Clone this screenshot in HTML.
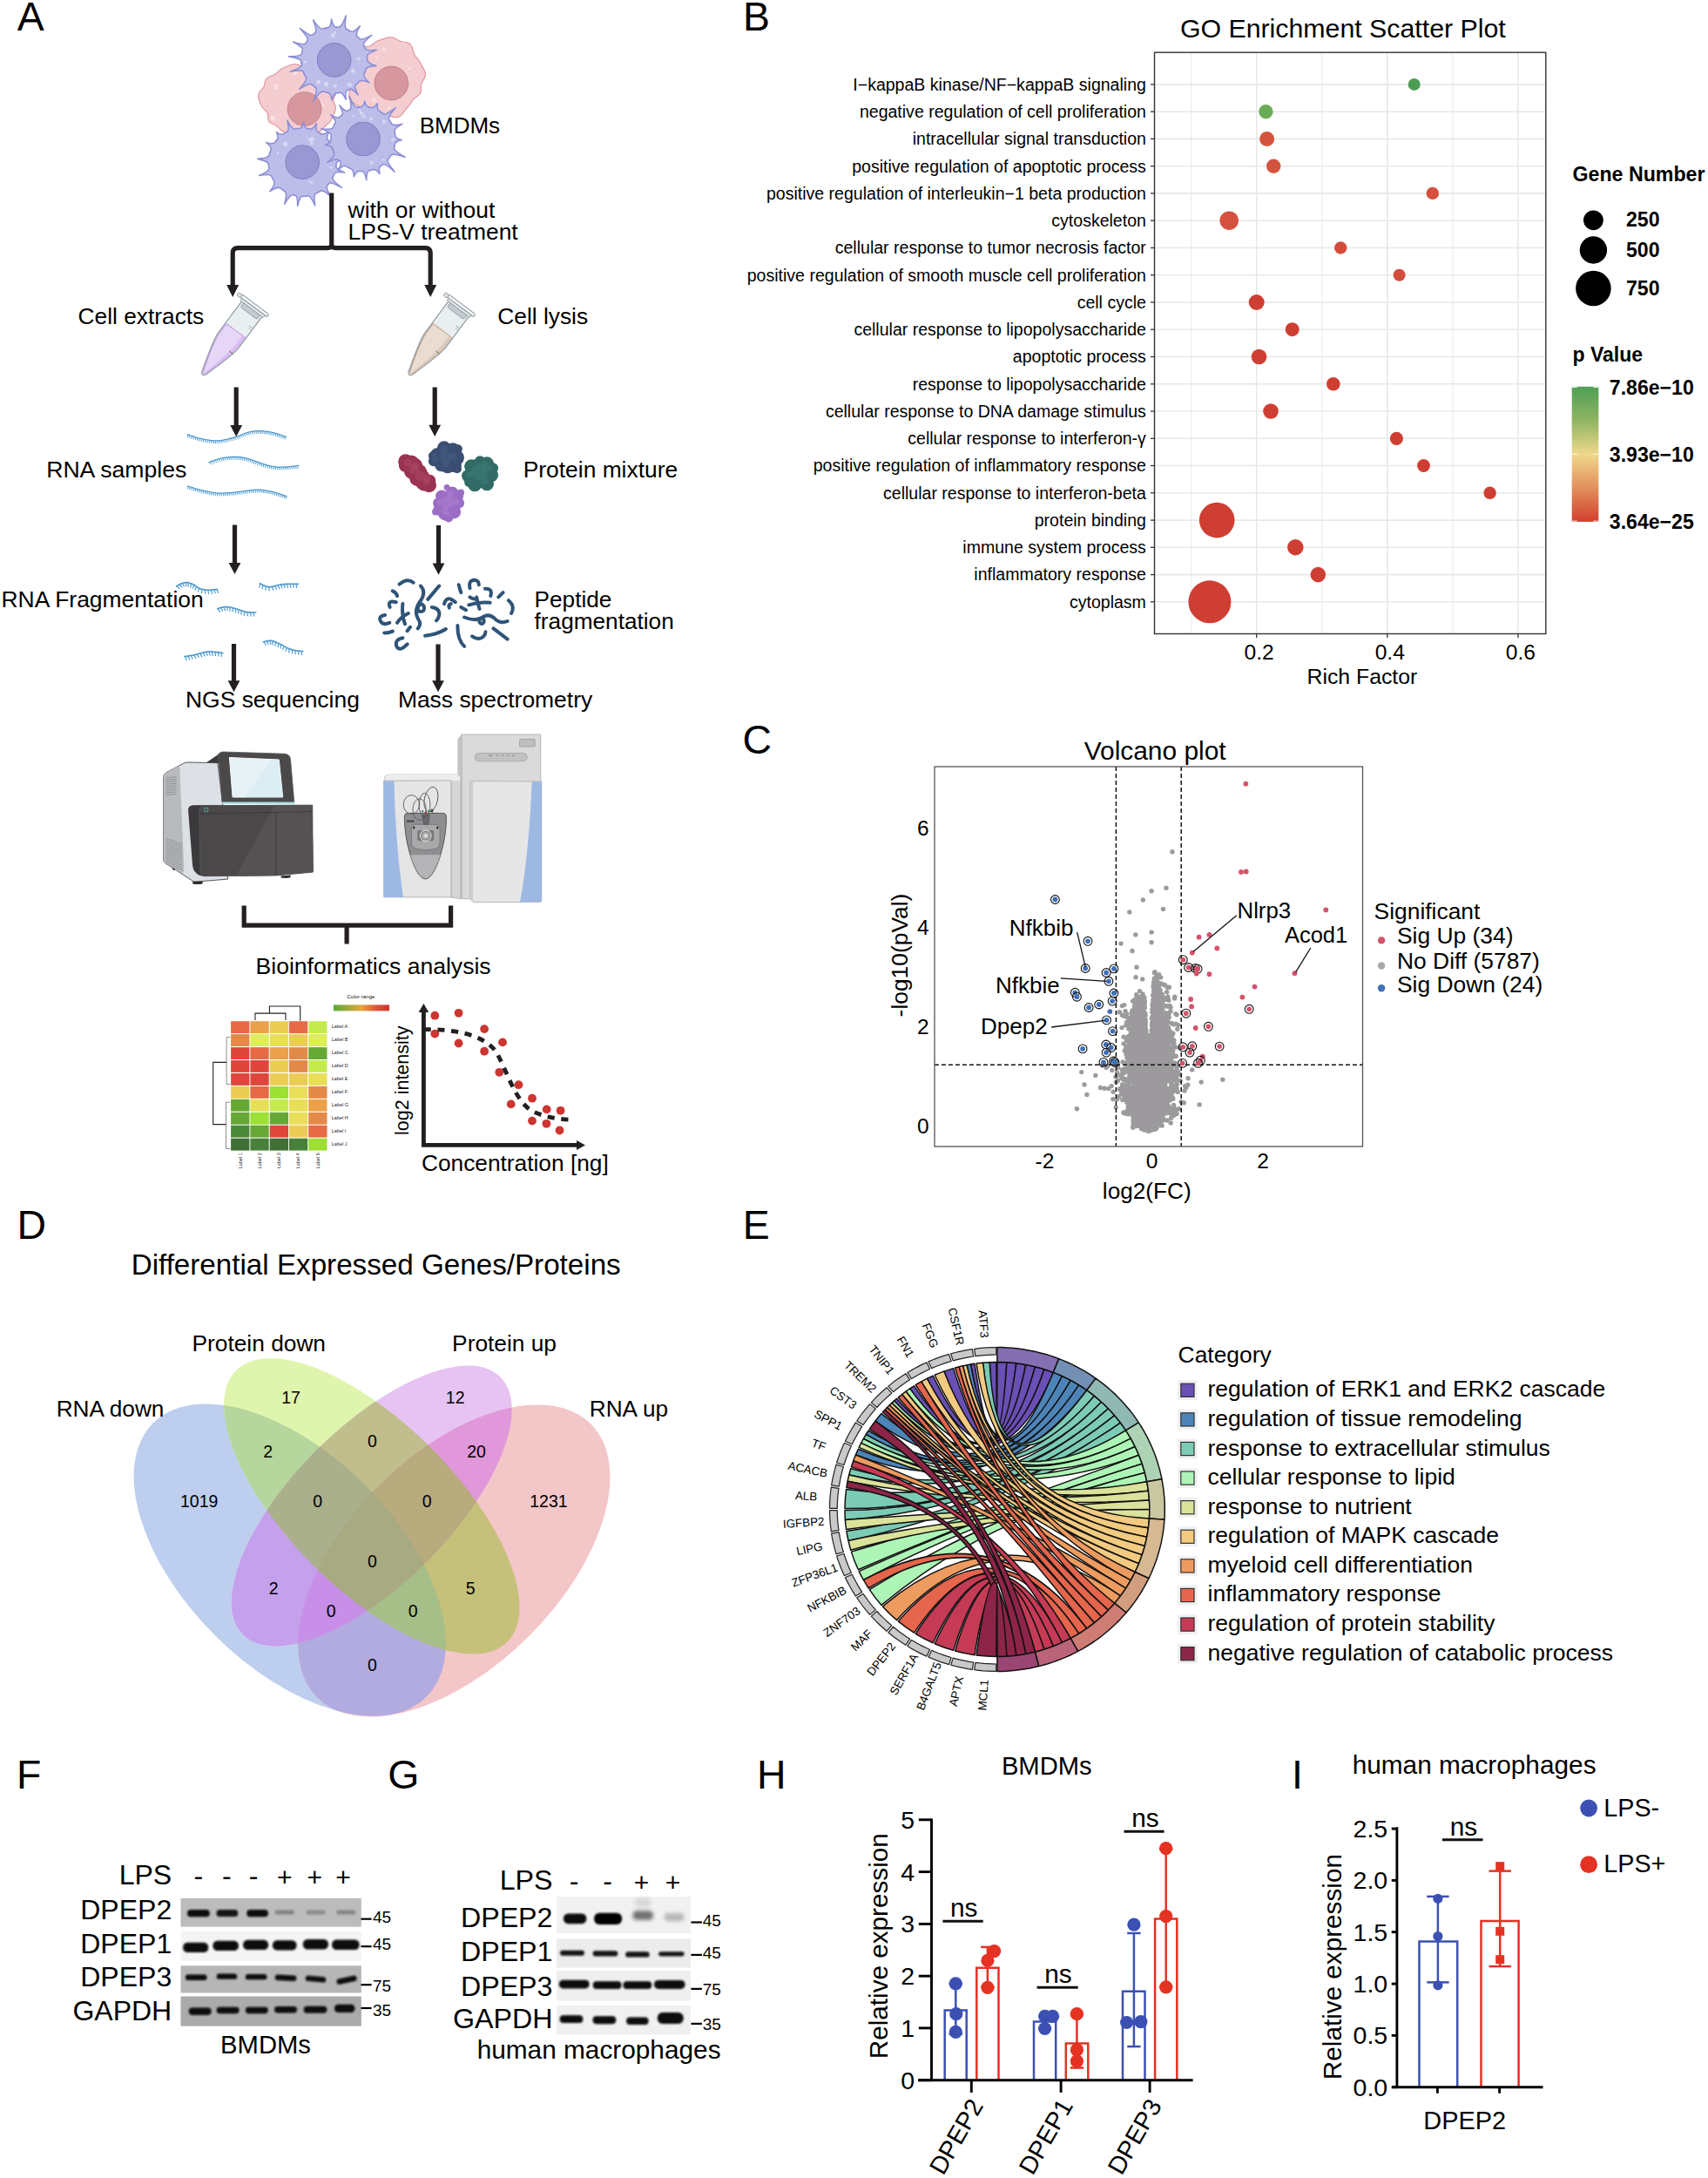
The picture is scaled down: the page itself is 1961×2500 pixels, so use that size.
<!DOCTYPE html>
<html><head><meta charset="utf-8"><title>Figure</title>
<style>html,body{margin:0;padding:0;background:#fff}svg{display:block}text{font-family:'Liberation Sans', Arial, sans-serif;}</style>
</head><body>
<svg width="1961" height="2500" viewBox="0 0 1961 2500" font-family="Liberation Sans, Arial, sans-serif">
<rect width="1961" height="2500" fill="#fff"/>
<g id="letters"><text x="19.8" y="34.9" font-size="46.4">A</text>
<text x="852.9" y="34.9" font-size="46.4">B</text>
<text x="852.5" y="865.4" font-size="46.4">C</text>
<text x="19.5" y="1421.9" font-size="46.4">D</text>
<text x="852.8" y="1421.9" font-size="46.4">E</text>
<text x="19.0" y="2052.8" font-size="46.4">F</text>
<text x="445.3" y="2052.8" font-size="46.4">G</text>
<text x="869.1" y="2052.8" font-size="46.4">H</text>
<text x="1482.9" y="2052.8" font-size="46.4">I</text></g>
<g id="panelB">
<text x="1541.8" y="43.4" font-size="30.3" text-anchor="middle">GO Enrichment Scatter Plot</text>
<rect x="1325.5" y="60.2" width="449.3" height="667.3" fill="#fff"/>
<line x1="1442.7" y1="60.2" x2="1442.7" y2="727.5" stroke="#e8e8e8" stroke-width="1.6"/>
<line x1="1592.8" y1="60.2" x2="1592.8" y2="727.5" stroke="#e8e8e8" stroke-width="1.6"/>
<line x1="1742.9" y1="60.2" x2="1742.9" y2="727.5" stroke="#e8e8e8" stroke-width="1.6"/>
<line x1="1367.7" y1="60.2" x2="1367.7" y2="727.5" stroke="#eeeeee" stroke-width="1.2"/>
<line x1="1517.8" y1="60.2" x2="1517.8" y2="727.5" stroke="#eeeeee" stroke-width="1.2"/>
<line x1="1667.9" y1="60.2" x2="1667.9" y2="727.5" stroke="#eeeeee" stroke-width="1.2"/>
<line x1="1325.5" y1="96.9" x2="1774.8" y2="96.9" stroke="#e8e8e8" stroke-width="1.6"/>
<line x1="1325.5" y1="128.2" x2="1774.8" y2="128.2" stroke="#e8e8e8" stroke-width="1.6"/>
<line x1="1325.5" y1="159.4" x2="1774.8" y2="159.4" stroke="#e8e8e8" stroke-width="1.6"/>
<line x1="1325.5" y1="190.7" x2="1774.8" y2="190.7" stroke="#e8e8e8" stroke-width="1.6"/>
<line x1="1325.5" y1="221.9" x2="1774.8" y2="221.9" stroke="#e8e8e8" stroke-width="1.6"/>
<line x1="1325.5" y1="253.2" x2="1774.8" y2="253.2" stroke="#e8e8e8" stroke-width="1.6"/>
<line x1="1325.5" y1="284.5" x2="1774.8" y2="284.5" stroke="#e8e8e8" stroke-width="1.6"/>
<line x1="1325.5" y1="315.7" x2="1774.8" y2="315.7" stroke="#e8e8e8" stroke-width="1.6"/>
<line x1="1325.5" y1="347.0" x2="1774.8" y2="347.0" stroke="#e8e8e8" stroke-width="1.6"/>
<line x1="1325.5" y1="378.2" x2="1774.8" y2="378.2" stroke="#e8e8e8" stroke-width="1.6"/>
<line x1="1325.5" y1="409.5" x2="1774.8" y2="409.5" stroke="#e8e8e8" stroke-width="1.6"/>
<line x1="1325.5" y1="440.8" x2="1774.8" y2="440.8" stroke="#e8e8e8" stroke-width="1.6"/>
<line x1="1325.5" y1="472.0" x2="1774.8" y2="472.0" stroke="#e8e8e8" stroke-width="1.6"/>
<line x1="1325.5" y1="503.3" x2="1774.8" y2="503.3" stroke="#e8e8e8" stroke-width="1.6"/>
<line x1="1325.5" y1="534.5" x2="1774.8" y2="534.5" stroke="#e8e8e8" stroke-width="1.6"/>
<line x1="1325.5" y1="565.8" x2="1774.8" y2="565.8" stroke="#e8e8e8" stroke-width="1.6"/>
<line x1="1325.5" y1="597.1" x2="1774.8" y2="597.1" stroke="#e8e8e8" stroke-width="1.6"/>
<line x1="1325.5" y1="628.3" x2="1774.8" y2="628.3" stroke="#e8e8e8" stroke-width="1.6"/>
<line x1="1325.5" y1="659.6" x2="1774.8" y2="659.6" stroke="#e8e8e8" stroke-width="1.6"/>
<line x1="1325.5" y1="690.8" x2="1774.8" y2="690.8" stroke="#e8e8e8" stroke-width="1.6"/>
<rect x="1325.5" y="60.2" width="449.3" height="667.3" fill="none" stroke="#333" stroke-width="1.4"/>
<line x1="1321.0" y1="96.9" x2="1325.5" y2="96.9" stroke="#333" stroke-width="1.3"/>
<text x="1315.9" y="103.7" font-size="19.55" text-anchor="end">I−kappaB kinase/NF−kappaB signaling</text>
<circle cx="1623.7" cy="96.9" r="7.0" fill="#4a9d52"/>
<line x1="1321.0" y1="128.2" x2="1325.5" y2="128.2" stroke="#333" stroke-width="1.3"/>
<text x="1315.9" y="135.0" font-size="19.55" text-anchor="end">negative regulation of cell proliferation</text>
<circle cx="1453.4" cy="128.2" r="8.2" fill="#6aab58"/>
<line x1="1321.0" y1="159.4" x2="1325.5" y2="159.4" stroke="#333" stroke-width="1.3"/>
<text x="1315.9" y="166.2" font-size="19.55" text-anchor="end">intracellular signal transduction</text>
<circle cx="1454.6" cy="159.4" r="8.5" fill="#d4533f"/>
<line x1="1321.0" y1="190.7" x2="1325.5" y2="190.7" stroke="#333" stroke-width="1.3"/>
<text x="1315.9" y="197.5" font-size="19.55" text-anchor="end">positive regulation of apoptotic process</text>
<circle cx="1462.2" cy="190.7" r="8.2" fill="#d4533f"/>
<line x1="1321.0" y1="221.9" x2="1325.5" y2="221.9" stroke="#333" stroke-width="1.3"/>
<text x="1315.9" y="228.7" font-size="19.55" text-anchor="end">positive regulation of interleukin−1 beta production</text>
<circle cx="1644.8" cy="221.9" r="7.2" fill="#d4503d"/>
<line x1="1321.0" y1="253.2" x2="1325.5" y2="253.2" stroke="#333" stroke-width="1.3"/>
<text x="1315.9" y="260.0" font-size="19.55" text-anchor="end">cytoskeleton</text>
<circle cx="1411.2" cy="253.2" r="10.8" fill="#d5513f"/>
<line x1="1321.0" y1="284.5" x2="1325.5" y2="284.5" stroke="#333" stroke-width="1.3"/>
<text x="1315.9" y="291.3" font-size="19.55" text-anchor="end">cellular response to tumor necrosis factor</text>
<circle cx="1539.2" cy="284.5" r="7.2" fill="#d34c3c"/>
<line x1="1321.0" y1="315.7" x2="1325.5" y2="315.7" stroke="#333" stroke-width="1.3"/>
<text x="1315.9" y="322.5" font-size="19.55" text-anchor="end">positive regulation of smooth muscle cell proliferation</text>
<circle cx="1606.6" cy="315.7" r="7.0" fill="#d34c3c"/>
<line x1="1321.0" y1="347.0" x2="1325.5" y2="347.0" stroke="#333" stroke-width="1.3"/>
<text x="1315.9" y="353.8" font-size="19.55" text-anchor="end">cell cycle</text>
<circle cx="1442.7" cy="347.0" r="9.0" fill="#cf3e33"/>
<line x1="1321.0" y1="378.2" x2="1325.5" y2="378.2" stroke="#333" stroke-width="1.3"/>
<text x="1315.9" y="385.0" font-size="19.55" text-anchor="end">cellular response to lipopolysaccharide</text>
<circle cx="1483.7" cy="378.2" r="8.0" fill="#cf3e33"/>
<line x1="1321.0" y1="409.5" x2="1325.5" y2="409.5" stroke="#333" stroke-width="1.3"/>
<text x="1315.9" y="416.3" font-size="19.55" text-anchor="end">apoptotic process</text>
<circle cx="1445.5" cy="409.5" r="8.8" fill="#cf3e33"/>
<line x1="1321.0" y1="440.8" x2="1325.5" y2="440.8" stroke="#333" stroke-width="1.3"/>
<text x="1315.9" y="447.6" font-size="19.55" text-anchor="end">response to lipopolysaccharide</text>
<circle cx="1530.8" cy="440.8" r="7.8" fill="#cf3e33"/>
<line x1="1321.0" y1="472.0" x2="1325.5" y2="472.0" stroke="#333" stroke-width="1.3"/>
<text x="1315.9" y="478.8" font-size="19.55" text-anchor="end">cellular response to DNA damage stimulus</text>
<circle cx="1459.0" cy="472.0" r="8.8" fill="#cf3e33"/>
<line x1="1321.0" y1="503.3" x2="1325.5" y2="503.3" stroke="#333" stroke-width="1.3"/>
<text x="1315.9" y="510.1" font-size="19.55" text-anchor="end">cellular response to interferon-γ</text>
<circle cx="1603.4" cy="503.3" r="7.6" fill="#cf3e33"/>
<line x1="1321.0" y1="534.5" x2="1325.5" y2="534.5" stroke="#333" stroke-width="1.3"/>
<text x="1315.9" y="541.3" font-size="19.55" text-anchor="end">positive regulation of inflammatory response</text>
<circle cx="1634.5" cy="534.5" r="7.4" fill="#cf3e33"/>
<line x1="1321.0" y1="565.8" x2="1325.5" y2="565.8" stroke="#333" stroke-width="1.3"/>
<text x="1315.9" y="572.6" font-size="19.55" text-anchor="end">cellular response to interferon-beta</text>
<circle cx="1710.6" cy="565.8" r="7.2" fill="#cf3e33"/>
<line x1="1321.0" y1="597.1" x2="1325.5" y2="597.1" stroke="#333" stroke-width="1.3"/>
<text x="1315.9" y="603.9" font-size="19.55" text-anchor="end">protein binding</text>
<circle cx="1397.2" cy="597.1" r="20.3" fill="#cf3e33"/>
<line x1="1321.0" y1="628.3" x2="1325.5" y2="628.3" stroke="#333" stroke-width="1.3"/>
<text x="1315.9" y="635.1" font-size="19.55" text-anchor="end">immune system process</text>
<circle cx="1487.3" cy="628.3" r="9.2" fill="#cf3e33"/>
<line x1="1321.0" y1="659.6" x2="1325.5" y2="659.6" stroke="#333" stroke-width="1.3"/>
<text x="1315.9" y="666.4" font-size="19.55" text-anchor="end">inflammatory response</text>
<circle cx="1513.3" cy="659.6" r="8.8" fill="#cf3e33"/>
<line x1="1321.0" y1="690.8" x2="1325.5" y2="690.8" stroke="#333" stroke-width="1.3"/>
<text x="1315.9" y="697.6" font-size="19.55" text-anchor="end">cytoplasm</text>
<circle cx="1388.9" cy="690.8" r="24.5" fill="#cf3e33"/>
<line x1="1442.7" y1="727.5" x2="1442.7" y2="732.0" stroke="#333" stroke-width="1.3"/>
<text x="1445.7" y="757.0" font-size="24.6" text-anchor="middle">0.2</text>
<line x1="1592.8" y1="727.5" x2="1592.8" y2="732.0" stroke="#333" stroke-width="1.3"/>
<text x="1595.8" y="757.0" font-size="24.6" text-anchor="middle">0.4</text>
<line x1="1742.9" y1="727.5" x2="1742.9" y2="732.0" stroke="#333" stroke-width="1.3"/>
<text x="1745.9" y="757.0" font-size="24.6" text-anchor="middle">0.6</text>
<text x="1563.9" y="785.0" font-size="24.8" text-anchor="middle">Rich Factor</text>
<text x="1805.5" y="208.0" font-size="23.2" font-weight="bold">Gene Number</text>
<circle cx="1829.4" cy="252.8" r="11.4" fill="#000"/>
<text x="1867.0" y="260.0" font-size="23.1" font-weight="bold">250</text>
<circle cx="1829.4" cy="287.0" r="15.7" fill="#000"/>
<text x="1867.0" y="294.7" font-size="23.1" font-weight="bold">500</text>
<circle cx="1829.4" cy="331.0" r="20.3" fill="#000"/>
<text x="1867.0" y="338.5" font-size="23.1" font-weight="bold">750</text>
<text x="1805.5" y="415.0" font-size="23" font-weight="bold">p Value</text>
<defs><linearGradient id="pv" x1="0" y1="0" x2="0" y2="1"><stop offset="0" stop-color="#4f9e55"/><stop offset="0.25" stop-color="#8fb564"/><stop offset="0.5" stop-color="#efd88c"/><stop offset="0.75" stop-color="#e28f5c"/><stop offset="1" stop-color="#d1402f"/></linearGradient></defs>
<rect x="1804.7" y="443.8" width="30.7" height="155.1" fill="url(#pv)"/>
<line x1="1804.7" y1="444.6" x2="1810.8" y2="444.6" stroke="#fff" stroke-width="0.9"/>
<line x1="1829.3" y1="444.6" x2="1835.4" y2="444.6" stroke="#fff" stroke-width="0.9"/>
<line x1="1804.7" y1="521.3" x2="1810.8" y2="521.3" stroke="#fff" stroke-width="0.9"/>
<line x1="1829.3" y1="521.3" x2="1835.4" y2="521.3" stroke="#fff" stroke-width="0.9"/>
<line x1="1804.7" y1="598.1" x2="1810.8" y2="598.1" stroke="#fff" stroke-width="0.9"/>
<line x1="1829.3" y1="598.1" x2="1835.4" y2="598.1" stroke="#fff" stroke-width="0.9"/>
<text x="1847.8" y="452.6" font-size="23.1" font-weight="bold">7.86e−10</text>
<text x="1847.8" y="530.0" font-size="23.1" font-weight="bold">3.93e−10</text>
<text x="1847.8" y="607.3" font-size="23.1" font-weight="bold">3.64e−25</text>
</g>
<g id="panelC">
<text x="1326.2" y="872.3" font-size="29.9" text-anchor="middle">Volcano plot</text>
<path d="M1330.3 1281.1h0M1325.9 1291.7h0M1316.7 1288.0h0M1333.0 1226.6h0M1324.2 1153.2h0M1326.9 1263.1h0M1323.6 1255.8h0M1311.1 1220.5h0M1322.3 1264.1h0M1320.9 1238.3h0M1309.6 1149.5h0M1347.0 1221.9h0M1333.6 1218.8h0M1304.8 1147.0h0M1324.1 1184.8h0M1317.6 1295.8h0M1318.2 1210.5h0M1297.0 1191.2h0M1304.8 1151.1h0M1319.0 1242.9h0M1340.2 1256.1h0M1351.2 1227.7h0M1329.7 1150.6h0M1309.5 1225.8h0M1310.5 1259.5h0M1304.3 1256.8h0M1314.4 1269.5h0M1316.6 1286.7h0M1321.1 1295.7h0M1327.7 1295.3h0M1307.3 1268.5h0M1314.2 1209.3h0M1323.1 1183.8h0M1306.2 1266.4h0M1332.6 1191.2h0M1313.5 1272.4h0M1339.9 1191.0h0M1313.0 1170.9h0M1336.1 1194.9h0M1321.2 1296.7h0M1325.2 1133.3h0M1320.0 1270.8h0M1303.9 1194.3h0M1330.6 1134.0h0M1290.1 1248.0h0M1332.5 1244.2h0M1335.7 1234.8h0M1335.8 1266.7h0M1306.4 1148.6h0M1360.6 1246.6h0M1308.7 1290.1h0M1312.4 1149.4h0M1308.2 1145.8h0M1308.6 1259.6h0M1304.4 1235.0h0M1290.5 1239.8h0M1297.1 1181.5h0M1305.0 1182.1h0M1312.4 1190.8h0M1322.8 1191.0h0M1332.1 1192.0h0M1308.1 1192.4h0M1313.1 1285.8h0M1323.2 1263.5h0M1318.7 1258.7h0M1311.5 1173.2h0M1332.2 1219.7h0M1300.2 1162.8h0M1320.8 1290.3h0M1327.5 1202.1h0M1308.9 1264.8h0M1332.5 1188.4h0M1322.5 1244.1h0M1304.2 1268.1h0M1316.0 1263.6h0M1329.4 1161.7h0M1309.7 1185.7h0M1339.5 1202.8h0M1336.1 1188.2h0M1323.8 1153.0h0M1307.1 1272.1h0M1329.2 1202.8h0M1302.4 1242.4h0M1345.5 1237.1h0M1313.9 1289.8h0M1329.4 1220.2h0M1309.3 1281.5h0M1316.7 1296.9h0M1297.7 1221.1h0M1320.2 1284.8h0M1288.3 1154.6h0M1314.0 1190.2h0M1313.7 1189.4h0M1305.8 1159.4h0M1318.0 1297.9h0M1315.1 1259.0h0M1314.2 1152.4h0M1287.7 1255.8h0M1318.5 1249.4h0M1323.0 1180.7h0M1309.3 1276.6h0M1329.0 1163.1h0M1327.4 1192.8h0M1311.9 1265.6h0M1315.4 1259.1h0M1272.0 1223.3h0M1323.5 1274.6h0M1318.5 1288.0h0M1325.4 1233.2h0M1302.1 1238.4h0M1313.0 1187.7h0M1316.0 1184.3h0M1333.6 1189.3h0M1321.6 1217.2h0M1322.4 1253.6h0M1345.4 1220.4h0M1340.6 1172.0h0M1326.4 1193.1h0M1326.6 1225.6h0M1314.8 1231.7h0M1300.0 1263.9h0M1311.7 1171.0h0M1288.1 1179.6h0M1333.0 1222.0h0M1323.2 1250.3h0M1297.2 1169.5h0M1340.0 1273.0h0M1289.9 1276.9h0M1287.7 1253.4h0M1317.5 1291.5h0M1332.4 1144.3h0M1310.6 1255.6h0M1320.5 1258.2h0M1345.1 1257.6h0M1303.2 1244.2h0M1314.7 1195.8h0M1306.4 1193.3h0M1331.7 1212.9h0M1309.9 1266.8h0M1328.3 1188.9h0M1331.5 1241.9h0M1329.0 1153.2h0M1327.3 1257.0h0M1304.2 1182.7h0M1330.6 1186.2h0M1316.1 1287.3h0M1331.5 1250.7h0M1310.7 1161.3h0M1322.5 1255.7h0M1326.9 1280.8h0M1324.5 1184.9h0M1298.6 1185.0h0M1341.8 1276.7h0M1316.9 1199.3h0M1327.3 1150.1h0M1317.9 1282.2h0M1310.2 1275.1h0M1313.4 1262.7h0M1307.0 1286.8h0M1326.2 1279.6h0M1308.0 1189.3h0M1325.1 1199.5h0M1307.8 1184.9h0M1329.5 1174.6h0M1324.9 1235.3h0M1326.3 1255.9h0M1298.9 1192.5h0M1307.1 1145.4h0M1305.1 1192.4h0M1323.7 1187.2h0M1309.9 1239.1h0M1314.4 1149.4h0M1337.8 1189.3h0M1339.9 1250.3h0M1304.9 1248.2h0M1327.8 1211.0h0M1315.2 1286.1h0M1314.3 1240.0h0M1332.9 1155.5h0M1295.3 1189.6h0M1290.8 1153.6h0M1331.3 1208.2h0M1325.3 1187.2h0M1322.4 1240.9h0M1315.2 1261.9h0M1329.0 1189.5h0M1326.3 1166.9h0M1334.6 1185.1h0M1338.3 1278.1h0M1338.8 1225.3h0M1318.1 1298.2h0M1326.9 1239.7h0M1317.5 1295.8h0M1326.0 1272.7h0M1307.6 1244.0h0M1329.3 1287.4h0M1308.3 1268.1h0M1296.8 1224.5h0M1306.7 1195.0h0M1327.4 1291.7h0M1304.9 1148.3h0M1315.4 1186.4h0M1342.0 1155.3h0M1317.7 1213.5h0M1318.2 1293.9h0M1306.7 1158.9h0M1297.8 1168.6h0M1318.0 1197.7h0M1331.2 1147.0h0M1332.4 1271.0h0M1307.9 1186.4h0M1332.0 1173.0h0M1311.6 1227.2h0M1321.7 1286.2h0M1325.0 1293.6h0M1336.8 1192.0h0M1307.4 1285.6h0M1340.3 1204.0h0M1312.9 1211.7h0M1306.6 1269.0h0M1332.9 1188.1h0M1301.1 1251.1h0M1306.0 1167.8h0M1313.0 1186.6h0M1302.5 1155.3h0M1327.6 1258.7h0M1350.9 1273.8h0M1332.1 1208.2h0M1298.5 1252.5h0M1314.1 1194.1h0M1319.8 1237.6h0M1306.8 1261.0h0M1314.1 1186.7h0M1319.9 1245.5h0M1323.9 1217.9h0M1325.7 1261.0h0M1346.6 1186.8h0M1326.0 1254.4h0M1325.1 1275.9h0M1316.3 1294.5h0M1305.8 1226.0h0M1336.5 1213.6h0M1311.0 1173.8h0M1328.9 1159.5h0M1330.8 1262.6h0M1323.0 1158.8h0M1302.3 1227.3h0M1332.7 1223.5h0M1331.4 1153.6h0M1337.4 1216.3h0M1325.3 1251.4h0M1306.8 1211.1h0M1305.2 1267.0h0M1317.6 1218.5h0M1326.5 1147.2h0M1314.6 1274.1h0M1326.1 1244.7h0M1326.3 1225.3h0M1310.9 1235.7h0M1315.6 1181.7h0M1319.2 1298.1h0M1303.0 1243.5h0M1343.5 1192.1h0M1314.5 1296.6h0M1316.6 1286.7h0M1320.6 1280.9h0M1334.6 1164.2h0M1303.0 1152.4h0M1320.0 1197.4h0M1310.0 1242.0h0M1320.1 1241.4h0M1334.8 1171.4h0M1339.2 1250.5h0M1324.0 1295.1h0M1346.8 1186.1h0M1335.2 1216.2h0M1320.5 1244.1h0M1325.2 1250.1h0M1324.4 1174.7h0M1335.1 1264.1h0M1323.4 1215.7h0M1317.1 1297.6h0M1334.5 1208.1h0M1323.4 1218.7h0M1327.2 1246.0h0M1326.9 1209.8h0M1323.5 1155.1h0M1297.6 1261.9h0M1296.8 1233.5h0M1307.0 1193.3h0M1333.9 1191.1h0M1317.3 1224.6h0M1313.0 1220.2h0M1314.9 1188.8h0M1313.5 1185.8h0M1312.3 1158.0h0M1323.7 1142.5h0M1330.6 1223.9h0M1325.4 1186.9h0M1314.6 1232.6h0M1331.7 1176.8h0M1323.4 1208.4h0M1323.2 1291.4h0M1329.9 1229.1h0M1336.6 1249.3h0M1319.0 1195.9h0M1333.0 1250.0h0M1331.7 1203.1h0M1332.1 1201.0h0M1320.6 1288.6h0M1310.8 1147.7h0M1322.9 1269.2h0M1321.3 1206.1h0M1333.8 1150.0h0M1315.3 1276.4h0M1321.5 1252.3h0M1329.8 1187.4h0M1322.9 1294.5h0M1347.6 1268.4h0M1305.5 1277.7h0M1325.9 1171.9h0M1307.7 1252.9h0M1326.7 1225.1h0M1326.2 1280.1h0M1295.8 1269.1h0M1326.0 1193.0h0M1304.4 1152.7h0M1330.4 1230.7h0M1315.2 1284.2h0M1316.7 1220.9h0M1298.3 1192.3h0M1297.6 1188.2h0M1305.1 1163.2h0M1317.8 1226.5h0M1309.7 1167.0h0M1313.6 1280.6h0M1312.2 1242.2h0M1326.0 1152.6h0M1314.7 1265.6h0M1317.1 1195.9h0M1325.6 1154.7h0M1325.2 1203.2h0M1326.4 1144.4h0M1311.9 1158.9h0M1312.3 1241.7h0M1323.9 1153.8h0M1345.3 1174.5h0M1328.5 1131.1h0M1318.0 1279.7h0M1337.8 1247.4h0M1305.6 1151.0h0M1335.7 1198.5h0M1307.5 1236.9h0M1317.8 1286.6h0M1300.4 1218.4h0M1345.7 1238.6h0M1305.1 1193.1h0M1310.4 1284.4h0M1321.5 1187.8h0M1298.5 1168.5h0M1281.2 1270.9h0M1321.5 1188.8h0M1333.0 1256.7h0M1311.9 1296.0h0M1325.3 1123.1h0M1321.7 1268.0h0M1311.2 1189.6h0M1331.6 1230.4h0M1312.6 1237.3h0M1318.4 1251.9h0M1337.7 1202.3h0M1300.9 1217.1h0M1315.4 1262.8h0M1299.3 1231.4h0M1307.4 1234.7h0M1295.1 1210.1h0M1308.1 1291.3h0M1319.5 1272.6h0M1340.2 1258.0h0M1323.6 1168.9h0M1325.4 1208.6h0M1334.1 1195.1h0M1304.9 1164.3h0M1307.1 1180.4h0M1334.6 1208.3h0M1302.5 1263.6h0M1305.7 1193.1h0M1312.4 1145.1h0M1322.3 1241.5h0M1327.8 1129.0h0M1327.0 1258.2h0M1300.9 1255.5h0M1298.7 1184.4h0M1326.9 1262.0h0M1338.1 1196.1h0M1312.0 1173.8h0M1308.2 1276.8h0M1333.1 1184.7h0M1331.1 1179.7h0M1327.0 1165.4h0M1377.1 1267.9h0M1318.4 1284.5h0M1325.8 1278.9h0M1315.3 1192.2h0M1315.2 1177.2h0M1334.2 1292.1h0M1296.1 1269.8h0M1325.6 1195.6h0M1330.6 1130.2h0M1343.2 1263.0h0M1306.9 1278.5h0M1303.2 1234.1h0M1315.5 1290.9h0M1318.5 1276.5h0M1316.9 1259.3h0M1297.4 1202.9h0M1314.5 1187.2h0M1328.5 1144.9h0M1321.0 1283.4h0M1310.8 1256.3h0M1330.6 1189.1h0M1332.4 1175.7h0M1314.4 1288.5h0M1325.9 1285.9h0M1318.1 1290.8h0M1301.9 1180.9h0M1328.4 1220.6h0M1311.3 1218.4h0M1303.4 1277.6h0M1313.1 1193.3h0M1310.5 1254.8h0M1321.4 1202.4h0M1292.6 1220.1h0M1307.8 1180.7h0M1316.3 1270.4h0M1320.2 1212.9h0M1325.3 1133.8h0M1313.0 1246.6h0M1316.4 1192.2h0M1304.3 1154.1h0M1310.4 1269.8h0M1312.7 1262.8h0M1347.8 1270.7h0M1309.3 1197.2h0M1331.1 1167.3h0M1322.9 1245.6h0M1307.7 1257.1h0M1309.4 1218.1h0M1316.8 1256.8h0M1345.3 1276.7h0M1321.3 1191.4h0M1321.1 1295.2h0M1327.4 1225.4h0M1325.6 1152.8h0M1307.3 1179.0h0M1303.7 1183.1h0M1333.1 1159.2h0M1315.1 1280.3h0M1314.4 1279.6h0M1318.6 1248.1h0M1329.1 1151.6h0M1309.3 1239.5h0M1325.2 1203.9h0M1316.4 1233.9h0M1346.6 1245.7h0M1325.0 1221.0h0M1330.6 1130.9h0M1323.3 1276.8h0M1334.5 1255.8h0M1305.0 1253.0h0M1319.1 1285.5h0M1310.2 1269.6h0M1322.0 1285.4h0M1312.3 1290.0h0M1314.1 1156.6h0M1301.4 1175.3h0M1329.6 1188.4h0M1319.7 1296.6h0M1341.5 1173.6h0M1331.9 1193.4h0M1322.4 1211.0h0M1319.7 1214.0h0M1320.3 1287.0h0M1321.1 1202.5h0M1309.1 1206.8h0M1305.6 1254.8h0M1332.0 1205.9h0M1320.3 1241.0h0M1331.8 1204.8h0M1307.2 1201.7h0M1303.6 1260.7h0M1305.2 1278.9h0M1307.2 1257.9h0M1327.6 1245.8h0M1308.6 1267.2h0M1323.1 1238.0h0M1322.5 1210.2h0M1309.8 1256.9h0M1331.5 1169.3h0M1308.7 1291.4h0M1317.2 1256.4h0M1320.4 1297.5h0M1308.1 1263.8h0M1331.5 1215.3h0M1314.4 1185.4h0M1310.2 1191.9h0M1317.5 1295.7h0M1294.8 1252.7h0M1334.1 1275.9h0M1323.2 1205.8h0M1343.2 1236.9h0M1327.6 1261.0h0M1315.0 1259.7h0M1309.6 1260.1h0M1303.2 1215.5h0M1314.5 1210.6h0M1334.8 1231.1h0M1303.8 1213.6h0M1340.4 1179.5h0M1321.4 1238.5h0M1321.1 1223.4h0M1323.0 1291.5h0M1337.9 1182.9h0M1306.2 1206.8h0M1310.3 1214.5h0M1345.5 1192.3h0M1310.4 1248.7h0M1323.0 1264.2h0M1322.0 1199.7h0M1296.0 1180.9h0M1338.0 1220.3h0M1334.9 1184.6h0M1331.3 1186.0h0M1315.3 1190.4h0M1326.7 1193.3h0M1342.4 1271.5h0M1315.6 1271.9h0M1324.7 1139.3h0M1306.1 1249.4h0M1309.8 1169.7h0M1308.5 1137.6h0M1307.0 1278.1h0M1320.8 1251.7h0M1321.1 1223.7h0M1326.5 1250.4h0M1325.7 1282.0h0M1323.9 1142.5h0M1323.7 1285.1h0M1289.1 1219.0h0M1325.4 1155.5h0M1306.7 1184.6h0M1302.1 1216.9h0M1322.2 1261.5h0M1321.9 1268.1h0M1314.0 1243.8h0M1348.2 1238.4h0M1310.2 1204.4h0M1306.1 1286.6h0M1309.0 1288.3h0M1319.3 1243.7h0M1327.1 1256.4h0M1304.6 1254.8h0M1332.4 1278.0h0M1307.9 1203.0h0M1342.9 1250.0h0M1308.3 1247.7h0M1331.6 1224.2h0M1308.4 1192.6h0M1314.2 1222.2h0M1306.7 1238.2h0M1302.8 1230.6h0M1326.5 1244.2h0M1325.0 1204.0h0M1334.2 1220.6h0M1298.4 1273.1h0M1325.6 1212.2h0M1310.0 1170.6h0M1332.9 1184.2h0M1312.0 1239.1h0M1317.7 1262.6h0M1302.9 1250.3h0M1288.0 1237.0h0M1322.8 1256.5h0M1304.8 1292.5h0M1328.2 1267.1h0M1300.0 1165.0h0M1312.4 1192.4h0M1324.4 1191.7h0M1293.4 1206.8h0M1335.2 1274.2h0M1303.4 1286.8h0M1281.2 1223.0h0M1311.3 1218.8h0M1307.3 1231.8h0M1325.4 1138.9h0M1337.1 1272.8h0M1330.4 1173.4h0M1337.1 1192.8h0M1326.2 1258.6h0M1320.0 1242.9h0M1311.3 1282.4h0M1304.1 1192.6h0M1340.4 1190.3h0M1322.6 1270.1h0M1330.7 1290.4h0M1307.8 1164.9h0M1314.8 1224.4h0M1312.2 1222.5h0M1348.8 1202.0h0M1317.5 1197.8h0M1317.9 1244.9h0M1315.8 1275.7h0M1325.9 1198.7h0M1324.7 1130.5h0M1309.6 1187.5h0M1321.8 1265.0h0M1329.6 1230.3h0M1324.9 1229.8h0M1314.3 1205.2h0M1332.2 1155.0h0M1325.7 1270.4h0M1313.7 1282.3h0M1331.7 1209.2h0M1341.3 1226.9h0M1310.4 1177.5h0M1325.8 1188.5h0M1330.3 1152.7h0M1328.1 1155.2h0M1290.1 1190.2h0M1308.9 1183.5h0M1323.3 1194.5h0M1332.0 1154.7h0M1324.3 1288.4h0M1330.4 1202.7h0M1319.5 1285.7h0M1308.8 1260.0h0M1298.1 1264.9h0M1342.8 1222.8h0M1306.2 1204.2h0M1353.8 1272.7h0M1328.9 1189.0h0M1321.9 1187.1h0M1324.0 1132.3h0M1324.7 1199.7h0M1300.0 1161.2h0M1328.6 1137.0h0M1330.0 1221.0h0M1323.2 1152.6h0M1336.1 1212.5h0M1294.7 1261.2h0M1329.2 1231.2h0M1312.5 1162.5h0M1332.4 1250.2h0M1340.2 1254.8h0M1334.6 1279.8h0M1334.4 1282.4h0M1312.1 1186.6h0M1324.6 1187.8h0M1307.9 1268.6h0M1339.4 1275.0h0M1311.1 1209.3h0M1341.5 1234.5h0M1331.3 1193.4h0M1301.2 1210.1h0M1305.4 1190.9h0M1325.0 1212.2h0M1332.3 1263.3h0M1314.6 1209.8h0M1327.8 1253.5h0M1328.7 1168.1h0M1291.3 1259.6h0M1328.9 1161.2h0M1329.5 1201.7h0M1326.6 1212.1h0M1333.9 1153.3h0M1326.1 1159.3h0M1314.3 1204.1h0M1329.4 1221.0h0M1325.4 1290.1h0M1317.7 1282.5h0M1313.9 1206.0h0M1312.2 1226.4h0M1304.4 1207.6h0M1326.5 1294.9h0M1320.3 1291.1h0M1340.4 1239.8h0M1349.3 1220.3h0M1314.8 1252.3h0M1294.2 1248.2h0M1329.9 1234.3h0M1315.2 1274.8h0M1303.0 1268.2h0M1335.9 1195.5h0M1321.3 1280.8h0M1323.9 1285.9h0M1319.2 1295.9h0M1340.2 1133.2h0M1324.2 1273.9h0M1314.3 1168.0h0M1337.6 1170.6h0M1310.2 1275.5h0M1307.6 1172.9h0M1323.7 1252.6h0M1308.4 1219.2h0M1306.7 1291.2h0M1320.1 1208.2h0M1329.0 1287.6h0M1322.2 1270.9h0M1324.9 1296.3h0M1341.0 1185.8h0M1333.7 1208.4h0M1323.1 1166.9h0M1318.1 1206.9h0M1312.6 1253.0h0M1315.4 1274.7h0M1293.3 1258.0h0M1297.5 1190.2h0M1344.5 1229.0h0M1320.2 1285.4h0M1330.5 1251.8h0M1339.5 1154.6h0M1315.8 1201.1h0M1326.4 1132.9h0M1310.9 1287.5h0M1325.3 1116.5h0M1306.0 1251.2h0M1339.7 1138.7h0M1328.9 1286.4h0M1340.3 1236.9h0M1336.7 1236.8h0M1304.6 1187.7h0M1308.6 1154.8h0M1319.4 1219.8h0M1297.4 1269.0h0M1329.4 1188.1h0M1307.8 1218.9h0M1316.3 1257.0h0M1311.8 1286.9h0M1307.5 1215.1h0M1325.8 1193.8h0M1309.2 1194.9h0M1290.9 1277.7h0M1316.2 1233.2h0M1334.4 1188.7h0M1308.3 1208.2h0M1321.9 1270.0h0M1314.1 1183.9h0M1315.5 1225.0h0M1306.2 1202.7h0M1325.7 1245.8h0M1313.8 1278.5h0M1301.6 1257.1h0M1342.0 1272.9h0M1313.0 1270.9h0M1339.4 1268.0h0M1311.7 1246.5h0M1324.6 1284.7h0M1336.0 1223.7h0M1301.4 1167.9h0M1334.4 1281.8h0M1326.0 1176.5h0M1316.2 1195.2h0M1318.2 1282.3h0M1326.7 1130.3h0M1311.7 1184.0h0M1317.1 1251.8h0M1333.1 1279.8h0M1321.1 1246.4h0M1321.9 1284.6h0M1330.1 1231.9h0M1290.6 1231.4h0M1323.7 1200.0h0M1319.8 1292.5h0M1328.7 1265.3h0M1328.9 1201.3h0M1338.6 1270.5h0M1312.4 1166.2h0M1321.4 1256.5h0M1306.6 1163.4h0M1325.3 1244.0h0M1322.9 1188.7h0M1310.5 1144.9h0M1322.6 1177.0h0M1312.6 1273.8h0M1285.4 1250.2h0M1327.1 1257.7h0M1320.9 1296.3h0M1327.9 1217.7h0M1339.4 1269.1h0M1303.1 1165.2h0M1310.3 1181.4h0M1318.1 1297.9h0M1310.6 1154.6h0M1302.7 1238.6h0M1317.1 1292.1h0M1312.5 1218.7h0M1300.0 1242.1h0M1331.4 1280.8h0M1335.1 1207.2h0M1321.9 1217.4h0M1325.4 1222.5h0M1319.5 1286.0h0M1344.8 1237.4h0M1326.0 1265.1h0M1315.5 1280.4h0M1325.9 1146.3h0M1324.4 1192.5h0M1327.2 1281.1h0M1327.5 1284.7h0M1325.7 1168.3h0M1313.0 1243.1h0M1321.2 1243.8h0M1325.4 1192.3h0M1270.2 1225.5h0M1320.8 1245.1h0M1325.4 1287.6h0M1311.2 1188.5h0M1308.9 1203.1h0M1316.0 1259.7h0M1341.1 1268.7h0M1324.8 1189.0h0M1311.3 1157.8h0M1315.1 1178.0h0M1325.4 1147.9h0M1296.4 1177.9h0M1313.7 1165.9h0M1312.0 1146.6h0M1313.6 1255.5h0M1302.4 1194.3h0M1334.3 1182.9h0M1323.5 1156.7h0M1308.3 1202.3h0M1338.7 1177.7h0M1329.6 1191.1h0M1331.2 1198.8h0M1324.9 1155.3h0M1303.7 1286.9h0M1318.3 1290.3h0M1331.1 1252.4h0M1303.8 1196.0h0M1333.9 1198.4h0M1295.4 1168.8h0M1297.0 1256.9h0M1307.7 1193.8h0M1293.5 1173.4h0M1321.8 1272.9h0M1303.8 1214.6h0M1331.5 1282.0h0M1340.6 1186.0h0M1322.5 1176.8h0M1334.9 1195.6h0M1322.7 1173.7h0M1317.3 1239.7h0M1320.0 1216.4h0M1325.0 1278.3h0M1324.9 1215.9h0M1353.4 1202.5h0M1320.8 1290.4h0M1333.1 1225.3h0M1305.2 1275.6h0M1312.9 1279.8h0M1301.6 1240.7h0M1326.7 1130.6h0M1309.6 1279.0h0M1305.0 1257.9h0M1319.9 1280.9h0M1307.7 1158.1h0M1330.9 1264.3h0M1311.7 1148.1h0M1332.7 1259.5h0M1319.5 1285.2h0M1295.9 1243.5h0M1331.1 1237.5h0M1321.6 1254.1h0M1303.0 1254.0h0M1330.9 1260.3h0M1316.4 1276.3h0M1317.1 1291.8h0M1310.4 1192.6h0M1302.0 1175.6h0M1311.7 1186.6h0M1325.7 1217.4h0M1333.7 1228.7h0M1323.4 1186.9h0M1318.4 1280.9h0M1295.7 1220.5h0M1330.8 1246.7h0M1335.1 1190.5h0M1318.4 1278.3h0M1339.6 1155.1h0M1354.6 1233.2h0M1327.2 1195.0h0M1307.4 1228.5h0M1301.5 1192.8h0M1335.4 1211.3h0M1315.7 1191.6h0M1332.5 1285.4h0M1333.3 1214.8h0M1323.6 1184.4h0M1346.8 1205.9h0M1304.2 1189.7h0M1301.5 1220.6h0M1327.9 1188.7h0M1299.8 1193.7h0M1301.1 1193.6h0M1324.8 1177.8h0M1307.7 1189.2h0M1314.8 1192.0h0M1340.9 1144.2h0M1325.9 1237.4h0M1310.1 1235.0h0M1310.9 1242.0h0M1305.8 1165.2h0M1327.5 1135.8h0M1316.4 1284.2h0M1334.4 1236.2h0M1330.1 1264.0h0M1326.1 1284.8h0M1313.5 1292.7h0M1316.6 1297.3h0M1308.0 1194.7h0M1307.7 1191.8h0M1315.2 1187.8h0M1313.7 1145.1h0M1328.2 1279.9h0M1329.5 1231.0h0M1316.1 1234.3h0M1318.0 1250.0h0M1306.8 1183.0h0M1306.5 1210.9h0M1327.2 1240.8h0M1309.0 1289.0h0M1328.4 1263.1h0M1300.3 1263.4h0M1303.8 1279.4h0M1330.4 1280.5h0M1321.4 1286.6h0M1315.4 1221.8h0M1313.7 1155.4h0M1314.3 1184.7h0M1326.7 1252.5h0M1325.5 1236.3h0M1309.3 1242.5h0M1326.9 1180.4h0M1308.5 1243.0h0M1312.0 1186.7h0M1298.9 1261.5h0M1315.9 1218.8h0M1333.0 1151.1h0M1316.2 1189.5h0M1331.4 1257.9h0M1310.4 1239.0h0M1315.2 1231.1h0M1327.0 1250.5h0M1322.7 1210.3h0M1328.6 1192.5h0M1343.0 1217.3h0M1313.2 1246.7h0M1311.9 1157.8h0M1319.7 1225.7h0M1326.1 1294.7h0M1332.7 1207.4h0M1344.4 1242.6h0M1303.0 1172.9h0M1300.9 1280.3h0M1327.2 1201.0h0M1305.4 1176.2h0M1303.4 1230.3h0M1318.3 1297.1h0M1296.5 1226.9h0M1300.0 1264.8h0M1320.8 1231.3h0M1326.7 1224.7h0M1298.7 1262.8h0M1311.7 1185.5h0M1310.5 1255.2h0M1314.6 1209.6h0M1323.7 1272.3h0M1328.0 1254.1h0M1334.1 1172.8h0M1318.3 1298.1h0M1312.6 1240.3h0M1330.5 1146.9h0M1328.2 1184.6h0M1283.5 1233.9h0M1325.5 1223.3h0M1305.1 1178.0h0M1325.0 1279.8h0M1341.7 1271.7h0M1311.5 1214.5h0M1309.6 1221.1h0M1320.6 1224.6h0M1305.6 1228.2h0M1314.9 1283.0h0M1338.9 1220.7h0M1310.9 1272.9h0M1292.8 1176.7h0M1276.8 1228.4h0M1311.7 1201.6h0M1310.0 1196.5h0M1310.2 1199.7h0M1300.5 1259.9h0M1313.8 1280.1h0M1328.9 1181.0h0M1329.6 1287.9h0M1342.2 1188.0h0M1323.1 1275.9h0M1328.1 1182.7h0M1305.0 1189.2h0M1328.9 1212.2h0M1327.1 1258.6h0M1330.8 1280.7h0M1335.0 1185.2h0M1331.6 1266.8h0M1297.6 1273.5h0M1335.3 1203.4h0M1303.9 1209.5h0M1304.1 1205.1h0M1313.9 1286.8h0M1314.3 1199.3h0M1307.1 1276.6h0M1311.6 1202.7h0M1328.9 1210.6h0M1324.0 1179.7h0M1299.4 1255.9h0M1319.5 1280.8h0M1309.2 1269.5h0M1312.0 1245.6h0M1315.9 1272.8h0M1319.9 1209.1h0M1330.9 1174.3h0M1333.6 1189.9h0M1310.8 1196.4h0M1288.6 1232.6h0M1321.2 1256.2h0M1327.0 1226.1h0M1325.4 1216.8h0M1306.9 1223.1h0M1312.8 1259.8h0M1323.7 1179.7h0M1341.1 1191.9h0M1307.6 1277.8h0M1303.3 1238.6h0M1327.1 1272.3h0M1323.1 1175.2h0M1324.3 1247.0h0M1306.1 1181.2h0M1315.0 1294.5h0M1313.0 1217.1h0M1313.7 1216.5h0M1318.4 1296.6h0M1333.2 1276.1h0M1316.6 1269.6h0M1335.4 1190.4h0M1311.6 1190.2h0M1311.8 1181.1h0M1314.7 1231.4h0M1317.8 1206.7h0M1330.9 1240.7h0M1351.8 1181.3h0M1334.3 1205.2h0M1344.5 1205.8h0M1324.2 1268.7h0M1332.5 1190.5h0M1305.2 1219.8h0M1309.5 1249.8h0M1328.3 1252.3h0M1326.8 1158.8h0M1296.5 1208.3h0M1330.5 1152.2h0M1310.1 1233.4h0M1313.3 1216.4h0M1309.1 1179.9h0M1317.2 1254.9h0M1309.3 1188.5h0M1322.4 1217.2h0M1315.5 1187.4h0M1317.0 1201.4h0M1348.2 1235.5h0M1303.5 1252.7h0M1336.8 1163.2h0M1331.0 1261.1h0M1324.2 1217.6h0M1304.5 1179.1h0M1337.8 1220.2h0M1324.7 1260.1h0M1314.8 1163.0h0M1316.7 1246.6h0M1324.8 1134.4h0M1312.4 1242.1h0M1334.0 1229.0h0M1311.0 1287.6h0M1332.4 1187.9h0M1308.8 1254.5h0M1315.0 1255.4h0M1325.5 1154.4h0M1330.6 1144.8h0M1326.9 1266.7h0M1288.5 1232.4h0M1342.2 1260.4h0M1328.6 1235.2h0M1323.3 1225.8h0M1324.0 1193.8h0M1335.5 1272.5h0M1327.1 1231.3h0M1301.8 1239.3h0M1321.8 1234.5h0M1335.7 1242.0h0M1332.5 1235.7h0M1314.5 1283.1h0M1336.1 1206.7h0M1324.7 1184.3h0M1338.9 1199.2h0M1332.1 1162.9h0M1308.6 1148.2h0M1311.9 1266.8h0M1312.8 1149.8h0M1315.6 1210.1h0M1321.9 1258.4h0M1329.3 1190.7h0M1316.0 1198.4h0M1324.4 1270.7h0M1310.1 1218.4h0M1313.7 1213.8h0M1299.0 1162.7h0M1324.4 1132.5h0M1328.8 1240.9h0M1303.0 1176.1h0M1288.7 1247.3h0M1326.7 1154.3h0M1333.3 1184.4h0M1342.8 1250.9h0M1296.1 1256.5h0M1327.3 1247.2h0M1324.4 1278.7h0M1309.9 1269.8h0M1319.6 1258.8h0M1328.0 1172.8h0M1320.4 1222.0h0M1300.9 1179.9h0M1315.4 1293.3h0M1314.2 1266.4h0M1311.0 1205.1h0M1332.8 1164.9h0M1331.4 1187.0h0M1314.6 1260.1h0M1320.8 1199.0h0M1307.5 1217.8h0M1333.1 1166.0h0M1324.0 1155.0h0M1315.7 1210.3h0M1296.4 1211.9h0M1312.5 1244.4h0M1301.1 1162.8h0M1343.1 1237.2h0M1308.9 1259.1h0M1333.5 1278.6h0M1309.1 1287.3h0M1313.8 1147.3h0M1336.4 1189.8h0M1317.9 1275.7h0M1314.6 1179.5h0M1314.4 1285.0h0M1311.8 1232.2h0M1305.6 1158.3h0M1300.7 1260.7h0M1333.0 1192.5h0M1324.4 1237.1h0M1330.5 1276.4h0M1301.4 1217.0h0M1310.8 1237.9h0M1313.7 1199.9h0M1299.5 1191.7h0M1339.6 1187.8h0M1332.7 1149.5h0M1333.3 1286.9h0M1333.7 1179.1h0M1307.8 1191.6h0M1333.9 1179.9h0M1322.3 1200.1h0M1303.0 1164.3h0M1312.0 1205.2h0M1315.9 1293.7h0M1319.6 1281.6h0M1337.3 1251.1h0M1315.4 1184.2h0M1328.4 1193.2h0M1320.2 1239.8h0M1298.9 1267.9h0M1325.0 1196.6h0M1318.0 1296.5h0M1322.0 1294.4h0M1322.0 1214.9h0M1344.1 1234.9h0M1327.6 1204.1h0M1319.4 1286.2h0M1340.0 1168.9h0M1308.0 1231.0h0M1297.6 1249.7h0M1310.3 1253.6h0M1325.5 1296.4h0M1308.3 1256.4h0M1321.6 1196.3h0M1309.1 1207.2h0M1327.3 1151.1h0M1306.9 1214.7h0M1338.2 1196.4h0M1313.4 1250.2h0M1310.0 1272.2h0M1314.0 1205.3h0M1333.0 1251.4h0M1325.5 1284.2h0M1330.5 1195.3h0M1302.1 1208.9h0M1303.5 1260.4h0M1334.1 1253.0h0M1328.2 1142.7h0M1315.4 1267.3h0M1329.0 1245.7h0M1328.5 1220.4h0M1318.5 1290.5h0M1293.1 1261.0h0M1330.5 1207.9h0M1301.0 1285.4h0M1328.6 1204.3h0M1326.0 1142.4h0M1307.6 1196.7h0M1326.3 1145.3h0M1325.2 1288.4h0M1314.5 1277.0h0M1324.0 1226.4h0M1316.2 1189.7h0M1338.9 1235.0h0M1310.4 1203.3h0M1312.3 1208.9h0M1335.5 1286.0h0M1304.6 1223.0h0M1314.2 1283.8h0M1313.4 1206.8h0M1341.8 1148.2h0M1302.5 1269.2h0M1308.6 1236.8h0M1300.1 1159.9h0M1299.8 1205.5h0M1306.5 1150.2h0M1303.8 1166.9h0M1296.2 1179.7h0M1321.0 1288.1h0M1324.2 1225.1h0M1313.9 1297.1h0M1333.9 1187.4h0M1302.6 1243.6h0M1325.3 1263.6h0M1321.4 1197.5h0M1327.6 1168.3h0M1323.4 1170.3h0M1309.3 1153.2h0M1320.8 1289.6h0M1324.4 1289.4h0M1334.4 1263.1h0M1284.4 1258.8h0M1320.1 1291.9h0M1296.7 1230.0h0M1299.1 1171.2h0M1314.1 1227.9h0M1342.3 1214.0h0M1320.4 1258.4h0M1304.2 1194.4h0M1327.7 1214.5h0M1323.7 1184.1h0M1314.3 1190.1h0M1325.6 1191.6h0M1311.2 1194.4h0M1314.5 1231.8h0M1302.8 1193.1h0M1325.6 1289.4h0M1331.4 1145.7h0M1323.5 1186.1h0M1346.9 1234.4h0M1350.2 1236.9h0M1298.8 1277.2h0M1323.7 1287.8h0M1327.6 1151.2h0M1314.0 1164.7h0M1320.9 1231.1h0M1314.4 1286.0h0M1303.4 1262.2h0M1331.2 1178.8h0M1326.2 1246.6h0M1303.5 1256.0h0M1336.8 1244.3h0M1330.6 1245.3h0M1290.5 1260.8h0M1337.6 1219.4h0M1341.8 1223.8h0M1308.4 1152.2h0M1295.8 1249.0h0M1315.8 1200.4h0M1315.0 1236.4h0M1320.1 1261.7h0M1319.3 1228.6h0M1300.0 1238.4h0M1324.9 1294.3h0M1335.2 1267.8h0M1317.4 1258.5h0M1313.4 1195.2h0M1332.0 1154.9h0M1320.7 1202.0h0M1314.8 1189.2h0M1320.3 1210.2h0M1334.8 1147.9h0M1307.1 1261.2h0M1319.6 1283.7h0M1317.8 1210.6h0M1308.7 1149.9h0M1297.6 1233.5h0M1321.9 1292.8h0M1339.5 1215.8h0M1311.1 1253.2h0M1300.8 1191.7h0M1335.9 1263.8h0M1322.8 1225.4h0M1332.5 1186.2h0M1313.4 1223.1h0M1316.9 1268.7h0M1317.6 1270.5h0M1320.6 1296.2h0M1333.5 1271.7h0M1313.2 1149.7h0M1322.1 1227.7h0M1311.2 1290.5h0M1328.7 1275.5h0M1303.3 1191.3h0M1315.9 1254.7h0M1329.7 1266.6h0M1311.9 1156.8h0M1310.1 1289.6h0M1321.6 1273.3h0M1344.0 1233.6h0M1340.7 1231.0h0M1345.1 1250.0h0M1342.2 1167.8h0M1322.9 1271.9h0M1327.6 1249.5h0M1315.2 1190.8h0M1303.9 1237.5h0M1311.2 1278.7h0M1300.1 1253.9h0M1328.6 1170.1h0M1289.7 1256.2h0M1333.1 1232.5h0M1301.7 1178.2h0M1326.4 1290.7h0M1312.6 1193.3h0M1312.4 1267.4h0M1299.9 1207.3h0M1305.7 1154.8h0M1318.3 1196.4h0M1312.7 1292.7h0M1311.9 1187.6h0M1338.5 1192.9h0M1325.3 1282.7h0M1324.5 1282.2h0M1324.8 1147.3h0M1318.2 1246.9h0M1355.1 1240.5h0M1321.3 1239.2h0M1329.9 1154.9h0M1307.3 1192.5h0M1314.0 1288.5h0M1295.2 1216.4h0M1316.5 1232.0h0M1303.3 1284.6h0M1324.3 1187.6h0M1311.7 1156.3h0M1322.1 1283.5h0M1321.5 1297.2h0M1331.1 1189.7h0M1320.2 1297.7h0M1308.6 1285.3h0M1323.4 1269.7h0M1311.8 1176.5h0M1334.2 1277.6h0M1334.2 1194.3h0M1337.6 1171.4h0M1306.8 1237.5h0M1334.6 1269.4h0M1329.5 1290.2h0M1314.3 1259.8h0M1326.8 1208.4h0M1315.5 1269.0h0M1329.0 1127.1h0M1315.4 1191.2h0M1319.9 1227.0h0M1313.1 1190.9h0M1297.5 1241.1h0M1315.1 1293.3h0M1329.8 1217.5h0M1305.9 1190.9h0M1330.9 1199.4h0M1321.4 1189.3h0M1315.0 1277.6h0M1333.1 1223.3h0M1332.8 1199.0h0M1312.2 1217.8h0M1313.8 1171.8h0M1311.0 1280.3h0M1313.4 1187.2h0M1332.6 1242.7h0M1312.1 1163.6h0M1304.2 1218.8h0M1348.9 1239.9h0M1317.4 1295.8h0M1331.0 1206.3h0M1333.2 1202.9h0M1287.8 1251.4h0M1334.4 1242.3h0M1323.0 1219.9h0M1317.9 1221.7h0M1329.4 1141.4h0M1328.2 1241.0h0M1306.9 1191.8h0M1341.6 1189.6h0M1330.2 1238.1h0M1326.8 1209.3h0M1314.2 1195.6h0M1311.5 1225.7h0M1328.2 1211.5h0M1330.7 1118.8h0M1304.2 1278.0h0M1341.5 1180.5h0M1320.0 1289.5h0M1331.6 1168.1h0M1326.4 1141.3h0M1320.1 1240.4h0M1324.8 1148.5h0M1313.6 1268.6h0M1334.8 1252.3h0M1344.6 1283.2h0M1323.0 1256.7h0M1302.3 1237.4h0M1306.9 1180.4h0M1309.7 1249.3h0M1323.3 1277.4h0M1295.5 1270.3h0M1334.2 1269.6h0M1305.0 1223.3h0M1327.4 1136.4h0M1305.1 1176.3h0M1320.3 1283.7h0M1320.6 1283.5h0M1302.8 1248.5h0M1328.7 1284.4h0M1303.9 1232.4h0M1308.8 1234.9h0M1312.0 1204.8h0M1330.6 1183.5h0M1313.8 1169.9h0M1312.2 1234.6h0M1315.2 1165.7h0M1311.6 1275.5h0M1316.5 1296.4h0M1336.1 1185.0h0M1315.3 1171.0h0M1321.7 1273.3h0M1339.3 1217.0h0M1339.2 1196.1h0M1338.6 1194.5h0M1325.3 1160.6h0M1334.7 1207.4h0M1316.9 1296.8h0M1305.9 1197.5h0M1339.5 1251.4h0M1305.5 1236.6h0M1331.0 1219.2h0M1307.5 1287.2h0M1327.4 1186.0h0M1305.4 1185.8h0M1321.1 1263.8h0M1329.9 1243.1h0M1321.5 1297.0h0M1336.4 1201.0h0M1316.2 1278.4h0M1308.8 1230.0h0M1315.9 1235.6h0M1304.5 1153.9h0M1334.9 1166.7h0M1306.5 1255.5h0M1315.2 1202.5h0M1308.2 1145.2h0M1309.6 1284.2h0M1294.0 1213.9h0M1335.5 1193.4h0M1311.9 1261.6h0M1321.9 1210.6h0M1324.0 1169.4h0M1327.1 1215.8h0M1340.6 1194.6h0M1318.6 1243.8h0M1319.6 1268.7h0M1305.1 1196.0h0M1297.9 1235.0h0M1312.2 1239.0h0M1336.9 1179.8h0M1312.5 1202.6h0M1305.0 1161.0h0M1330.7 1268.5h0M1319.8 1240.0h0M1312.6 1187.5h0M1311.7 1204.1h0M1330.4 1182.2h0M1314.2 1268.1h0M1304.2 1238.1h0M1310.1 1219.4h0M1314.3 1166.5h0M1310.0 1293.2h0M1326.6 1212.7h0M1311.7 1123.9h0M1299.1 1250.2h0M1321.5 1277.5h0M1326.5 1189.9h0M1317.2 1291.2h0M1348.2 1246.2h0M1299.0 1266.9h0M1300.5 1149.1h0M1317.6 1290.8h0M1323.7 1244.3h0M1306.8 1288.0h0M1331.6 1193.2h0M1326.1 1281.7h0M1326.9 1274.1h0M1326.6 1291.4h0M1338.4 1242.1h0M1316.1 1273.9h0M1324.8 1184.7h0M1329.9 1240.1h0M1308.2 1160.5h0M1304.3 1242.2h0M1319.4 1218.3h0M1331.0 1136.3h0M1308.4 1206.1h0M1330.3 1149.6h0M1317.8 1297.6h0M1324.1 1283.3h0M1312.8 1260.8h0M1302.4 1180.3h0M1327.6 1249.9h0M1334.2 1187.3h0M1299.6 1270.8h0M1320.3 1278.4h0M1331.6 1190.3h0M1316.0 1293.5h0M1304.8 1185.2h0M1344.6 1187.4h0M1322.9 1210.9h0M1329.0 1225.2h0M1323.7 1176.9h0M1349.3 1239.4h0M1318.3 1251.0h0M1326.0 1212.9h0M1327.4 1239.4h0M1333.2 1188.5h0M1306.2 1233.1h0M1333.8 1166.2h0M1323.4 1158.2h0M1338.6 1162.6h0M1333.7 1226.9h0M1298.4 1199.2h0M1324.3 1196.3h0M1310.5 1273.2h0M1316.5 1189.3h0M1317.9 1295.8h0M1326.6 1238.2h0M1303.6 1252.1h0M1333.1 1188.5h0M1328.7 1186.6h0M1312.3 1238.1h0M1300.1 1185.5h0M1311.0 1157.7h0M1307.4 1276.3h0M1290.1 1198.1h0M1303.0 1147.2h0M1303.3 1187.7h0M1327.1 1277.9h0M1330.6 1146.2h0M1317.5 1284.1h0M1352.8 1176.8h0M1306.8 1172.4h0M1328.3 1193.2h0M1340.7 1186.0h0M1337.5 1170.5h0M1313.2 1235.6h0M1309.3 1186.2h0M1313.8 1228.9h0M1331.9 1154.8h0M1316.8 1297.1h0M1328.4 1138.1h0M1327.6 1241.2h0M1281.5 1242.2h0M1324.1 1286.4h0M1312.7 1207.9h0M1320.4 1262.9h0M1330.3 1145.5h0M1315.5 1284.4h0M1300.9 1265.7h0M1330.4 1188.4h0M1331.1 1226.5h0M1321.7 1262.4h0M1320.4 1282.4h0M1331.7 1188.7h0M1297.7 1178.1h0M1321.4 1213.1h0M1311.0 1172.3h0M1322.8 1198.2h0M1288.8 1246.7h0M1336.8 1180.1h0M1316.6 1209.6h0M1320.1 1211.4h0M1296.1 1267.0h0M1320.4 1291.5h0M1301.3 1200.3h0M1316.5 1238.5h0M1321.7 1188.3h0M1329.5 1236.8h0M1298.3 1193.7h0M1332.2 1238.5h0M1312.4 1216.2h0M1334.4 1220.4h0M1308.1 1202.4h0M1329.4 1280.7h0M1318.5 1295.2h0M1321.7 1259.8h0M1336.4 1233.8h0M1320.9 1288.8h0M1324.8 1137.5h0M1301.1 1204.0h0M1323.0 1272.1h0M1314.2 1191.8h0M1337.0 1190.0h0M1310.1 1247.5h0M1310.6 1295.4h0M1327.0 1256.8h0M1309.9 1224.8h0M1303.1 1188.2h0M1332.9 1191.9h0M1313.7 1178.9h0M1247.9 1256.5h0M1314.2 1184.4h0M1312.1 1145.1h0M1328.0 1145.7h0M1288.7 1238.1h0M1316.2 1191.8h0M1299.3 1221.4h0M1334.9 1170.9h0M1336.8 1242.9h0M1334.5 1176.1h0M1295.0 1229.2h0M1328.4 1196.4h0M1314.3 1156.8h0M1300.3 1184.2h0M1320.9 1246.0h0M1340.4 1146.5h0M1330.3 1180.0h0M1338.6 1224.8h0M1323.6 1168.5h0M1298.4 1185.4h0M1288.9 1250.3h0M1332.0 1192.3h0M1335.9 1264.1h0M1310.2 1273.3h0M1301.7 1225.1h0M1319.2 1277.2h0M1331.2 1176.9h0M1333.1 1202.0h0M1308.9 1194.6h0M1324.3 1194.6h0M1320.2 1251.2h0M1311.5 1179.5h0M1320.8 1237.9h0M1308.1 1225.2h0M1327.1 1232.1h0M1320.5 1290.9h0M1314.7 1292.0h0M1294.8 1223.3h0M1337.2 1252.0h0M1315.3 1252.4h0M1295.8 1243.7h0M1305.4 1242.7h0M1303.9 1272.0h0M1311.4 1189.6h0M1302.1 1179.9h0M1319.5 1206.8h0M1295.7 1230.0h0M1295.0 1257.0h0M1333.7 1287.0h0M1328.1 1186.0h0M1327.8 1246.8h0M1321.4 1240.6h0M1306.7 1172.4h0M1325.4 1157.5h0M1319.4 1279.6h0M1330.5 1278.4h0M1314.1 1237.9h0M1310.2 1252.5h0M1323.8 1151.2h0M1343.3 1187.8h0M1329.5 1173.0h0M1311.1 1294.8h0M1324.7 1258.1h0M1304.2 1256.6h0M1304.7 1141.7h0M1359.3 1265.9h0M1308.6 1161.8h0M1315.0 1287.5h0M1323.6 1174.1h0M1341.2 1249.6h0M1321.6 1295.7h0M1324.9 1153.8h0M1322.1 1263.4h0M1304.0 1190.8h0M1321.5 1190.2h0M1332.2 1273.1h0M1332.5 1254.0h0M1339.1 1237.0h0M1305.5 1195.2h0M1335.9 1212.2h0M1332.6 1121.9h0M1316.3 1288.8h0M1311.5 1246.2h0M1334.6 1184.5h0M1334.2 1275.6h0M1328.0 1243.8h0M1305.3 1197.8h0M1318.1 1298.1h0M1292.1 1246.7h0M1308.7 1185.3h0M1350.2 1212.3h0M1317.2 1293.4h0M1306.7 1192.6h0M1310.8 1230.2h0M1327.3 1155.3h0M1333.3 1154.2h0M1330.1 1190.5h0M1313.6 1174.1h0M1320.2 1213.1h0M1333.5 1181.8h0M1323.8 1187.1h0M1349.5 1231.2h0M1312.2 1238.8h0M1342.7 1233.2h0M1317.4 1220.2h0M1309.2 1201.2h0M1304.9 1201.7h0M1297.6 1251.8h0M1321.3 1216.7h0M1327.8 1145.6h0M1321.1 1249.3h0M1319.8 1197.6h0M1308.6 1217.3h0M1324.2 1249.3h0M1302.8 1233.1h0M1341.2 1277.4h0M1338.6 1235.0h0M1309.3 1179.0h0M1309.4 1212.1h0M1307.9 1193.9h0M1321.7 1260.7h0M1332.2 1215.6h0M1315.5 1205.9h0M1318.3 1294.8h0M1323.4 1154.0h0M1312.3 1237.3h0M1308.2 1267.4h0M1300.7 1266.2h0M1321.0 1232.7h0M1332.1 1196.9h0M1317.8 1205.0h0M1333.1 1224.2h0M1329.4 1181.9h0M1334.3 1259.0h0M1245.0 1245.0h0M1300.5 1236.3h0M1324.0 1282.4h0M1335.7 1211.1h0M1342.3 1196.7h0M1310.5 1194.3h0M1340.9 1228.9h0M1315.6 1202.8h0M1319.1 1298.3h0M1314.3 1232.8h0M1305.4 1274.0h0M1329.8 1153.7h0M1325.3 1163.0h0M1306.4 1258.1h0M1320.8 1202.9h0M1322.1 1188.7h0M1322.8 1296.4h0M1302.5 1215.7h0M1324.9 1185.9h0M1336.2 1251.6h0M1326.7 1187.6h0M1335.7 1284.2h0M1334.9 1215.5h0M1310.9 1231.7h0M1302.1 1265.1h0M1295.7 1239.8h0M1327.8 1189.6h0M1300.5 1280.6h0M1322.1 1182.6h0M1330.7 1183.4h0M1332.5 1270.2h0M1315.2 1295.4h0M1309.9 1290.9h0M1333.3 1236.7h0M1323.9 1272.2h0M1310.7 1180.2h0M1317.0 1224.2h0M1331.5 1166.9h0M1312.0 1281.5h0M1313.9 1168.5h0M1313.7 1216.4h0M1307.5 1210.4h0M1327.2 1233.7h0M1295.1 1216.7h0M1332.7 1202.3h0M1307.3 1213.6h0M1323.7 1252.3h0M1328.4 1281.7h0M1325.3 1282.5h0M1327.1 1273.8h0M1328.5 1211.4h0M1342.4 1133.3h0M1311.9 1281.8h0M1321.9 1251.7h0M1322.5 1296.6h0M1327.7 1136.6h0M1329.9 1153.1h0M1322.7 1283.5h0M1324.7 1184.1h0M1324.5 1185.9h0M1306.4 1274.9h0M1305.2 1256.3h0M1333.7 1280.9h0M1329.5 1234.4h0M1311.3 1152.8h0M1326.8 1180.8h0M1350.0 1250.0h0M1330.3 1237.3h0M1327.2 1278.6h0M1306.3 1233.1h0M1306.1 1267.3h0M1282.8 1231.4h0M1311.9 1236.4h0M1330.9 1235.9h0M1299.5 1210.1h0M1342.7 1203.7h0M1322.7 1216.8h0M1308.7 1210.0h0M1322.7 1200.9h0M1332.2 1183.9h0M1322.0 1221.0h0M1313.5 1236.9h0M1328.7 1180.8h0M1311.9 1159.9h0M1333.9 1235.4h0M1318.6 1203.1h0M1324.5 1152.6h0M1325.6 1137.5h0M1327.8 1166.0h0M1324.7 1267.0h0M1330.2 1203.6h0M1310.8 1160.6h0M1322.2 1276.4h0M1301.2 1176.5h0M1296.8 1234.6h0M1340.7 1273.6h0M1316.4 1208.4h0M1306.8 1185.0h0M1340.8 1190.5h0M1339.3 1228.9h0M1329.1 1224.0h0M1318.0 1216.5h0M1315.5 1278.9h0M1332.9 1186.9h0M1332.2 1205.3h0M1318.0 1274.0h0M1317.7 1232.8h0M1322.5 1249.2h0M1325.4 1268.1h0M1315.3 1185.6h0M1306.5 1251.4h0M1323.6 1267.6h0M1323.3 1196.6h0M1332.3 1273.5h0M1304.7 1195.2h0M1308.5 1160.6h0M1337.4 1192.1h0M1379.2 1242.1h0M1331.0 1186.9h0M1307.6 1250.8h0M1304.6 1232.7h0M1300.2 1269.9h0M1324.0 1231.0h0M1330.3 1192.6h0M1324.0 1224.5h0M1344.7 1217.5h0M1313.4 1295.7h0M1315.8 1265.6h0M1337.8 1191.7h0M1312.5 1291.8h0M1322.1 1290.6h0M1312.9 1198.6h0M1277.8 1261.6h0M1336.3 1130.5h0M1324.8 1257.2h0M1335.1 1286.1h0M1335.7 1213.0h0M1307.0 1270.7h0M1325.5 1271.2h0M1306.9 1185.4h0M1331.0 1243.2h0M1304.7 1161.2h0M1320.4 1288.6h0M1331.7 1153.0h0M1313.2 1190.6h0M1316.8 1231.3h0M1326.1 1267.1h0M1337.8 1185.9h0M1336.9 1185.6h0M1310.7 1265.7h0M1322.9 1162.1h0M1324.2 1293.2h0M1324.0 1241.7h0M1323.1 1161.6h0M1338.0 1187.8h0M1324.3 1259.3h0M1325.5 1171.6h0M1330.2 1206.6h0M1321.1 1274.3h0M1331.5 1246.6h0M1315.6 1280.9h0M1328.2 1278.5h0M1308.8 1174.7h0M1291.2 1206.1h0M1303.4 1221.4h0M1332.6 1248.4h0M1323.1 1279.2h0M1309.1 1221.8h0M1331.4 1233.3h0M1325.7 1270.6h0M1316.3 1245.8h0M1315.7 1205.7h0M1308.4 1192.6h0M1324.6 1187.2h0M1316.5 1245.3h0M1329.6 1276.8h0M1292.0 1160.6h0M1332.6 1203.4h0M1327.4 1236.1h0M1317.9 1247.9h0M1335.7 1270.3h0M1316.2 1190.4h0M1306.8 1153.9h0M1317.1 1225.8h0M1315.1 1292.1h0M1312.9 1223.3h0M1320.4 1285.9h0M1318.5 1235.0h0M1323.1 1209.2h0M1315.2 1258.2h0M1316.8 1212.9h0M1310.8 1170.0h0M1316.1 1194.5h0M1307.5 1191.9h0M1314.3 1229.3h0M1323.5 1157.8h0M1323.3 1293.7h0M1327.3 1279.7h0M1337.6 1233.8h0M1312.7 1230.1h0M1325.6 1193.4h0M1326.3 1187.8h0M1344.2 1193.8h0M1320.1 1270.1h0M1312.2 1158.6h0M1327.6 1268.9h0M1321.1 1243.1h0M1318.4 1282.6h0M1325.5 1289.9h0M1335.2 1166.9h0M1326.0 1214.1h0M1310.9 1205.4h0M1296.3 1242.4h0M1303.3 1254.2h0M1339.3 1266.9h0M1309.7 1278.6h0M1317.4 1286.0h0M1319.4 1202.2h0M1308.6 1282.1h0M1320.2 1284.6h0M1337.4 1172.4h0M1331.2 1289.5h0M1333.3 1243.0h0M1333.6 1246.9h0M1327.8 1162.7h0M1311.9 1188.1h0M1305.0 1155.7h0M1313.2 1266.8h0M1327.0 1291.4h0M1351.2 1224.4h0M1325.0 1295.6h0M1331.9 1247.9h0M1325.1 1274.6h0M1294.9 1276.3h0M1293.4 1250.7h0M1321.6 1216.4h0M1314.0 1156.7h0M1306.7 1187.4h0M1332.1 1140.2h0M1338.1 1202.3h0M1324.0 1186.6h0M1316.2 1202.0h0M1309.8 1187.1h0M1325.9 1191.9h0M1342.1 1192.3h0M1310.4 1161.4h0M1310.7 1271.0h0M1302.0 1185.6h0M1294.5 1229.2h0M1296.9 1276.9h0M1329.0 1153.9h0M1320.0 1294.7h0M1330.0 1164.8h0M1304.6 1194.7h0M1312.4 1208.6h0M1306.2 1145.7h0M1316.4 1226.7h0M1324.8 1215.7h0M1324.9 1210.6h0M1305.3 1241.6h0M1301.1 1207.4h0M1312.4 1222.5h0M1333.1 1204.3h0M1327.9 1152.5h0M1313.5 1288.5h0M1300.5 1203.6h0M1308.5 1230.9h0M1317.0 1297.5h0M1310.4 1191.6h0M1323.1 1218.2h0M1329.2 1216.9h0M1308.7 1267.9h0M1332.0 1250.4h0M1299.4 1166.2h0M1349.8 1163.6h0M1292.8 1278.2h0M1326.8 1172.1h0M1360.0 1251.9h0M1314.4 1203.9h0M1329.8 1268.9h0M1321.6 1285.3h0M1328.8 1278.4h0M1291.6 1226.2h0M1312.2 1269.4h0M1300.6 1260.6h0M1319.8 1291.8h0M1308.4 1267.4h0M1307.5 1216.6h0M1314.4 1247.3h0M1331.2 1162.9h0M1330.6 1193.8h0M1314.6 1186.2h0M1314.1 1267.3h0M1336.9 1251.8h0M1316.8 1207.7h0M1328.9 1215.8h0M1331.1 1152.7h0M1314.7 1250.6h0M1283.7 1240.2h0M1323.3 1232.5h0M1306.0 1167.8h0M1344.3 1217.1h0M1312.4 1250.8h0M1313.6 1244.1h0M1295.6 1246.8h0M1339.0 1186.3h0M1315.8 1292.6h0M1326.1 1279.7h0M1311.2 1274.5h0M1312.1 1270.9h0M1317.5 1288.0h0M1324.1 1196.7h0M1314.3 1261.7h0M1311.5 1260.5h0M1316.8 1219.1h0M1314.5 1274.1h0M1311.7 1288.8h0M1333.5 1183.2h0M1338.7 1188.9h0M1311.8 1292.9h0M1313.6 1146.3h0M1329.7 1184.5h0M1327.1 1154.2h0M1326.9 1191.5h0M1327.8 1193.5h0M1336.0 1219.5h0M1331.6 1150.2h0M1310.0 1200.9h0M1311.4 1159.0h0M1303.8 1209.7h0M1311.9 1249.1h0M1331.1 1175.8h0M1326.6 1221.7h0M1308.2 1287.0h0M1327.0 1266.4h0M1328.9 1195.9h0M1299.8 1211.3h0M1317.7 1292.9h0M1324.9 1223.9h0M1328.2 1160.2h0M1309.1 1221.4h0M1317.8 1297.2h0M1334.2 1172.5h0M1300.8 1292.9h0M1322.3 1247.8h0M1325.4 1288.7h0M1321.6 1218.0h0M1315.9 1278.8h0M1334.2 1236.3h0M1297.2 1235.2h0M1326.3 1221.9h0M1326.2 1151.0h0M1313.9 1201.0h0M1335.9 1240.4h0M1330.2 1279.3h0M1332.1 1218.4h0M1326.3 1193.5h0M1309.6 1189.3h0M1337.2 1223.2h0M1307.5 1254.6h0M1331.3 1154.5h0M1330.0 1270.6h0M1303.8 1242.0h0M1315.1 1189.4h0M1307.5 1245.8h0M1312.8 1263.7h0M1294.8 1229.8h0M1338.9 1241.4h0M1308.5 1161.4h0M1308.8 1192.5h0M1316.6 1207.2h0M1312.0 1189.0h0M1327.7 1129.6h0M1330.1 1217.5h0M1326.2 1132.2h0M1337.2 1179.2h0M1297.9 1225.4h0M1316.0 1188.3h0M1295.4 1245.8h0M1318.3 1236.2h0M1312.0 1268.2h0M1315.0 1241.6h0M1328.0 1238.5h0M1309.6 1256.8h0M1308.6 1213.1h0M1328.3 1208.4h0M1307.5 1147.4h0M1326.7 1246.1h0M1325.0 1234.5h0M1313.1 1247.2h0M1307.8 1276.2h0M1312.7 1258.8h0M1320.9 1244.1h0M1309.2 1291.2h0M1316.1 1272.1h0M1331.0 1272.2h0M1323.4 1154.2h0M1326.3 1268.0h0M1325.8 1229.1h0M1309.8 1225.5h0M1338.3 1268.5h0M1333.7 1229.6h0M1339.5 1196.6h0M1305.7 1234.6h0M1314.1 1178.3h0M1325.7 1241.9h0M1338.5 1204.6h0M1295.3 1271.5h0M1311.4 1144.7h0M1324.5 1175.7h0M1306.4 1280.1h0M1313.6 1237.7h0M1296.0 1238.5h0M1322.2 1290.4h0M1315.9 1286.3h0M1310.2 1205.8h0M1324.9 1193.2h0M1318.0 1283.8h0M1306.1 1245.8h0M1318.3 1287.9h0M1337.0 1264.2h0M1329.7 1154.9h0M1331.8 1231.4h0M1308.3 1243.1h0M1321.8 1197.3h0M1312.7 1292.2h0M1320.6 1290.8h0M1326.6 1191.5h0M1332.6 1172.1h0M1332.9 1165.4h0M1308.7 1247.4h0M1312.0 1197.9h0M1304.4 1222.5h0M1320.1 1226.4h0M1303.4 1207.5h0M1330.6 1219.2h0M1318.4 1230.3h0M1320.0 1282.9h0M1341.8 1186.8h0M1315.2 1185.7h0M1323.8 1271.1h0M1336.3 1206.1h0M1310.0 1268.3h0M1304.5 1204.2h0M1318.2 1219.1h0M1312.1 1179.4h0M1328.9 1262.5h0M1310.4 1191.6h0M1329.9 1277.4h0M1311.4 1171.7h0M1303.2 1207.6h0M1325.9 1188.2h0M1345.0 1201.9h0M1331.2 1289.6h0M1300.2 1180.7h0M1312.8 1217.8h0M1288.9 1237.2h0M1329.2 1169.2h0M1289.3 1250.2h0M1323.3 1241.2h0M1307.6 1180.1h0M1325.6 1149.0h0M1325.5 1247.8h0M1329.7 1147.9h0M1335.3 1231.9h0M1330.0 1145.6h0M1336.8 1267.8h0M1299.6 1241.3h0M1307.0 1225.8h0M1314.9 1253.0h0M1311.9 1160.0h0M1343.7 1194.6h0M1350.2 1237.9h0M1311.0 1216.5h0M1343.1 1154.5h0M1314.8 1201.0h0M1332.6 1279.2h0M1309.8 1192.2h0M1303.9 1192.5h0M1324.2 1182.5h0M1347.9 1197.9h0M1308.3 1158.4h0M1315.8 1290.4h0M1310.6 1159.8h0M1315.4 1247.9h0M1327.5 1178.8h0M1326.2 1280.9h0M1325.4 1271.6h0M1329.6 1254.8h0M1323.1 1295.9h0M1333.6 1162.6h0M1308.7 1211.8h0M1317.9 1228.1h0M1322.5 1273.9h0M1335.9 1147.8h0M1364.1 1237.8h0M1304.8 1236.9h0M1325.8 1289.0h0M1303.7 1160.9h0M1310.4 1170.4h0M1304.9 1255.1h0M1328.3 1249.1h0M1337.5 1234.5h0M1319.2 1210.7h0M1330.2 1201.5h0M1312.1 1270.3h0M1310.4 1235.6h0M1337.3 1147.0h0M1324.3 1238.4h0M1308.8 1168.6h0M1325.6 1216.1h0M1322.1 1289.9h0M1316.3 1187.8h0M1317.1 1296.5h0M1311.3 1281.2h0M1314.1 1205.1h0M1311.4 1283.6h0M1326.1 1222.8h0M1340.3 1220.2h0M1344.1 1235.9h0M1322.7 1254.6h0M1293.4 1194.2h0M1322.2 1265.8h0M1335.5 1251.3h0M1317.3 1215.4h0M1309.0 1232.2h0M1282.5 1231.5h0M1310.5 1192.3h0M1307.3 1254.4h0M1316.4 1290.2h0M1341.9 1163.8h0M1326.2 1272.7h0M1310.1 1220.3h0M1311.8 1293.9h0M1334.9 1227.1h0M1312.3 1151.8h0M1320.0 1294.5h0M1309.2 1187.4h0M1310.4 1161.1h0M1345.0 1249.5h0M1309.7 1184.8h0M1308.3 1279.9h0M1327.4 1227.4h0M1320.1 1234.4h0M1324.7 1271.1h0M1305.3 1188.8h0M1319.1 1298.2h0M1309.9 1186.0h0M1326.6 1172.0h0M1305.4 1264.0h0M1319.3 1201.9h0M1309.6 1246.8h0M1326.3 1267.2h0M1308.4 1194.5h0M1329.5 1270.7h0M1305.1 1164.6h0M1321.5 1275.7h0M1330.8 1155.5h0M1303.1 1218.9h0M1321.4 1217.5h0M1320.4 1268.9h0M1308.5 1162.8h0M1339.3 1173.9h0M1331.4 1251.0h0M1299.1 1214.7h0M1314.3 1219.4h0M1339.5 1222.8h0M1309.3 1233.3h0M1304.1 1238.4h0M1341.8 1191.9h0M1317.5 1280.1h0M1321.2 1193.3h0M1311.9 1200.0h0M1330.1 1147.0h0M1308.2 1291.9h0M1313.2 1261.9h0M1350.3 1240.2h0M1319.6 1294.9h0M1325.5 1217.7h0M1315.2 1263.1h0M1334.0 1218.4h0M1303.9 1224.0h0M1305.9 1239.9h0M1313.5 1231.4h0M1297.3 1176.1h0M1351.0 1250.5h0M1329.9 1164.2h0M1311.7 1264.3h0M1337.1 1266.5h0M1314.5 1214.3h0M1319.9 1252.2h0M1307.4 1213.4h0M1302.8 1197.5h0M1330.9 1177.3h0M1319.7 1272.2h0M1330.5 1218.6h0M1308.2 1207.5h0M1312.0 1281.2h0M1313.0 1260.8h0M1315.3 1264.8h0M1305.2 1268.7h0M1329.0 1274.1h0M1312.0 1176.2h0M1320.5 1275.2h0M1324.8 1179.9h0M1352.8 1230.8h0M1324.2 1171.1h0M1328.0 1187.3h0M1320.1 1239.9h0M1325.2 1145.0h0M1323.2 1220.0h0M1345.4 1207.4h0M1321.9 1199.9h0M1326.7 1262.0h0M1314.9 1276.2h0M1310.6 1143.8h0M1304.7 1188.7h0M1334.6 1199.8h0M1306.6 1210.7h0M1317.9 1207.4h0M1306.3 1180.8h0M1307.6 1245.4h0M1334.8 1247.9h0M1328.9 1190.9h0M1326.0 1184.2h0M1317.1 1270.6h0M1304.1 1209.8h0M1322.1 1275.3h0M1333.9 1191.2h0M1318.2 1294.8h0M1312.0 1140.9h0M1288.8 1262.5h0M1314.8 1293.3h0M1312.0 1269.8h0M1303.1 1216.1h0M1304.5 1155.0h0M1341.4 1202.3h0M1313.1 1220.2h0M1308.9 1222.0h0M1297.3 1236.7h0M1308.8 1288.8h0M1323.8 1257.8h0M1325.4 1201.6h0M1300.3 1234.6h0M1315.4 1285.4h0M1297.1 1241.8h0M1308.3 1197.7h0M1331.8 1129.2h0M1325.5 1159.8h0M1330.0 1162.6h0M1326.3 1279.4h0M1308.9 1197.0h0M1310.6 1165.0h0M1327.5 1266.6h0M1325.5 1268.4h0M1311.0 1149.2h0M1300.9 1294.2h0M1309.5 1251.6h0M1324.0 1295.3h0M1302.6 1221.4h0M1323.1 1288.5h0M1326.2 1180.3h0M1314.9 1266.3h0M1321.0 1206.0h0M1324.7 1276.5h0M1311.8 1145.8h0M1320.6 1258.0h0M1313.0 1254.5h0M1312.6 1272.9h0M1324.6 1218.2h0M1337.3 1147.4h0M1311.6 1257.8h0M1311.5 1156.2h0M1314.5 1188.5h0M1314.0 1155.1h0M1306.8 1178.6h0M1320.8 1238.6h0M1308.9 1247.4h0M1322.3 1291.0h0M1326.9 1263.1h0M1313.9 1293.6h0M1331.1 1153.3h0M1315.9 1190.8h0M1309.3 1287.8h0M1324.0 1244.4h0M1335.0 1278.7h0M1322.0 1230.4h0M1309.0 1219.8h0M1326.6 1284.1h0M1307.7 1285.7h0M1314.1 1195.4h0M1311.5 1153.9h0M1305.4 1177.2h0M1323.4 1295.8h0M1317.7 1262.5h0M1296.8 1190.4h0M1329.5 1275.7h0M1307.5 1265.9h0M1304.2 1151.4h0M1312.3 1152.9h0M1333.9 1141.7h0M1321.9 1233.9h0M1314.0 1204.6h0M1326.4 1245.3h0M1323.4 1254.5h0M1304.7 1277.7h0M1295.3 1270.3h0M1301.0 1190.4h0M1323.5 1153.9h0M1309.5 1280.6h0M1329.0 1259.0h0M1329.5 1189.7h0M1329.1 1157.2h0M1314.9 1195.3h0M1296.3 1196.7h0M1343.6 1183.9h0M1327.6 1261.9h0M1331.8 1181.9h0M1311.8 1288.3h0M1328.8 1195.5h0M1326.1 1197.1h0M1295.3 1278.8h0M1315.0 1289.1h0M1316.0 1294.4h0M1308.4 1194.7h0M1325.4 1145.2h0M1304.1 1248.8h0M1325.1 1145.4h0M1309.1 1285.5h0M1299.6 1271.6h0M1314.5 1192.1h0M1322.3 1193.3h0M1316.1 1276.6h0M1328.2 1124.9h0M1332.9 1274.1h0M1331.0 1264.6h0M1324.4 1228.7h0M1314.3 1207.6h0M1307.2 1277.9h0M1337.1 1220.2h0M1328.0 1151.7h0M1313.6 1190.5h0M1317.0 1295.1h0M1303.7 1186.4h0M1306.3 1245.0h0M1324.2 1163.4h0M1320.3 1275.3h0M1319.2 1278.0h0M1307.2 1236.6h0M1323.5 1180.1h0M1325.3 1270.5h0M1317.2 1272.8h0M1314.6 1280.2h0M1325.9 1220.3h0M1313.4 1266.9h0M1335.3 1202.0h0M1306.5 1266.5h0M1317.2 1295.6h0M1326.9 1149.4h0M1335.6 1190.8h0M1313.9 1219.5h0M1310.2 1286.1h0M1315.3 1174.0h0M1307.0 1216.6h0M1334.8 1158.0h0M1316.8 1203.4h0M1312.8 1218.6h0M1332.4 1239.2h0M1272.7 1249.6h0M1334.8 1204.7h0M1310.6 1197.1h0M1329.7 1200.9h0M1321.8 1284.4h0M1328.4 1216.3h0M1326.7 1261.2h0M1319.8 1263.2h0M1325.5 1295.2h0M1315.5 1241.2h0M1315.3 1259.0h0M1315.9 1196.2h0M1313.8 1238.1h0M1314.4 1169.4h0M1349.4 1229.9h0M1315.8 1187.3h0M1350.1 1175.1h0M1329.0 1162.1h0M1333.2 1182.1h0M1311.1 1180.5h0M1339.2 1254.5h0M1329.6 1168.7h0M1311.2 1217.2h0M1332.2 1240.6h0M1310.3 1288.8h0M1305.7 1247.5h0M1319.6 1229.3h0M1307.6 1288.9h0M1329.5 1179.4h0M1331.0 1250.3h0M1313.7 1284.7h0M1342.0 1187.9h0M1295.5 1213.8h0M1297.4 1191.5h0M1312.3 1173.2h0M1328.1 1135.9h0M1309.5 1239.6h0M1324.4 1266.6h0M1327.6 1164.2h0M1317.2 1288.0h0M1313.7 1290.2h0M1343.8 1193.1h0M1310.7 1270.2h0M1333.8 1234.0h0M1314.8 1262.6h0M1300.7 1216.3h0M1311.0 1156.4h0M1323.1 1192.2h0M1314.8 1284.9h0M1308.9 1236.6h0M1347.8 1232.1h0M1305.5 1143.0h0M1311.0 1151.1h0M1302.9 1210.3h0M1318.5 1199.7h0M1342.7 1271.4h0M1325.8 1156.2h0M1318.5 1235.2h0M1325.8 1194.3h0M1403.8 1239.2h0M1316.7 1266.4h0M1326.0 1115.7h0M1311.4 1186.2h0M1292.5 1203.4h0M1326.2 1288.7h0M1313.6 1261.9h0M1323.5 1257.1h0M1309.7 1147.3h0M1328.3 1121.2h0M1316.4 1215.6h0M1340.7 1275.6h0M1317.8 1264.3h0M1335.1 1152.7h0M1341.5 1179.1h0M1320.5 1297.1h0M1325.7 1285.1h0M1288.5 1165.3h0M1310.8 1267.5h0M1344.3 1255.9h0M1316.7 1278.1h0M1321.0 1233.0h0M1314.3 1280.7h0M1326.3 1139.2h0M1303.6 1267.0h0M1312.7 1273.0h0M1319.9 1296.2h0M1325.4 1293.7h0M1329.5 1215.5h0M1333.8 1248.3h0M1302.2 1281.6h0M1301.5 1262.8h0M1315.3 1192.1h0M1345.1 1190.5h0M1313.9 1219.6h0M1309.8 1227.9h0M1324.4 1175.5h0M1316.9 1229.7h0M1265.4 1223.0h0M1322.8 1219.0h0M1313.5 1266.5h0M1316.1 1283.0h0M1331.7 1258.9h0M1312.6 1152.8h0M1325.9 1154.9h0M1308.3 1233.3h0M1337.3 1231.5h0M1318.4 1219.4h0M1330.0 1239.0h0M1316.9 1296.6h0M1325.6 1195.9h0M1318.1 1298.1h0M1339.2 1154.7h0M1329.4 1236.2h0M1310.2 1286.8h0M1334.8 1282.8h0M1339.7 1256.5h0M1334.5 1149.6h0M1338.3 1268.5h0M1311.3 1154.1h0M1337.7 1184.2h0M1327.6 1213.2h0M1317.4 1217.8h0M1320.9 1284.0h0M1332.0 1136.5h0M1311.3 1270.8h0M1340.4 1204.9h0M1295.2 1227.9h0M1319.4 1204.2h0M1334.5 1153.4h0M1306.6 1193.0h0M1298.4 1189.3h0M1312.2 1154.0h0M1312.4 1275.6h0M1323.3 1185.9h0M1331.0 1157.5h0M1335.6 1238.6h0M1338.6 1190.4h0M1312.6 1269.8h0M1329.4 1233.3h0M1368.7 1227.9h0M1306.6 1240.2h0M1311.6 1231.8h0M1324.8 1151.7h0M1315.1 1190.2h0M1327.0 1234.6h0M1319.0 1298.1h0M1308.6 1292.8h0M1333.7 1152.8h0M1320.5 1257.8h0M1332.7 1220.8h0M1307.6 1211.0h0M1343.4 1241.5h0M1307.3 1273.8h0M1306.2 1278.5h0M1340.9 1208.0h0M1331.4 1182.0h0M1330.4 1204.5h0M1314.8 1231.2h0M1363.8 1245.3h0M1323.4 1219.3h0M1324.1 1284.0h0M1325.2 1169.4h0M1306.4 1288.1h0M1331.2 1154.8h0M1316.4 1207.1h0M1311.4 1159.8h0M1324.3 1166.4h0M1342.1 1182.6h0M1304.0 1255.6h0M1316.2 1239.2h0M1296.0 1239.1h0M1337.2 1240.9h0M1303.1 1217.3h0M1326.6 1149.6h0M1320.0 1195.6h0M1318.6 1297.9h0M1318.1 1210.8h0M1308.0 1234.7h0M1317.1 1227.0h0M1312.4 1207.0h0M1325.8 1293.2h0M1326.8 1146.6h0M1321.9 1202.4h0M1304.8 1225.9h0M1321.6 1283.0h0M1320.3 1201.6h0M1278.1 1253.2h0M1333.8 1259.5h0M1304.0 1209.6h0M1329.7 1287.4h0M1306.6 1175.7h0M1306.1 1220.9h0M1302.8 1192.3h0M1309.4 1203.1h0M1316.4 1225.9h0M1324.6 1289.3h0M1340.8 1212.5h0M1313.4 1263.4h0M1330.8 1245.8h0M1305.8 1251.5h0M1315.3 1260.3h0M1310.1 1197.0h0M1324.3 1184.5h0M1334.8 1223.8h0M1313.9 1193.4h0M1312.1 1149.9h0M1305.8 1193.0h0M1336.5 1183.6h0M1320.5 1233.6h0M1332.5 1226.2h0M1303.9 1277.6h0M1324.0 1266.1h0M1334.7 1272.8h0M1346.5 1209.6h0M1316.3 1249.3h0M1301.0 1234.3h0M1315.7 1246.1h0M1313.8 1213.5h0M1333.3 1129.0h0M1300.4 1175.8h0M1345.8 1192.8h0M1330.6 1265.2h0M1316.6 1205.7h0M1301.4 1252.1h0M1302.5 1244.8h0M1352.4 1233.7h0M1305.0 1110.2h0M1291.9 1248.9h0M1309.6 1171.8h0M1336.0 1242.4h0M1306.3 1241.4h0M1295.9 1211.6h0M1329.9 1210.8h0M1327.6 1210.1h0M1348.6 1146.1h0M1333.7 1258.7h0M1326.1 1210.0h0M1324.4 1205.4h0M1304.3 1262.8h0M1319.9 1251.7h0M1344.2 1289.0h0M1316.2 1270.3h0M1338.5 1254.0h0M1318.1 1295.6h0M1309.0 1199.4h0M1323.4 1248.6h0M1331.8 1235.7h0M1342.1 1188.9h0M1342.7 1254.1h0M1308.5 1241.8h0M1326.9 1195.0h0M1341.5 1213.0h0M1319.6 1242.9h0M1312.9 1262.3h0M1306.0 1190.0h0M1298.5 1229.1h0M1325.8 1183.3h0M1302.7 1259.1h0M1316.0 1294.5h0M1332.3 1166.8h0M1326.4 1158.1h0M1339.0 1215.8h0M1309.4 1249.2h0M1299.0 1234.7h0M1302.9 1197.9h0M1298.7 1264.1h0M1310.2 1189.9h0M1307.9 1154.6h0M1306.4 1176.8h0M1309.0 1147.8h0M1331.2 1181.8h0M1307.5 1248.9h0M1330.2 1197.5h0M1329.8 1269.3h0M1299.6 1264.8h0M1311.4 1148.1h0M1324.0 1224.3h0M1343.9 1160.8h0M1302.5 1236.0h0M1319.0 1230.5h0M1326.2 1243.1h0M1341.1 1263.7h0M1310.7 1295.4h0M1316.4 1242.8h0M1327.1 1180.4h0M1306.2 1153.0h0M1293.4 1200.7h0M1321.4 1225.6h0M1293.0 1245.5h0M1318.5 1298.0h0M1306.6 1276.4h0M1323.1 1188.4h0M1305.9 1148.5h0M1311.5 1224.4h0M1304.6 1193.8h0M1323.9 1147.7h0M1310.3 1214.6h0M1319.4 1297.2h0M1304.3 1255.0h0M1305.1 1287.3h0M1333.5 1198.2h0M1321.3 1285.6h0M1331.2 1201.4h0M1335.1 1247.7h0M1314.2 1253.2h0M1304.7 1244.3h0M1321.8 1188.1h0M1305.1 1287.6h0M1324.4 1187.3h0M1313.0 1205.4h0M1311.4 1267.8h0M1336.9 1262.2h0M1293.0 1227.0h0M1309.8 1189.9h0M1343.5 1187.3h0M1327.9 1248.2h0M1310.1 1179.1h0M1316.2 1288.9h0M1320.2 1224.6h0M1336.1 1285.4h0M1328.5 1247.3h0M1310.7 1258.2h0M1324.8 1242.1h0M1293.2 1166.9h0M1315.3 1291.9h0M1305.4 1189.1h0M1301.7 1251.7h0M1316.6 1271.4h0M1329.8 1230.6h0M1345.3 1211.3h0M1317.9 1219.9h0M1321.5 1276.8h0M1324.0 1149.3h0M1315.7 1195.1h0M1299.5 1267.8h0M1341.7 1233.6h0M1337.5 1216.2h0M1333.0 1220.1h0M1341.0 1209.3h0M1303.0 1241.4h0M1311.9 1279.4h0M1294.0 1242.5h0M1316.3 1188.8h0M1340.4 1227.3h0M1308.9 1272.1h0M1337.6 1245.3h0M1337.5 1236.4h0M1311.1 1185.9h0M1328.7 1208.4h0M1313.0 1212.7h0M1325.2 1187.9h0M1310.0 1250.1h0M1322.5 1238.3h0M1302.4 1271.7h0M1314.4 1201.1h0M1318.5 1297.3h0M1294.5 1245.5h0M1325.9 1252.7h0M1288.5 1244.9h0M1314.0 1228.9h0M1302.0 1160.0h0M1285.3 1161.7h0M1313.8 1144.6h0M1323.9 1200.2h0M1311.5 1255.8h0M1324.1 1199.0h0M1323.0 1219.3h0M1344.3 1240.5h0M1351.3 1244.6h0M1352.3 1253.6h0M1329.9 1156.2h0M1300.6 1213.7h0M1337.5 1262.1h0M1325.8 1276.0h0M1316.6 1266.7h0M1328.3 1145.9h0M1325.5 1188.0h0M1323.9 1184.0h0M1300.5 1198.4h0M1332.7 1203.7h0M1331.3 1202.0h0M1342.5 1207.5h0M1324.4 1182.0h0M1321.0 1291.5h0M1331.4 1187.6h0M1339.5 1264.3h0M1335.3 1246.2h0M1308.7 1167.0h0M1309.7 1280.3h0M1323.7 1293.2h0M1344.7 1246.4h0M1334.5 1182.7h0M1312.4 1203.6h0M1339.1 1192.0h0M1336.0 1272.0h0M1311.0 1209.8h0M1330.4 1177.3h0M1299.6 1256.9h0M1307.0 1189.5h0M1304.0 1260.1h0M1314.1 1154.8h0M1325.1 1150.1h0M1320.3 1245.0h0M1324.8 1220.5h0M1311.6 1286.6h0M1346.1 1260.0h0M1312.9 1262.8h0M1311.6 1162.3h0M1338.2 1202.5h0M1304.5 1185.9h0M1324.4 1173.4h0M1302.1 1194.0h0M1322.0 1263.7h0M1330.3 1134.8h0M1301.9 1263.0h0M1297.0 1199.4h0M1305.8 1186.9h0M1308.4 1253.9h0M1299.8 1259.7h0M1323.8 1254.6h0M1303.5 1262.5h0M1328.7 1240.6h0M1317.1 1287.4h0M1318.2 1224.8h0M1299.3 1193.2h0M1320.6 1211.0h0M1322.0 1292.1h0M1326.1 1241.6h0M1328.5 1268.1h0M1331.2 1207.4h0M1308.8 1201.9h0M1290.1 1247.6h0M1312.5 1162.6h0M1315.9 1272.4h0M1307.5 1177.6h0M1296.6 1269.7h0M1334.9 1220.9h0M1320.0 1270.7h0M1330.3 1201.0h0M1306.8 1213.1h0M1308.2 1287.7h0M1314.2 1218.8h0M1317.9 1215.7h0M1335.4 1239.1h0M1308.0 1197.2h0M1315.3 1236.2h0M1326.6 1196.5h0M1307.9 1242.1h0M1316.8 1278.9h0M1302.4 1215.9h0M1333.2 1221.3h0M1309.4 1288.1h0M1313.3 1169.6h0M1307.1 1218.5h0M1341.4 1238.2h0M1306.1 1186.0h0M1317.6 1263.8h0M1319.7 1291.3h0M1312.8 1274.3h0M1283.5 1224.0h0M1324.7 1289.7h0M1312.7 1149.0h0M1309.4 1292.4h0M1300.8 1252.5h0M1327.3 1266.2h0M1331.2 1223.6h0M1322.7 1292.8h0M1333.0 1180.5h0M1317.3 1204.6h0M1340.0 1264.1h0M1308.2 1279.1h0M1323.7 1160.0h0M1320.9 1293.4h0M1306.1 1258.6h0M1340.6 1254.3h0M1295.8 1215.9h0M1326.6 1148.5h0M1309.4 1197.5h0M1312.2 1215.1h0M1325.2 1224.3h0M1310.2 1154.7h0M1306.0 1246.7h0M1304.9 1216.7h0M1306.4 1153.5h0M1319.8 1220.8h0M1303.3 1215.5h0M1325.7 1203.9h0M1351.1 1249.2h0M1319.7 1248.3h0M1297.9 1235.2h0M1315.3 1217.6h0M1346.1 1219.9h0M1315.1 1204.2h0M1335.8 1217.1h0M1324.1 1191.1h0M1328.8 1233.8h0M1332.8 1208.4h0M1294.3 1278.1h0M1324.2 1183.5h0M1328.6 1181.8h0M1324.8 1157.5h0M1315.9 1193.7h0M1312.1 1246.7h0M1317.0 1261.8h0M1332.3 1256.4h0M1356.1 1264.7h0M1332.3 1176.1h0M1323.1 1271.7h0M1305.3 1178.0h0M1315.6 1269.4h0M1321.5 1288.0h0M1308.3 1168.7h0M1303.2 1176.9h0M1302.6 1192.0h0M1305.8 1216.3h0M1327.5 1288.7h0M1312.8 1281.5h0M1312.2 1201.1h0M1300.7 1275.8h0M1303.6 1270.6h0M1331.1 1252.0h0M1346.8 1253.3h0M1304.0 1152.7h0M1307.8 1209.8h0M1320.9 1297.2h0M1311.7 1290.3h0M1317.5 1241.3h0M1310.2 1250.1h0M1339.9 1230.7h0M1314.8 1213.9h0M1322.7 1219.2h0M1320.8 1279.3h0M1320.2 1270.2h0M1307.3 1172.2h0M1323.4 1293.9h0M1305.6 1224.2h0M1328.1 1167.7h0M1303.7 1276.2h0M1329.6 1209.3h0M1312.5 1205.9h0M1321.8 1204.2h0M1327.1 1219.8h0M1320.6 1293.5h0M1301.1 1211.3h0M1326.2 1254.4h0M1332.8 1208.5h0M1361.8 1248.6h0M1307.2 1243.5h0M1324.7 1137.6h0M1313.2 1255.6h0M1329.7 1280.9h0M1298.3 1274.1h0M1310.5 1271.5h0M1295.4 1267.0h0M1313.0 1156.0h0M1311.9 1148.5h0M1351.1 1278.4h0M1325.4 1272.6h0M1336.5 1225.7h0M1327.3 1140.2h0M1347.1 1197.5h0M1301.2 1288.9h0M1301.8 1251.3h0M1335.1 1224.7h0M1310.9 1293.1h0M1333.0 1190.5h0M1300.7 1216.9h0M1312.2 1290.4h0M1312.5 1187.2h0M1325.5 1153.7h0M1296.5 1205.9h0M1342.2 1193.3h0M1328.0 1119.8h0M1305.8 1255.0h0M1306.7 1149.9h0M1322.9 1294.9h0M1297.3 1190.1h0M1333.3 1245.6h0M1317.4 1236.8h0M1298.3 1278.1h0M1257.8 1234.5h0M1321.4 1223.2h0M1346.8 1261.2h0M1322.7 1251.7h0M1319.6 1197.9h0M1333.9 1281.2h0M1326.5 1192.3h0M1323.8 1153.5h0M1309.4 1159.6h0M1327.1 1190.0h0M1322.8 1207.0h0M1300.3 1163.3h0M1344.6 1273.7h0M1327.7 1157.8h0M1321.8 1235.1h0M1323.3 1270.2h0M1321.1 1223.1h0M1324.1 1184.1h0M1305.5 1191.9h0M1340.1 1286.0h0M1332.3 1282.1h0M1322.2 1265.5h0M1297.3 1190.8h0M1302.1 1177.0h0M1328.9 1228.6h0M1332.8 1274.1h0M1312.8 1196.5h0M1302.8 1210.1h0M1312.2 1174.4h0M1321.3 1252.5h0M1282.6 1261.8h0M1320.8 1291.1h0M1320.2 1240.3h0M1319.9 1298.1h0M1315.5 1281.5h0M1304.9 1258.2h0M1295.0 1260.0h0M1303.1 1156.4h0M1319.2 1298.1h0M1337.4 1145.4h0M1335.6 1188.0h0M1332.0 1291.8h0M1315.8 1277.6h0M1327.1 1168.1h0M1334.1 1150.1h0M1293.9 1249.7h0M1322.6 1218.1h0M1326.3 1229.4h0M1308.5 1207.7h0M1285.7 1249.6h0M1338.9 1168.0h0M1309.8 1210.3h0M1304.3 1288.6h0M1313.1 1284.5h0M1331.2 1273.6h0M1327.3 1195.9h0M1310.3 1178.7h0M1312.8 1190.8h0M1335.1 1206.1h0M1328.7 1208.2h0M1329.3 1160.1h0M1321.7 1295.7h0M1321.5 1190.7h0M1303.2 1219.8h0M1310.1 1259.6h0M1331.2 1269.9h0M1300.0 1200.3h0M1311.8 1188.3h0M1324.5 1130.5h0M1302.9 1260.4h0M1319.5 1274.9h0M1334.7 1262.4h0M1299.6 1224.1h0M1312.4 1292.3h0M1301.2 1255.4h0M1324.9 1232.9h0M1339.2 1257.8h0M1351.0 1164.7h0M1324.4 1273.0h0M1320.1 1290.6h0M1351.3 1239.7h0M1302.0 1170.8h0M1310.1 1193.9h0M1328.0 1177.3h0M1340.6 1178.7h0M1301.9 1228.5h0M1307.4 1277.7h0M1326.6 1265.8h0M1304.6 1222.4h0M1302.0 1234.3h0M1311.7 1266.5h0M1335.0 1227.6h0M1300.9 1225.1h0M1317.6 1283.9h0M1299.6 1184.8h0M1307.3 1230.1h0M1343.0 1191.7h0M1345.5 1228.5h0M1325.7 1289.6h0M1327.8 1185.9h0M1313.3 1195.5h0M1313.7 1199.0h0M1326.9 1281.9h0M1335.3 1174.5h0M1308.4 1197.2h0M1322.2 1168.8h0M1311.4 1174.2h0M1337.6 1232.3h0M1323.2 1277.0h0M1333.6 1248.9h0M1305.9 1251.8h0M1327.6 1210.2h0M1347.8 1193.9h0M1326.7 1290.9h0M1268.1 1249.3h0M1322.7 1279.9h0M1306.9 1248.9h0M1324.4 1266.1h0M1310.6 1263.5h0M1305.6 1159.0h0M1294.5 1245.5h0M1324.0 1232.9h0M1336.5 1266.3h0M1328.1 1158.1h0M1312.9 1192.7h0M1307.4 1155.2h0M1314.5 1189.3h0M1301.4 1228.6h0M1321.6 1244.1h0M1317.7 1258.3h0M1313.2 1195.1h0M1307.8 1151.5h0M1331.0 1160.4h0M1321.8 1296.5h0M1295.0 1251.6h0M1321.7 1210.8h0M1306.0 1147.4h0M1334.3 1241.2h0M1293.4 1192.0h0M1301.8 1253.4h0M1309.4 1280.8h0M1303.1 1238.8h0M1319.1 1264.2h0M1304.1 1259.5h0M1301.8 1261.5h0M1323.9 1282.9h0M1298.1 1239.8h0M1331.4 1182.2h0M1317.9 1296.0h0M1300.9 1216.8h0M1344.7 1278.5h0M1295.9 1246.9h0M1320.0 1211.0h0M1322.3 1296.5h0M1306.6 1290.3h0M1301.1 1211.0h0M1312.7 1224.3h0M1340.1 1163.1h0M1321.7 1280.5h0M1326.7 1186.0h0M1316.3 1241.5h0M1312.0 1273.6h0M1346.5 1205.9h0M1326.3 1191.6h0M1332.1 1177.4h0M1308.4 1284.6h0M1332.1 1188.4h0M1310.4 1290.8h0M1335.0 1232.3h0M1329.3 1153.9h0M1313.8 1289.8h0M1299.6 1247.9h0M1311.0 1186.3h0M1342.4 1219.3h0M1323.1 1153.3h0M1317.3 1213.0h0M1325.0 1254.8h0M1325.2 1204.4h0M1299.2 1253.4h0M1311.3 1157.2h0M1331.2 1160.4h0M1300.5 1261.6h0M1333.4 1262.1h0M1305.2 1157.0h0M1329.7 1270.1h0M1315.3 1295.7h0M1299.8 1201.5h0M1326.2 1294.3h0M1312.5 1190.6h0M1328.3 1185.6h0M1322.6 1266.1h0M1307.2 1164.2h0M1312.5 1227.7h0M1337.0 1278.3h0M1325.7 1254.4h0M1306.8 1185.2h0M1295.6 1222.5h0M1300.2 1269.1h0M1334.4 1202.8h0M1334.2 1228.5h0M1320.1 1239.1h0M1319.8 1262.6h0M1314.3 1288.6h0M1315.2 1187.7h0M1329.3 1168.0h0M1324.7 1222.0h0M1310.1 1211.4h0M1318.0 1283.2h0M1299.2 1209.8h0M1315.2 1206.3h0M1323.9 1185.0h0M1280.9 1236.1h0M1311.0 1264.2h0M1311.7 1213.3h0M1305.2 1191.9h0M1323.3 1203.9h0M1321.4 1264.2h0M1332.0 1209.4h0M1303.0 1184.8h0M1308.2 1192.8h0M1343.1 1219.8h0M1325.6 1260.2h0M1308.9 1186.5h0M1322.7 1293.8h0M1316.7 1210.8h0M1316.1 1263.3h0M1338.2 1171.4h0M1325.5 1224.9h0M1327.5 1154.2h0M1327.4 1230.3h0M1337.0 1209.8h0M1314.2 1200.8h0M1314.2 1193.8h0M1316.5 1214.2h0M1297.0 1234.0h0M1293.9 1265.4h0M1314.3 1294.2h0M1317.9 1254.8h0M1312.8 1226.3h0M1322.0 1295.8h0M1319.6 1215.8h0M1307.7 1152.3h0M1327.5 1290.4h0M1311.9 1151.1h0M1325.3 1182.8h0M1336.4 1184.0h0M1315.4 1278.4h0M1334.3 1194.9h0M1310.5 1180.6h0M1327.5 1154.3h0M1340.4 1170.8h0M1326.9 1144.9h0M1306.9 1234.2h0M1347.2 1275.7h0M1326.5 1134.1h0M1305.8 1235.1h0M1312.3 1254.3h0M1322.1 1236.4h0M1306.1 1221.9h0M1324.6 1188.5h0M1339.5 1251.1h0M1302.4 1161.1h0M1336.6 1256.9h0M1332.9 1203.5h0M1327.1 1261.8h0M1317.2 1285.7h0M1339.8 1230.2h0M1320.1 1288.6h0M1338.2 1221.5h0M1314.1 1280.5h0M1293.4 1164.2h0M1313.2 1190.2h0M1322.4 1261.7h0M1301.4 1248.1h0M1312.5 1231.4h0M1315.7 1187.1h0M1325.0 1190.1h0M1316.2 1235.9h0M1306.6 1236.2h0M1319.2 1278.2h0M1326.7 1277.1h0M1324.5 1127.6h0M1328.2 1239.8h0M1335.2 1206.8h0M1308.5 1261.0h0M1327.3 1259.6h0M1348.8 1144.3h0M1333.3 1186.1h0M1331.3 1160.3h0M1326.5 1216.8h0M1327.8 1243.4h0M1334.3 1141.2h0M1297.1 1224.9h0M1332.7 1228.1h0M1308.5 1226.4h0M1346.0 1224.3h0M1320.8 1196.2h0M1306.1 1269.9h0M1283.6 1225.5h0M1326.5 1187.9h0M1313.5 1153.6h0M1289.2 1253.7h0M1336.3 1188.6h0M1289.7 1262.4h0M1325.9 1178.1h0M1298.5 1264.6h0M1331.2 1146.8h0M1335.5 1178.4h0M1308.8 1231.2h0M1322.3 1275.1h0M1312.2 1225.0h0M1310.3 1199.5h0M1347.9 1280.2h0M1324.6 1284.1h0M1338.4 1255.7h0M1334.1 1184.8h0M1318.3 1259.8h0M1309.8 1213.6h0M1317.9 1226.9h0M1326.0 1193.2h0M1322.4 1288.3h0M1298.1 1174.9h0M1309.8 1216.6h0M1344.5 1248.8h0M1309.0 1244.4h0M1314.7 1223.6h0M1321.7 1203.1h0M1328.1 1294.1h0M1305.3 1212.6h0M1311.6 1243.2h0M1301.6 1249.8h0M1324.6 1149.3h0M1326.8 1150.2h0M1310.0 1280.7h0M1298.3 1205.0h0M1324.3 1293.8h0M1342.5 1209.3h0M1326.0 1134.2h0M1308.3 1254.1h0M1322.2 1238.4h0M1308.5 1277.5h0M1298.4 1262.9h0M1293.0 1210.3h0M1303.1 1209.5h0M1325.9 1186.9h0M1318.8 1298.4h0M1300.4 1220.6h0M1321.9 1294.1h0M1297.5 1170.8h0M1331.9 1199.3h0M1300.4 1188.8h0M1317.6 1294.1h0M1312.1 1195.1h0M1331.9 1192.4h0M1311.0 1252.2h0M1306.9 1174.3h0M1308.4 1244.7h0M1337.3 1130.5h0M1322.2 1195.4h0M1323.6 1295.0h0M1326.0 1215.1h0M1328.6 1266.3h0M1314.7 1191.8h0M1327.1 1155.3h0M1317.9 1297.9h0M1314.9 1239.8h0M1303.4 1152.7h0M1311.6 1165.0h0M1318.6 1298.3h0M1332.2 1208.2h0M1326.1 1292.8h0M1311.7 1211.6h0M1310.6 1196.7h0M1321.7 1236.5h0M1310.6 1275.1h0M1305.3 1280.2h0M1312.1 1153.7h0M1328.3 1208.3h0M1331.5 1291.1h0M1303.7 1171.5h0M1302.9 1215.8h0M1327.2 1259.0h0M1344.0 1218.4h0M1314.2 1274.8h0M1314.9 1194.9h0M1313.3 1290.4h0M1333.3 1270.5h0M1303.1 1156.3h0M1311.7 1198.3h0M1317.9 1276.2h0M1321.4 1281.4h0M1315.2 1286.8h0M1324.3 1261.3h0M1320.8 1282.4h0M1315.5 1241.9h0M1314.5 1198.1h0M1322.8 1185.0h0M1324.2 1240.8h0M1313.8 1294.5h0M1340.0 1214.7h0M1315.0 1192.9h0M1323.8 1294.8h0M1326.1 1161.0h0M1324.4 1191.0h0M1330.8 1186.3h0M1304.7 1246.1h0M1327.4 1169.3h0M1309.9 1282.5h0M1347.5 1175.9h0M1314.2 1214.1h0M1320.9 1294.1h0M1304.5 1280.9h0M1323.6 1201.1h0M1297.9 1220.5h0M1330.1 1264.6h0M1321.3 1294.3h0M1325.9 1172.3h0M1327.1 1141.1h0M1327.0 1206.9h0M1313.9 1239.4h0M1332.0 1145.1h0M1307.6 1277.6h0M1306.9 1154.6h0M1310.0 1283.0h0M1322.4 1274.0h0M1314.7 1262.2h0M1324.1 1200.9h0M1317.2 1284.6h0M1307.1 1169.7h0M1313.6 1254.4h0M1329.6 1200.0h0M1323.9 1152.5h0M1336.7 1178.6h0M1309.2 1258.0h0M1324.0 1264.3h0M1341.2 1201.4h0M1310.1 1148.1h0M1323.9 1142.6h0M1304.0 1121.8h0M1317.0 1262.1h0M1309.1 1209.5h0M1311.6 1186.1h0M1339.0 1210.7h0M1289.9 1166.0h0M1326.5 1248.7h0M1341.5 1220.6h0M1325.4 1139.2h0M1310.1 1208.4h0M1313.0 1159.9h0M1306.2 1208.6h0M1334.4 1256.6h0M1333.8 1281.5h0M1307.1 1190.9h0M1321.0 1294.2h0M1313.4 1283.1h0M1292.2 1255.7h0M1307.1 1268.5h0M1333.3 1278.7h0M1344.0 1156.1h0M1294.1 1257.0h0M1331.9 1253.0h0M1320.1 1241.6h0M1325.6 1158.9h0M1333.3 1140.8h0M1322.5 1239.9h0M1325.3 1125.6h0M1328.8 1244.3h0M1322.2 1197.9h0M1309.7 1200.3h0M1304.1 1184.2h0M1310.9 1293.5h0M1333.9 1197.4h0M1317.0 1230.3h0M1314.2 1255.3h0M1310.0 1214.5h0M1326.1 1269.6h0M1312.4 1272.0h0M1317.3 1234.0h0M1306.3 1168.1h0M1312.4 1267.5h0M1317.5 1204.2h0M1314.8 1222.8h0M1324.1 1227.6h0M1310.4 1276.4h0M1321.4 1292.8h0M1305.6 1157.2h0M1288.3 1227.9h0M1319.0 1208.9h0M1307.0 1235.4h0M1331.9 1264.5h0M1312.3 1153.7h0M1314.4 1228.6h0M1335.2 1271.0h0M1318.7 1295.9h0M1304.4 1220.4h0M1292.1 1238.6h0M1326.5 1159.4h0M1338.8 1190.4h0M1324.6 1186.5h0M1327.4 1158.2h0M1307.2 1234.6h0M1314.9 1296.2h0M1336.8 1166.7h0M1346.9 1213.1h0M1276.1 1246.6h0M1314.2 1218.0h0M1305.8 1240.8h0M1293.9 1275.5h0M1326.2 1287.8h0M1329.0 1265.2h0M1308.5 1204.7h0M1316.9 1255.1h0M1310.2 1286.0h0M1309.0 1190.1h0M1314.1 1285.1h0M1313.7 1149.3h0M1296.6 1229.3h0M1307.0 1156.0h0M1307.4 1230.3h0M1340.9 1188.9h0M1331.9 1194.4h0M1321.1 1297.6h0M1307.0 1225.2h0M1327.1 1264.1h0M1317.2 1297.3h0M1342.6 1223.5h0M1331.7 1188.7h0M1316.8 1275.2h0M1307.4 1213.4h0M1314.6 1212.0h0M1316.9 1270.5h0M1350.0 1240.7h0M1317.6 1251.2h0M1331.3 1146.0h0M1313.9 1239.0h0M1316.5 1247.5h0M1345.0 1258.8h0M1321.5 1287.4h0M1323.7 1273.6h0M1321.5 1286.6h0M1310.3 1281.1h0M1343.8 1240.8h0M1307.5 1198.3h0M1306.6 1249.8h0M1339.0 1163.2h0M1310.4 1170.9h0M1324.4 1153.6h0M1325.6 1149.8h0M1313.9 1222.4h0M1323.8 1268.1h0M1328.3 1281.2h0M1315.9 1238.3h0M1323.2 1267.6h0M1300.8 1273.5h0M1314.4 1282.4h0M1337.6 1231.1h0M1309.7 1288.8h0M1321.2 1293.1h0M1327.2 1221.9h0M1310.0 1197.6h0M1311.1 1149.2h0M1322.0 1194.9h0M1311.3 1200.9h0M1311.2 1197.1h0M1325.3 1222.1h0M1322.2 1250.5h0M1309.8 1259.9h0M1320.5 1257.0h0M1313.7 1276.7h0M1311.1 1215.1h0M1307.5 1272.9h0M1325.7 1152.2h0" stroke="#9c9a9d" stroke-width="5.4" stroke-linecap="round" fill="none"/>
<circle cx="1346.0" cy="977.7" r="2.7" fill="#9c9a9d"/>
<circle cx="1339.0" cy="1019.2" r="2.7" fill="#9c9a9d"/>
<circle cx="1322.1" cy="1022.7" r="2.7" fill="#9c9a9d"/>
<circle cx="1312.3" cy="1032.9" r="2.7" fill="#9c9a9d"/>
<circle cx="1335.5" cy="1043.4" r="2.7" fill="#9c9a9d"/>
<circle cx="1296.8" cy="1046.9" r="2.7" fill="#9c9a9d"/>
<circle cx="1303.8" cy="1072.9" r="2.7" fill="#9c9a9d"/>
<circle cx="1322.1" cy="1070.1" r="2.7" fill="#9c9a9d"/>
<circle cx="1287.0" cy="1083.1" r="2.7" fill="#9c9a9d"/>
<circle cx="1322.1" cy="1081.7" r="2.7" fill="#9c9a9d"/>
<circle cx="1300.0" cy="1091.5" r="2.7" fill="#9c9a9d"/>
<circle cx="1236.4" cy="1272.8" r="2.7" fill="#9c9a9d"/>
<circle cx="1241.7" cy="1230.6" r="2.7" fill="#9c9a9d"/>
<circle cx="1263.4" cy="1248.5" r="2.7" fill="#9c9a9d"/>
<line x1="1281.4" y1="880.0" x2="1281.4" y2="1316.0" stroke="#111" stroke-width="1.5" stroke-dasharray="4.9 3.1"/>
<line x1="1356.2" y1="880.0" x2="1356.2" y2="1316.0" stroke="#111" stroke-width="1.5" stroke-dasharray="4.9 3.1"/>
<line x1="1073.0" y1="1222.2" x2="1564.5" y2="1222.2" stroke="#111" stroke-width="1.5" stroke-dasharray="4.9 3.1"/>
<circle cx="1430.3" cy="899.7" r="2.9" fill="#d4536a"/>
<circle cx="1425.0" cy="1000.9" r="2.9" fill="#d4536a"/>
<circle cx="1430.7" cy="1000.5" r="2.9" fill="#d4536a"/>
<circle cx="1522.3" cy="1044.4" r="2.9" fill="#d4536a"/>
<circle cx="1376.6" cy="1075.7" r="2.9" fill="#d4536a"/>
<circle cx="1388.5" cy="1072.9" r="2.9" fill="#d4536a"/>
<circle cx="1397.3" cy="1088.4" r="2.9" fill="#d4536a"/>
<circle cx="1368.8" cy="1093.6" r="2.9" fill="#d4536a"/>
<circle cx="1358.3" cy="1101.7" r="2.9" fill="#d4536a"/>
<circle cx="1358.3" cy="1101.7" r="4.9" fill="none" stroke="#111" stroke-width="1.1"/>
<circle cx="1364.6" cy="1110.5" r="2.9" fill="#d4536a"/>
<circle cx="1364.6" cy="1110.5" r="4.9" fill="none" stroke="#111" stroke-width="1.1"/>
<circle cx="1372.3" cy="1111.5" r="2.9" fill="#d4536a"/>
<circle cx="1372.3" cy="1111.5" r="4.9" fill="none" stroke="#111" stroke-width="1.1"/>
<circle cx="1375.1" cy="1112.2" r="2.9" fill="#d4536a"/>
<circle cx="1375.1" cy="1112.2" r="4.9" fill="none" stroke="#111" stroke-width="1.1"/>
<circle cx="1373.7" cy="1117.5" r="2.9" fill="#d4536a"/>
<circle cx="1388.5" cy="1118.2" r="2.9" fill="#d4536a"/>
<circle cx="1486.5" cy="1117.2" r="2.9" fill="#d4536a"/>
<circle cx="1440.5" cy="1132.6" r="2.9" fill="#d4536a"/>
<circle cx="1426.4" cy="1144.6" r="2.9" fill="#d4536a"/>
<circle cx="1367.1" cy="1147.0" r="2.9" fill="#d4536a"/>
<circle cx="1368.1" cy="1155.5" r="2.9" fill="#d4536a"/>
<circle cx="1434.2" cy="1158.3" r="2.9" fill="#d4536a"/>
<circle cx="1434.2" cy="1158.3" r="4.9" fill="none" stroke="#111" stroke-width="1.1"/>
<circle cx="1361.8" cy="1163.2" r="2.9" fill="#d4536a"/>
<circle cx="1361.8" cy="1163.2" r="4.9" fill="none" stroke="#111" stroke-width="1.1"/>
<circle cx="1387.4" cy="1178.3" r="2.9" fill="#d4536a"/>
<circle cx="1387.4" cy="1178.3" r="4.9" fill="none" stroke="#111" stroke-width="1.1"/>
<circle cx="1372.7" cy="1180.0" r="2.9" fill="#d4536a"/>
<circle cx="1358.3" cy="1201.8" r="2.9" fill="#d4536a"/>
<circle cx="1358.3" cy="1201.8" r="4.9" fill="none" stroke="#111" stroke-width="1.1"/>
<circle cx="1368.8" cy="1200.8" r="2.9" fill="#d4536a"/>
<circle cx="1368.8" cy="1200.8" r="4.9" fill="none" stroke="#111" stroke-width="1.1"/>
<circle cx="1366.0" cy="1208.1" r="2.9" fill="#d4536a"/>
<circle cx="1366.0" cy="1208.1" r="4.9" fill="none" stroke="#111" stroke-width="1.1"/>
<circle cx="1400.1" cy="1201.1" r="2.9" fill="#d4536a"/>
<circle cx="1400.1" cy="1201.1" r="4.9" fill="none" stroke="#111" stroke-width="1.1"/>
<circle cx="1380.8" cy="1212.7" r="2.9" fill="#d4536a"/>
<circle cx="1378.3" cy="1217.3" r="2.9" fill="#d4536a"/>
<circle cx="1378.3" cy="1217.3" r="4.9" fill="none" stroke="#111" stroke-width="1.1"/>
<circle cx="1375.5" cy="1220.4" r="2.9" fill="#d4536a"/>
<circle cx="1375.5" cy="1220.4" r="4.9" fill="none" stroke="#111" stroke-width="1.1"/>
<circle cx="1357.6" cy="1220.4" r="2.9" fill="#d4536a"/>
<circle cx="1357.6" cy="1220.4" r="4.9" fill="none" stroke="#111" stroke-width="1.1"/>
<circle cx="1211.4" cy="1032.5" r="2.9" fill="#4070b8"/>
<circle cx="1211.4" cy="1032.5" r="4.9" fill="none" stroke="#111" stroke-width="1.1"/>
<circle cx="1249.0" cy="1080.3" r="2.9" fill="#4070b8"/>
<circle cx="1249.0" cy="1080.3" r="4.9" fill="none" stroke="#111" stroke-width="1.1"/>
<circle cx="1246.2" cy="1111.5" r="2.9" fill="#4070b8"/>
<circle cx="1246.2" cy="1111.5" r="4.9" fill="none" stroke="#111" stroke-width="1.1"/>
<circle cx="1270.1" cy="1116.5" r="2.9" fill="#4070b8"/>
<circle cx="1270.1" cy="1116.5" r="4.9" fill="none" stroke="#111" stroke-width="1.1"/>
<circle cx="1278.9" cy="1111.9" r="2.9" fill="#4070b8"/>
<circle cx="1278.9" cy="1111.9" r="4.9" fill="none" stroke="#111" stroke-width="1.1"/>
<circle cx="1272.9" cy="1126.3" r="2.9" fill="#4070b8"/>
<circle cx="1272.9" cy="1126.3" r="4.9" fill="none" stroke="#111" stroke-width="1.1"/>
<circle cx="1234.3" cy="1139.3" r="2.9" fill="#4070b8"/>
<circle cx="1234.3" cy="1139.3" r="4.9" fill="none" stroke="#111" stroke-width="1.1"/>
<circle cx="1236.4" cy="1144.2" r="2.9" fill="#4070b8"/>
<circle cx="1236.4" cy="1144.2" r="4.9" fill="none" stroke="#111" stroke-width="1.1"/>
<circle cx="1278.9" cy="1140.0" r="2.9" fill="#4070b8"/>
<circle cx="1278.9" cy="1140.0" r="4.9" fill="none" stroke="#111" stroke-width="1.1"/>
<circle cx="1277.1" cy="1149.1" r="2.9" fill="#4070b8"/>
<circle cx="1277.1" cy="1149.1" r="4.9" fill="none" stroke="#111" stroke-width="1.1"/>
<circle cx="1250.1" cy="1156.5" r="2.9" fill="#4070b8"/>
<circle cx="1250.1" cy="1156.5" r="4.9" fill="none" stroke="#111" stroke-width="1.1"/>
<circle cx="1261.7" cy="1153.0" r="2.9" fill="#4070b8"/>
<circle cx="1261.7" cy="1153.0" r="4.9" fill="none" stroke="#111" stroke-width="1.1"/>
<circle cx="1274.3" cy="1161.1" r="2.9" fill="#4070b8"/>
<circle cx="1270.5" cy="1170.9" r="2.9" fill="#4070b8"/>
<circle cx="1270.5" cy="1170.9" r="4.9" fill="none" stroke="#111" stroke-width="1.1"/>
<circle cx="1277.5" cy="1183.6" r="2.9" fill="#4070b8"/>
<circle cx="1277.5" cy="1183.6" r="4.9" fill="none" stroke="#111" stroke-width="1.1"/>
<circle cx="1243.1" cy="1203.9" r="2.9" fill="#4070b8"/>
<circle cx="1243.1" cy="1203.9" r="4.9" fill="none" stroke="#111" stroke-width="1.1"/>
<circle cx="1269.8" cy="1199.0" r="2.9" fill="#4070b8"/>
<circle cx="1269.8" cy="1199.0" r="4.9" fill="none" stroke="#111" stroke-width="1.1"/>
<circle cx="1275.7" cy="1202.5" r="2.9" fill="#4070b8"/>
<circle cx="1275.7" cy="1202.5" r="4.9" fill="none" stroke="#111" stroke-width="1.1"/>
<circle cx="1270.1" cy="1208.1" r="2.9" fill="#4070b8"/>
<circle cx="1270.1" cy="1208.1" r="4.9" fill="none" stroke="#111" stroke-width="1.1"/>
<circle cx="1267.0" cy="1219.4" r="2.9" fill="#4070b8"/>
<circle cx="1267.0" cy="1219.4" r="4.9" fill="none" stroke="#111" stroke-width="1.1"/>
<circle cx="1278.5" cy="1218.0" r="2.9" fill="#4070b8"/>
<circle cx="1278.5" cy="1218.0" r="4.9" fill="none" stroke="#111" stroke-width="1.1"/>
<circle cx="1280.0" cy="1219.4" r="2.9" fill="#4070b8"/>
<circle cx="1280.0" cy="1219.4" r="4.9" fill="none" stroke="#111" stroke-width="1.1"/>
<rect x="1073.0" y="880.0" width="491.5" height="436.0" fill="none" stroke="#555" stroke-width="1.3"/>
<text x="1199.5" y="1341.3" font-size="24.5" text-anchor="middle">-2</text>
<text x="1322.6" y="1341.3" font-size="24.5" text-anchor="middle">0</text>
<text x="1450.0" y="1341.3" font-size="24.5" text-anchor="middle">2</text>
<text x="1066.7" y="1300.8" font-size="24.5" text-anchor="end">0</text>
<text x="1066.7" y="1187.0" font-size="24.5" text-anchor="end">2</text>
<text x="1066.7" y="1073.2" font-size="24.5" text-anchor="end">4</text>
<text x="1066.7" y="959.4" font-size="24.5" text-anchor="end">6</text>
<text x="1316.8" y="1375.6" font-size="26.2" text-anchor="middle">log2(FC)</text>
<text x="1041.5" y="1096.5" font-size="26.4" text-anchor="middle" transform="rotate(-90 1041.5 1096.5)">-log10(pVal)</text>
<text x="1158.8" y="1073.6" font-size="26">Nfkbib</text>
<text x="1143.0" y="1139.6" font-size="26">Nfkbie</text>
<text x="1126.1" y="1187.0" font-size="26">Dpep2</text>
<text x="1420.5" y="1053.6" font-size="25.8">Nlrp3</text>
<text x="1474.9" y="1082.4" font-size="25.5">Acod1</text>
<line x1="1236.7" y1="1070.1" x2="1246.2" y2="1109.8" stroke="#111" stroke-width="1.3"/>
<line x1="1217.8" y1="1122.8" x2="1270.5" y2="1126.3" stroke="#111" stroke-width="1.3"/>
<line x1="1207.2" y1="1179.0" x2="1268.4" y2="1171.3" stroke="#111" stroke-width="1.3"/>
<line x1="1419.8" y1="1050.8" x2="1369.9" y2="1092.6" stroke="#111" stroke-width="1.3"/>
<line x1="1504.8" y1="1088.0" x2="1487.6" y2="1115.8" stroke="#111" stroke-width="1.3"/>
<text x="1577.6" y="1054.5" font-size="26.4">Significant</text>
<text x="1604.0" y="1083.4" font-size="26.4">Sig Up (34)</text>
<circle cx="1586.1" cy="1079.4" r="4.2" fill="#d4536a"/>
<text x="1604.0" y="1112.2" font-size="26.4">No Diff (5787)</text>
<circle cx="1586.1" cy="1108.5" r="4.2" fill="#a9a8aa"/>
<text x="1604.0" y="1138.5" font-size="26.4">Sig Down (24)</text>
<circle cx="1586.1" cy="1134.3" r="4.2" fill="#4070b8"/>
</g>
<g id="panelD">
<text x="431.7" y="1463.0" font-size="33.2" text-anchor="middle">Differential Expressed Genes/Proteins</text>
<defs><clipPath id="vcB"><ellipse cx="332.7" cy="1790.6" rx="222" ry="122" transform="rotate(45 332.7 1790.6)"/></clipPath><clipPath id="vcG"><ellipse cx="426.8" cy="1728.8" rx="220.2" ry="95.4" transform="rotate(45 426.8 1728.8)"/></clipPath><clipPath id="vcP"><ellipse cx="426.8" cy="1728.5" rx="209" ry="90" transform="rotate(-45 426.8 1728.5)"/></clipPath><clipPath id="vcK"><ellipse cx="521.3" cy="1791.5" rx="222" ry="122" transform="rotate(-45 521.3 1791.5)"/></clipPath></defs>
<ellipse cx="332.7" cy="1790.6" rx="222" ry="122" transform="rotate(45 332.7 1790.6)" fill="#beceee"/>
<ellipse cx="426.8" cy="1728.8" rx="220.2" ry="95.4" transform="rotate(45 426.8 1728.8)" fill="#dff5ae"/>
<ellipse cx="426.8" cy="1728.5" rx="209" ry="90" transform="rotate(-45 426.8 1728.5)" fill="#e6c3f3"/>
<ellipse cx="521.3" cy="1791.5" rx="222" ry="122" transform="rotate(-45 521.3 1791.5)" fill="#f3c6c8"/>
<g clip-path="url(#vcB)"><ellipse cx="426.8" cy="1728.8" rx="220.2" ry="95.4" transform="rotate(45 426.8 1728.8)" fill="#b5d69c"/></g>
<g clip-path="url(#vcB)"><ellipse cx="426.8" cy="1728.5" rx="209" ry="90" transform="rotate(-45 426.8 1728.5)" fill="#c5a0ec"/></g>
<g clip-path="url(#vcB)"><ellipse cx="521.3" cy="1791.5" rx="222" ry="122" transform="rotate(-45 521.3 1791.5)" fill="#b1abe0"/></g>
<g clip-path="url(#vcG)"><ellipse cx="426.8" cy="1728.5" rx="209" ry="90" transform="rotate(-45 426.8 1728.5)" fill="#c0be8c"/></g>
<g clip-path="url(#vcG)"><ellipse cx="521.3" cy="1791.5" rx="222" ry="122" transform="rotate(-45 521.3 1791.5)" fill="#c5c17a"/></g>
<g clip-path="url(#vcP)"><ellipse cx="521.3" cy="1791.5" rx="222" ry="122" transform="rotate(-45 521.3 1791.5)" fill="#e098da"/></g>
<g clip-path="url(#vcB)"><g clip-path="url(#vcG)"><ellipse cx="426.8" cy="1728.5" rx="209" ry="90" transform="rotate(-45 426.8 1728.5)" fill="#aab08c"/></g></g>
<g clip-path="url(#vcB)"><g clip-path="url(#vcG)"><ellipse cx="521.3" cy="1791.5" rx="222" ry="122" transform="rotate(-45 521.3 1791.5)" fill="#a6be87"/></g></g>
<g clip-path="url(#vcB)"><g clip-path="url(#vcP)"><ellipse cx="521.3" cy="1791.5" rx="222" ry="122" transform="rotate(-45 521.3 1791.5)" fill="#c78fe8"/></g></g>
<g clip-path="url(#vcG)"><g clip-path="url(#vcP)"><ellipse cx="521.3" cy="1791.5" rx="222" ry="122" transform="rotate(-45 521.3 1791.5)" fill="#b8ab7d"/></g></g>
<g clip-path="url(#vcB)"><g clip-path="url(#vcG)"><g clip-path="url(#vcP)"><ellipse cx="521.3" cy="1791.5" rx="222" ry="122" transform="rotate(-45 521.3 1791.5)" fill="#a8aa82"/></g></g></g>
<text x="334.1" y="1610.7" font-size="19.5" text-anchor="middle">17</text>
<text x="522.7" y="1610.7" font-size="19.5" text-anchor="middle">12</text>
<text x="307.7" y="1673.2" font-size="19.5" text-anchor="middle">2</text>
<text x="427.5" y="1660.9" font-size="19.5" text-anchor="middle">0</text>
<text x="547.0" y="1673.2" font-size="19.5" text-anchor="middle">20</text>
<text x="228.7" y="1729.8" font-size="19.5" text-anchor="middle">1019</text>
<text x="364.7" y="1729.8" font-size="19.5" text-anchor="middle">0</text>
<text x="490.1" y="1729.8" font-size="19.5" text-anchor="middle">0</text>
<text x="629.9" y="1729.8" font-size="19.5" text-anchor="middle">1231</text>
<text x="427.5" y="1798.6" font-size="19.5" text-anchor="middle">0</text>
<text x="314.1" y="1830.3" font-size="19.5" text-anchor="middle">2</text>
<text x="540.3" y="1830.3" font-size="19.5" text-anchor="middle">5</text>
<text x="380.1" y="1855.6" font-size="19.5" text-anchor="middle">0</text>
<text x="474.3" y="1855.6" font-size="19.5" text-anchor="middle">0</text>
<text x="427.5" y="1918.1" font-size="19.5" text-anchor="middle">0</text>
<text x="64.7" y="1626.2" font-size="26.2">RNA down</text>
<text x="220.5" y="1551.1" font-size="26.3">Protein down</text>
<text x="519.1" y="1551.1" font-size="26.3">Protein up</text>
<text x="676.8" y="1626.2" font-size="26.2">RNA up</text>
</g>
<g id="panelE">
<path d="M1144.9 1563.5Q1144.9 1732.5 1143.9 1563.5A174.9 169.0 0 0 0 1136.2 1563.7Q1144.9 1732.5 1155.9 1563.8A174.9 169.0 0 0 0 1144.9 1563.5Z" fill="#6a4fb5" stroke="#111" stroke-width="1.5" stroke-linejoin="round"/>
<path d="M1155.9 1563.8Q1144.9 1732.5 1119.0 1565.3A174.9 169.0 0 0 0 1114.5 1566.0Q1144.9 1732.5 1166.8 1564.8A174.9 169.0 0 0 0 1155.9 1563.8Z" fill="#6a4fb5" stroke="#111" stroke-width="1.5" stroke-linejoin="round"/>
<path d="M1166.8 1564.8Q1144.9 1732.5 1094.6 1570.6A174.9 169.0 0 0 0 1083.8 1574.1Q1144.9 1732.5 1177.7 1566.5A174.9 169.0 0 0 0 1166.8 1564.8Z" fill="#6a4fb5" stroke="#111" stroke-width="1.5" stroke-linejoin="round"/>
<path d="M1177.7 1566.5Q1144.9 1732.5 1071.3 1579.2A174.9 169.0 0 0 0 1064.4 1582.4Q1144.9 1732.5 1188.4 1568.8A174.9 169.0 0 0 0 1177.7 1566.5Z" fill="#6a4fb5" stroke="#111" stroke-width="1.5" stroke-linejoin="round"/>
<path d="M1188.4 1568.8Q1144.9 1732.5 1049.5 1590.8A174.9 169.0 0 0 0 1044.7 1593.9Q1144.9 1732.5 1198.9 1571.7A174.9 169.0 0 0 0 1188.4 1568.8Z" fill="#6a4fb5" stroke="#111" stroke-width="1.5" stroke-linejoin="round"/>
<path d="M1198.9 1571.7Q1144.9 1732.5 1029.6 1605.4A174.9 169.0 0 0 0 1026.7 1607.9Q1144.9 1732.5 1209.3 1575.3A174.9 169.0 0 0 0 1198.9 1571.7Z" fill="#6a4fb5" stroke="#111" stroke-width="1.5" stroke-linejoin="round"/>
<path d="M1209.3 1575.3Q1144.9 1732.5 1114.5 1566.0A174.9 169.0 0 0 0 1110.0 1566.9Q1144.9 1732.5 1219.4 1579.5A174.9 169.0 0 0 0 1209.3 1575.3Z" fill="#4d84b8" stroke="#111" stroke-width="1.5" stroke-linejoin="round"/>
<path d="M1219.4 1579.5Q1144.9 1732.5 1012.0 1622.6A174.9 169.0 0 0 0 1004.9 1631.2Q1144.9 1732.5 1229.2 1584.4A174.9 169.0 0 0 0 1219.4 1579.5Z" fill="#4d84b8" stroke="#111" stroke-width="1.5" stroke-linejoin="round"/>
<path d="M1229.2 1584.4Q1144.9 1732.5 997.2 1642.0A174.9 169.0 0 0 0 994.2 1646.7Q1144.9 1732.5 1238.6 1589.8A174.9 169.0 0 0 0 1229.2 1584.4Z" fill="#4d84b8" stroke="#111" stroke-width="1.5" stroke-linejoin="round"/>
<path d="M1238.6 1589.8Q1144.9 1732.5 985.4 1663.2A174.9 169.0 0 0 0 982.4 1670.0Q1144.9 1732.5 1247.7 1595.7A174.9 169.0 0 0 0 1238.6 1589.8Z" fill="#4d84b8" stroke="#111" stroke-width="1.5" stroke-linejoin="round"/>
<path d="M1247.7 1595.7Q1144.9 1732.5 1136.2 1563.7A174.9 169.0 0 0 0 1128.6 1564.2Q1144.9 1732.5 1256.4 1602.3A174.9 169.0 0 0 0 1247.7 1595.7Z" fill="#7ccbb5" stroke="#111" stroke-width="1.5" stroke-linejoin="round"/>
<path d="M1256.4 1602.3Q1144.9 1732.5 994.2 1646.7A174.9 169.0 0 0 0 991.4 1651.5Q1144.9 1732.5 1264.6 1609.3A174.9 169.0 0 0 0 1256.4 1602.3Z" fill="#7ccbb5" stroke="#111" stroke-width="1.5" stroke-linejoin="round"/>
<path d="M1264.6 1609.3Q1144.9 1732.5 976.8 1685.8A174.9 169.0 0 0 0 974.8 1693.0Q1144.9 1732.5 1272.4 1616.8A174.9 169.0 0 0 0 1264.6 1609.3Z" fill="#7ccbb5" stroke="#111" stroke-width="1.5" stroke-linejoin="round"/>
<path d="M1272.4 1616.8Q1144.9 1732.5 971.6 1709.4A174.9 169.0 0 0 0 970.0 1731.5Q1144.9 1732.5 1279.7 1624.7A174.9 169.0 0 0 0 1272.4 1616.8Z" fill="#7ccbb5" stroke="#111" stroke-width="1.5" stroke-linejoin="round"/>
<path d="M1279.7 1624.7Q1144.9 1732.5 970.0 1733.5A174.9 169.0 0 0 0 970.4 1744.6Q1144.9 1732.5 1286.4 1633.1A174.9 169.0 0 0 0 1279.7 1624.7Z" fill="#7ccbb5" stroke="#111" stroke-width="1.5" stroke-linejoin="round"/>
<path d="M1286.4 1633.1Q1144.9 1732.5 971.9 1757.6A174.9 169.0 0 0 0 974.0 1768.4Q1144.9 1732.5 1292.6 1641.9A174.9 169.0 0 0 0 1286.4 1633.1Z" fill="#7ccbb5" stroke="#111" stroke-width="1.5" stroke-linejoin="round"/>
<path d="M1292.6 1641.9Q1144.9 1732.5 1044.7 1593.9A174.9 169.0 0 0 0 1040.1 1597.2Q1144.9 1732.5 1298.2 1651.1A174.9 169.0 0 0 0 1292.6 1641.9Z" fill="#adf5b6" stroke="#111" stroke-width="1.5" stroke-linejoin="round"/>
<path d="M1298.2 1651.1Q1144.9 1732.5 1026.7 1607.9A174.9 169.0 0 0 0 1024.0 1610.4Q1144.9 1732.5 1303.2 1660.5A174.9 169.0 0 0 0 1298.2 1651.1Z" fill="#adf5b6" stroke="#111" stroke-width="1.5" stroke-linejoin="round"/>
<path d="M1303.2 1660.5Q1144.9 1732.5 991.4 1651.5A174.9 169.0 0 0 0 988.7 1656.4Q1144.9 1732.5 1307.5 1670.3A174.9 169.0 0 0 0 1303.2 1660.5Z" fill="#adf5b6" stroke="#111" stroke-width="1.5" stroke-linejoin="round"/>
<path d="M1307.5 1670.3Q1144.9 1732.5 977.4 1781.1A174.9 169.0 0 0 0 985.4 1801.8Q1144.9 1732.5 1311.2 1680.3A174.9 169.0 0 0 0 1307.5 1670.3Z" fill="#adf5b6" stroke="#111" stroke-width="1.5" stroke-linejoin="round"/>
<path d="M1311.2 1680.3Q1144.9 1732.5 986.2 1803.6A174.9 169.0 0 0 0 991.4 1813.5Q1144.9 1732.5 1314.3 1690.5A174.9 169.0 0 0 0 1311.2 1680.3Z" fill="#adf5b6" stroke="#111" stroke-width="1.5" stroke-linejoin="round"/>
<path d="M1314.3 1690.5Q1144.9 1732.5 998.3 1824.7A174.9 169.0 0 0 0 1012.0 1842.4Q1144.9 1732.5 1316.7 1700.8A174.9 169.0 0 0 0 1314.3 1690.5Z" fill="#adf5b6" stroke="#111" stroke-width="1.5" stroke-linejoin="round"/>
<path d="M1316.7 1700.8Q1144.9 1732.5 988.7 1656.4A174.9 169.0 0 0 0 986.2 1661.4Q1144.9 1732.5 1318.4 1711.3A174.9 169.0 0 0 0 1316.7 1700.8Z" fill="#dbe29a" stroke="#111" stroke-width="1.5" stroke-linejoin="round"/>
<path d="M1318.4 1711.3Q1144.9 1732.5 974.8 1693.0A174.9 169.0 0 0 0 973.2 1700.2Q1144.9 1732.5 1319.5 1721.9A174.9 169.0 0 0 0 1318.4 1711.3Z" fill="#dbe29a" stroke="#111" stroke-width="1.5" stroke-linejoin="round"/>
<path d="M1319.5 1721.9Q1144.9 1732.5 970.4 1744.6A174.9 169.0 0 0 0 971.6 1755.6Q1144.9 1732.5 1319.8 1732.5A174.9 169.0 0 0 0 1319.5 1721.9Z" fill="#dbe29a" stroke="#111" stroke-width="1.5" stroke-linejoin="round"/>
<path d="M1319.8 1732.5Q1144.9 1732.5 974.0 1768.4A174.9 169.0 0 0 0 976.8 1779.2Q1144.9 1732.5 1319.5 1743.1A174.9 169.0 0 0 0 1319.8 1732.5Z" fill="#dbe29a" stroke="#111" stroke-width="1.5" stroke-linejoin="round"/>
<path d="M1319.5 1743.1Q1144.9 1732.5 1128.6 1564.2A174.9 169.0 0 0 0 1121.0 1565.0Q1144.9 1732.5 1318.4 1753.7A174.9 169.0 0 0 0 1319.5 1743.1Z" fill="#f2ca80" stroke="#111" stroke-width="1.5" stroke-linejoin="round"/>
<path d="M1318.4 1753.7Q1144.9 1732.5 1110.0 1566.9A174.9 169.0 0 0 0 1105.5 1567.8Q1144.9 1732.5 1316.7 1764.2A174.9 169.0 0 0 0 1318.4 1753.7Z" fill="#f2ca80" stroke="#111" stroke-width="1.5" stroke-linejoin="round"/>
<path d="M1316.7 1764.2Q1144.9 1732.5 1083.8 1574.1A174.9 169.0 0 0 0 1073.2 1578.3Q1144.9 1732.5 1314.3 1774.5A174.9 169.0 0 0 0 1316.7 1764.2Z" fill="#f2ca80" stroke="#111" stroke-width="1.5" stroke-linejoin="round"/>
<path d="M1314.3 1774.5Q1144.9 1732.5 1064.4 1582.4A174.9 169.0 0 0 0 1057.8 1585.9Q1144.9 1732.5 1311.2 1784.7A174.9 169.0 0 0 0 1314.3 1774.5Z" fill="#f2ca80" stroke="#111" stroke-width="1.5" stroke-linejoin="round"/>
<path d="M1311.2 1784.7Q1144.9 1732.5 1040.1 1597.2A174.9 169.0 0 0 0 1035.6 1600.6Q1144.9 1732.5 1307.5 1794.7A174.9 169.0 0 0 0 1311.2 1784.7Z" fill="#f2ca80" stroke="#111" stroke-width="1.5" stroke-linejoin="round"/>
<path d="M1307.5 1794.7Q1144.9 1732.5 1024.0 1610.4A174.9 169.0 0 0 0 1021.2 1613.0Q1144.9 1732.5 1303.2 1804.5A174.9 169.0 0 0 0 1307.5 1794.7Z" fill="#f2ca80" stroke="#111" stroke-width="1.5" stroke-linejoin="round"/>
<path d="M1303.2 1804.5Q1144.9 1732.5 1105.5 1567.8A174.9 169.0 0 0 0 1101.0 1568.9Q1144.9 1732.5 1298.2 1813.9A174.9 169.0 0 0 0 1303.2 1804.5Z" fill="#ee9b60" stroke="#111" stroke-width="1.5" stroke-linejoin="round"/>
<path d="M1298.2 1813.9Q1144.9 1732.5 1021.2 1613.0A174.9 169.0 0 0 0 1018.6 1615.6Q1144.9 1732.5 1292.6 1823.1A174.9 169.0 0 0 0 1298.2 1813.9Z" fill="#ee9b60" stroke="#111" stroke-width="1.5" stroke-linejoin="round"/>
<path d="M1292.6 1823.1Q1144.9 1732.5 982.4 1670.0A174.9 169.0 0 0 0 979.7 1676.9Q1144.9 1732.5 1286.4 1831.9A174.9 169.0 0 0 0 1292.6 1823.1Z" fill="#ee9b60" stroke="#111" stroke-width="1.5" stroke-linejoin="round"/>
<path d="M1286.4 1831.9Q1144.9 1732.5 1013.4 1844.0A174.9 169.0 0 0 0 1029.6 1859.6Q1144.9 1732.5 1279.7 1840.3A174.9 169.0 0 0 0 1286.4 1831.9Z" fill="#ee9b60" stroke="#111" stroke-width="1.5" stroke-linejoin="round"/>
<path d="M1279.7 1840.3Q1144.9 1732.5 1101.0 1568.9A174.9 169.0 0 0 0 1096.6 1570.0Q1144.9 1732.5 1272.4 1848.2A174.9 169.0 0 0 0 1279.7 1840.3Z" fill="#e5654d" stroke="#111" stroke-width="1.5" stroke-linejoin="round"/>
<path d="M1272.4 1848.2Q1144.9 1732.5 1057.8 1585.9A174.9 169.0 0 0 0 1051.2 1589.7Q1144.9 1732.5 1264.6 1855.7A174.9 169.0 0 0 0 1272.4 1848.2Z" fill="#e5654d" stroke="#111" stroke-width="1.5" stroke-linejoin="round"/>
<path d="M1264.6 1855.7Q1144.9 1732.5 1035.6 1600.6A174.9 169.0 0 0 0 1031.2 1604.1Q1144.9 1732.5 1256.4 1862.7A174.9 169.0 0 0 0 1264.6 1855.7Z" fill="#e5654d" stroke="#111" stroke-width="1.5" stroke-linejoin="round"/>
<path d="M1256.4 1862.7Q1144.9 1732.5 1018.6 1615.6A174.9 169.0 0 0 0 1016.0 1618.3Q1144.9 1732.5 1247.7 1869.3A174.9 169.0 0 0 0 1256.4 1862.7Z" fill="#e5654d" stroke="#111" stroke-width="1.5" stroke-linejoin="round"/>
<path d="M1247.7 1869.3Q1144.9 1732.5 991.4 1813.5A174.9 169.0 0 0 0 997.2 1823.0Q1144.9 1732.5 1238.6 1875.2A174.9 169.0 0 0 0 1247.7 1869.3Z" fill="#e5654d" stroke="#111" stroke-width="1.5" stroke-linejoin="round"/>
<path d="M1238.6 1875.2Q1144.9 1732.5 1031.2 1860.9A174.9 169.0 0 0 0 1049.5 1874.2Q1144.9 1732.5 1229.2 1880.6A174.9 169.0 0 0 0 1238.6 1875.2Z" fill="#e5654d" stroke="#111" stroke-width="1.5" stroke-linejoin="round"/>
<path d="M1229.2 1880.6Q1144.9 1732.5 979.7 1676.9A174.9 169.0 0 0 0 977.4 1683.9Q1144.9 1732.5 1219.4 1885.5A174.9 169.0 0 0 0 1229.2 1880.6Z" fill="#c53b55" stroke="#111" stroke-width="1.5" stroke-linejoin="round"/>
<path d="M1219.4 1885.5Q1144.9 1732.5 1051.2 1875.3A174.9 169.0 0 0 0 1071.3 1885.8Q1144.9 1732.5 1209.3 1889.7A174.9 169.0 0 0 0 1219.4 1885.5Z" fill="#c53b55" stroke="#111" stroke-width="1.5" stroke-linejoin="round"/>
<path d="M1209.3 1889.7Q1144.9 1732.5 1073.2 1886.7A174.9 169.0 0 0 0 1094.6 1894.4Q1144.9 1732.5 1198.9 1893.3A174.9 169.0 0 0 0 1209.3 1889.7Z" fill="#c53b55" stroke="#111" stroke-width="1.5" stroke-linejoin="round"/>
<path d="M1198.9 1893.3Q1144.9 1732.5 1096.6 1895.0A174.9 169.0 0 0 0 1119.0 1899.7Q1144.9 1732.5 1188.4 1896.2A174.9 169.0 0 0 0 1198.9 1893.3Z" fill="#c53b55" stroke="#111" stroke-width="1.5" stroke-linejoin="round"/>
<path d="M1188.4 1896.2Q1144.9 1732.5 1016.0 1618.3A174.9 169.0 0 0 0 1013.4 1621.0Q1144.9 1732.5 1177.7 1898.5A174.9 169.0 0 0 0 1188.4 1896.2Z" fill="#8c2548" stroke="#111" stroke-width="1.5" stroke-linejoin="round"/>
<path d="M1177.7 1898.5Q1144.9 1732.5 1004.9 1631.2A174.9 169.0 0 0 0 998.3 1640.3Q1144.9 1732.5 1166.8 1900.2A174.9 169.0 0 0 0 1177.7 1898.5Z" fill="#8c2548" stroke="#111" stroke-width="1.5" stroke-linejoin="round"/>
<path d="M1166.8 1900.2Q1144.9 1732.5 973.2 1700.2A174.9 169.0 0 0 0 971.9 1707.4Q1144.9 1732.5 1155.9 1901.2A174.9 169.0 0 0 0 1166.8 1900.2Z" fill="#8c2548" stroke="#111" stroke-width="1.5" stroke-linejoin="round"/>
<path d="M1155.9 1901.2Q1144.9 1732.5 1121.0 1900.0A174.9 169.0 0 0 0 1143.9 1901.5Q1144.9 1732.5 1144.9 1901.5A174.9 169.0 0 0 0 1155.9 1901.2Z" fill="#8c2548" stroke="#111" stroke-width="1.5" stroke-linejoin="round"/>
<path d="M1144.9 1563.5L1150.0 1563.5L1155.0 1563.7L1160.1 1564.1L1165.1 1564.6L1170.2 1565.2L1175.2 1566.0L1180.2 1566.9L1185.1 1568.0L1190.0 1569.2L1194.9 1570.5L1199.8 1572.0L1204.5 1573.6L1209.3 1575.3L1215.7 1559.6L1210.5 1557.7L1205.2 1555.9L1199.9 1554.3L1194.5 1552.9L1189.1 1551.5L1183.7 1550.4L1178.2 1549.4L1172.7 1548.5L1167.2 1547.8L1161.6 1547.3L1156.1 1546.9L1150.5 1546.6L1144.9 1546.6Z" fill="#846fb2" stroke="#111" stroke-width="1.5" stroke-linejoin="round"/>
<path d="M1209.3 1575.3L1213.8 1577.1L1218.3 1579.0L1222.7 1581.1L1227.0 1583.2L1231.3 1585.5L1235.5 1587.9L1239.6 1590.4L1243.7 1593.0L1247.7 1595.7L1258.0 1582.1L1253.6 1579.1L1249.1 1576.2L1244.6 1573.4L1239.9 1570.8L1235.2 1568.3L1230.4 1565.9L1225.6 1563.7L1220.7 1561.6L1215.7 1559.6Z" fill="#738fb4" stroke="#111" stroke-width="1.5" stroke-linejoin="round"/>
<path d="M1247.7 1595.7L1251.8 1598.7L1255.7 1601.7L1259.6 1604.9L1263.4 1608.2L1267.1 1611.5L1270.6 1615.0L1274.1 1618.6L1277.5 1622.3L1280.7 1626.0L1283.9 1629.9L1286.9 1633.8L1289.8 1637.8L1292.6 1641.9L1307.3 1632.9L1304.3 1628.4L1301.1 1623.9L1297.8 1619.6L1294.3 1615.4L1290.7 1611.2L1287.0 1607.2L1283.2 1603.3L1279.3 1599.4L1275.2 1595.7L1271.1 1592.1L1266.8 1588.7L1262.4 1585.3L1258.0 1582.1Z" fill="#8fb9b2" stroke="#111" stroke-width="1.5" stroke-linejoin="round"/>
<path d="M1292.6 1641.9L1295.2 1646.1L1297.8 1650.3L1300.2 1654.7L1302.4 1659.1L1304.6 1663.5L1306.6 1668.0L1308.4 1672.6L1310.2 1677.2L1311.8 1681.8L1313.2 1686.5L1314.5 1691.3L1315.7 1696.0L1316.7 1700.8L1333.9 1697.7L1332.8 1692.4L1331.5 1687.1L1330.0 1681.9L1328.4 1676.8L1326.7 1671.6L1324.8 1666.6L1322.7 1661.5L1320.5 1656.6L1318.2 1651.7L1315.7 1646.9L1313.0 1642.1L1310.3 1637.5L1307.3 1632.9Z" fill="#acd3b3" stroke="#111" stroke-width="1.5" stroke-linejoin="round"/>
<path d="M1316.7 1700.8L1317.6 1705.5L1318.3 1710.1L1318.8 1714.8L1319.3 1719.5L1319.6 1724.2L1319.8 1729.0L1319.8 1733.7L1319.7 1738.4L1319.5 1743.1L1336.9 1744.2L1337.2 1739.0L1337.3 1733.8L1337.2 1728.6L1337.1 1723.4L1336.7 1718.2L1336.2 1713.1L1335.6 1707.9L1334.8 1702.8L1333.9 1697.7Z" fill="#c8c7a2" stroke="#111" stroke-width="1.5" stroke-linejoin="round"/>
<path d="M1319.5 1743.1L1319.1 1748.0L1318.5 1752.9L1317.8 1757.7L1317.0 1762.6L1316.0 1767.4L1314.9 1772.2L1313.7 1776.9L1312.3 1781.6L1310.7 1786.3L1309.0 1790.9L1307.2 1795.5L1305.2 1800.0L1303.2 1804.5L1319.0 1811.7L1321.3 1806.8L1323.4 1801.8L1325.4 1796.8L1327.3 1791.7L1329.0 1786.5L1330.5 1781.3L1331.9 1776.1L1333.2 1770.9L1334.2 1765.6L1335.1 1760.3L1335.9 1754.9L1336.5 1749.6L1336.9 1744.2Z" fill="#d6b992" stroke="#111" stroke-width="1.5" stroke-linejoin="round"/>
<path d="M1303.2 1804.5L1301.0 1808.7L1298.8 1812.9L1296.4 1817.0L1293.9 1821.1L1291.3 1825.1L1288.5 1829.0L1285.7 1832.8L1282.7 1836.6L1279.7 1840.3L1293.1 1851.0L1296.5 1847.0L1299.8 1842.8L1302.9 1838.6L1305.9 1834.3L1308.8 1829.9L1311.5 1825.5L1314.1 1820.9L1316.6 1816.3L1319.0 1811.7Z" fill="#d39d7f" stroke="#111" stroke-width="1.5" stroke-linejoin="round"/>
<path d="M1279.7 1840.3L1276.4 1844.0L1273.0 1847.6L1269.5 1851.2L1265.9 1854.6L1262.1 1857.9L1258.3 1861.2L1254.4 1864.3L1250.4 1867.3L1246.3 1870.2L1242.2 1873.0L1237.9 1875.7L1233.6 1878.2L1229.2 1880.6L1237.6 1895.4L1242.4 1892.8L1247.2 1890.0L1251.9 1887.0L1256.5 1884.0L1261.0 1880.8L1265.4 1877.5L1269.7 1874.0L1273.9 1870.5L1277.9 1866.8L1281.9 1863.0L1285.8 1859.1L1289.5 1855.1L1293.1 1851.0Z" fill="#ce7c74" stroke="#111" stroke-width="1.5" stroke-linejoin="round"/>
<path d="M1229.2 1880.6L1224.8 1882.8L1220.5 1884.9L1216.0 1886.9L1211.5 1888.8L1207.0 1890.5L1202.4 1892.1L1197.8 1893.6L1193.1 1895.0L1188.4 1896.2L1192.7 1912.6L1197.9 1911.2L1203.1 1909.7L1208.2 1908.1L1213.2 1906.3L1218.2 1904.4L1223.2 1902.4L1228.0 1900.2L1232.8 1897.9L1237.6 1895.4Z" fill="#bb6379" stroke="#111" stroke-width="1.5" stroke-linejoin="round"/>
<path d="M1188.4 1896.2L1183.6 1897.3L1178.9 1898.3L1174.1 1899.2L1169.2 1899.9L1164.4 1900.5L1159.5 1900.9L1154.7 1901.3L1149.8 1901.5L1144.9 1901.5L1144.9 1918.4L1150.3 1918.4L1155.6 1918.2L1161.0 1917.8L1166.3 1917.3L1171.7 1916.6L1177.0 1915.8L1182.3 1914.9L1187.5 1913.8L1192.7 1912.6Z" fill="#9a4573" stroke="#111" stroke-width="1.5" stroke-linejoin="round"/>
<path d="M1143.8 1555.0L1139.0 1555.1L1134.2 1555.3L1129.4 1555.6L1124.6 1556.1L1119.9 1556.7L1118.7 1548.3L1123.7 1547.7L1128.7 1547.2L1133.7 1546.9L1138.7 1546.7L1143.7 1546.6Z" fill="#c9c9cc" stroke="#222" stroke-width="1.2" stroke-linejoin="round"/>
<text x="1129.2" y="1519.8" font-size="13.4" text-anchor="middle" dominant-baseline="central" transform="rotate(85.8 1129.2 1519.8)">ATF3</text>
<path d="M1117.7 1557.0L1112.9 1557.7L1108.2 1558.6L1103.5 1559.6L1098.9 1560.7L1094.2 1561.9L1091.8 1553.8L1096.7 1552.5L1101.5 1551.3L1106.5 1550.3L1111.4 1549.4L1116.4 1548.6Z" fill="#c9c9cc" stroke="#222" stroke-width="1.2" stroke-linejoin="round"/>
<text x="1097.7" y="1522.6" font-size="13.4" text-anchor="middle" dominant-baseline="central" transform="rotate(77.3 1097.7 1522.6)">CSF1R</text>
<path d="M1092.1 1562.5L1087.5 1563.9L1083.0 1565.4L1078.5 1567.0L1074.0 1568.8L1069.6 1570.6L1066.0 1562.9L1070.6 1561.0L1075.3 1559.1L1080.0 1557.4L1084.8 1555.9L1089.6 1554.4Z" fill="#c9c9cc" stroke="#222" stroke-width="1.2" stroke-linejoin="round"/>
<text x="1067.9" y="1533.0" font-size="13.4" text-anchor="middle" dominant-baseline="central" transform="rotate(68.9 1067.9 1533.0)">FGG</text>
<path d="M1067.6 1571.5L1063.3 1573.5L1059.0 1575.6L1054.8 1577.8L1050.6 1580.2L1046.5 1582.6L1041.9 1575.5L1046.1 1572.9L1050.5 1570.5L1054.9 1568.1L1059.4 1565.9L1063.9 1563.8Z" fill="#c9c9cc" stroke="#222" stroke-width="1.2" stroke-linejoin="round"/>
<text x="1039.5" y="1546.0" font-size="13.4" text-anchor="middle" dominant-baseline="central" transform="rotate(60.5 1039.5 1546.0)">FN1</text>
<path d="M1044.7 1583.8L1040.7 1586.3L1036.8 1589.0L1032.9 1591.8L1029.2 1594.7L1025.5 1597.7L1019.8 1591.2L1023.7 1588.1L1027.6 1585.1L1031.6 1582.2L1035.7 1579.4L1039.9 1576.7Z" fill="#c9c9cc" stroke="#222" stroke-width="1.2" stroke-linejoin="round"/>
<text x="1012.2" y="1561.1" font-size="13.4" text-anchor="middle" dominant-baseline="central" transform="rotate(52.2 1012.2 1561.1)">TNIP1</text>
<path d="M1023.8 1599.1L1020.2 1602.2L1016.8 1605.4L1013.4 1608.6L1010.0 1612.0L1006.8 1615.5L1000.3 1609.9L1003.6 1606.3L1007.1 1602.7L1010.7 1599.3L1014.3 1596.0L1018.0 1592.7Z" fill="#c9c9cc" stroke="#222" stroke-width="1.2" stroke-linejoin="round"/>
<text x="987.6" y="1580.5" font-size="13.4" text-anchor="middle" dominant-baseline="central" transform="rotate(44.0 987.6 1580.5)">TREM2</text>
<path d="M1005.4 1617.1L1002.3 1620.6L999.3 1624.3L996.5 1628.0L993.7 1631.8L991.0 1635.6L983.7 1631.0L986.5 1627.0L989.4 1623.0L992.4 1619.1L995.5 1615.3L998.7 1611.6Z" fill="#c9c9cc" stroke="#222" stroke-width="1.2" stroke-linejoin="round"/>
<text x="968.0" y="1604.5" font-size="13.4" text-anchor="middle" dominant-baseline="central" transform="rotate(35.9 968.0 1604.5)">CST3</text>
<path d="M989.8 1637.4L987.3 1641.4L984.9 1645.4L982.6 1649.5L980.4 1653.6L978.3 1657.8L970.4 1654.2L972.6 1649.9L974.9 1645.5L977.3 1641.3L979.8 1637.1L982.4 1632.9Z" fill="#c9c9cc" stroke="#222" stroke-width="1.2" stroke-linejoin="round"/>
<text x="950.9" y="1630.1" font-size="13.4" text-anchor="middle" dominant-baseline="central" transform="rotate(27.8 950.9 1630.1)">SPP1</text>
<path d="M977.4 1659.7L975.5 1664.0L973.7 1668.3L972.0 1672.7L970.4 1677.0L969.0 1681.5L960.6 1679.0L962.1 1674.4L963.8 1669.8L965.5 1665.2L967.4 1660.7L969.4 1656.3Z" fill="#c9c9cc" stroke="#222" stroke-width="1.2" stroke-linejoin="round"/>
<text x="940.0" y="1658.6" font-size="13.4" text-anchor="middle" dominant-baseline="central" transform="rotate(19.8 940.0 1658.6)">TF</text>
<path d="M968.4 1683.5L967.1 1688.0L966.0 1692.5L965.0 1697.0L964.1 1701.6L963.3 1706.2L954.6 1704.9L955.4 1700.1L956.4 1695.4L957.5 1690.6L958.7 1685.9L960.0 1681.2Z" fill="#c9c9cc" stroke="#222" stroke-width="1.2" stroke-linejoin="round"/>
<text x="927.4" y="1686.8" font-size="13.4" text-anchor="middle" dominant-baseline="central" transform="rotate(11.9 927.4 1686.8)">ACACB</text>
<path d="M963.0 1708.3L962.4 1712.9L961.9 1717.5L961.6 1722.2L961.3 1726.8L961.3 1731.4L952.5 1731.4L952.6 1726.5L952.8 1721.7L953.2 1716.8L953.7 1712.0L954.3 1707.1Z" fill="#c9c9cc" stroke="#222" stroke-width="1.2" stroke-linejoin="round"/>
<text x="925.6" y="1717.3" font-size="13.4" text-anchor="middle" dominant-baseline="central" transform="rotate(4.0 925.6 1717.3)">ALB</text>
<path d="M961.3 1733.6L961.3 1738.2L961.6 1742.8L961.9 1747.5L962.4 1752.1L963.0 1756.7L954.3 1757.9L953.7 1753.0L953.2 1748.2L952.8 1743.3L952.6 1738.5L952.5 1733.6Z" fill="#c9c9cc" stroke="#222" stroke-width="1.2" stroke-linejoin="round"/>
<text x="922.7" y="1747.9" font-size="13.4" text-anchor="middle" dominant-baseline="central" transform="rotate(-4.0 922.7 1747.9)">IGFBP2</text>
<path d="M963.3 1758.8L964.1 1763.4L965.0 1768.0L966.0 1772.5L967.1 1777.0L968.4 1781.5L960.0 1783.8L958.7 1779.1L957.5 1774.4L956.4 1769.6L955.4 1764.9L954.6 1760.1Z" fill="#c9c9cc" stroke="#222" stroke-width="1.2" stroke-linejoin="round"/>
<text x="929.4" y="1777.8" font-size="13.4" text-anchor="middle" dominant-baseline="central" transform="rotate(-11.9 929.4 1777.8)">LIPG</text>
<path d="M969.0 1783.5L970.4 1788.0L972.0 1792.3L973.7 1796.7L975.5 1801.0L977.4 1805.3L969.4 1808.7L967.4 1804.3L965.5 1799.8L963.8 1795.2L962.1 1790.6L960.6 1786.0Z" fill="#c9c9cc" stroke="#222" stroke-width="1.2" stroke-linejoin="round"/>
<text x="935.3" y="1808.1" font-size="13.4" text-anchor="middle" dominant-baseline="central" transform="rotate(-19.8 935.3 1808.1)">ZFP36L1</text>
<path d="M978.3 1807.2L980.4 1811.4L982.6 1815.5L984.9 1819.6L987.3 1823.6L989.8 1827.6L982.4 1832.1L979.8 1827.9L977.3 1823.7L974.9 1819.5L972.6 1815.1L970.4 1810.8Z" fill="#c9c9cc" stroke="#222" stroke-width="1.2" stroke-linejoin="round"/>
<text x="949.3" y="1835.7" font-size="13.4" text-anchor="middle" dominant-baseline="central" transform="rotate(-27.8 949.3 1835.7)">NFKBIB</text>
<path d="M991.0 1829.4L993.7 1833.2L996.5 1837.0L999.3 1840.7L1002.3 1844.4L1005.4 1847.9L998.7 1853.4L995.5 1849.7L992.4 1845.9L989.4 1842.0L986.5 1838.0L983.7 1834.0Z" fill="#c9c9cc" stroke="#222" stroke-width="1.2" stroke-linejoin="round"/>
<text x="966.5" y="1861.6" font-size="13.4" text-anchor="middle" dominant-baseline="central" transform="rotate(-35.9 966.5 1861.6)">ZNF703</text>
<path d="M1006.8 1849.5L1010.0 1853.0L1013.4 1856.4L1016.8 1859.6L1020.2 1862.8L1023.8 1865.9L1018.0 1872.3L1014.3 1869.0L1010.7 1865.7L1007.1 1862.3L1003.6 1858.7L1000.3 1855.1Z" fill="#c9c9cc" stroke="#222" stroke-width="1.2" stroke-linejoin="round"/>
<text x="989.2" y="1883.0" font-size="13.4" text-anchor="middle" dominant-baseline="central" transform="rotate(-44.0 989.2 1883.0)">MAF</text>
<path d="M1025.5 1867.3L1029.2 1870.3L1032.9 1873.2L1036.8 1876.0L1040.7 1878.7L1044.7 1881.2L1039.9 1888.3L1035.7 1885.6L1031.6 1882.8L1027.6 1879.9L1023.7 1876.9L1019.8 1873.8Z" fill="#c9c9cc" stroke="#222" stroke-width="1.2" stroke-linejoin="round"/>
<text x="1011.7" y="1904.5" font-size="13.4" text-anchor="middle" dominant-baseline="central" transform="rotate(-52.2 1011.7 1904.5)">DPEP2</text>
<path d="M1046.5 1882.4L1050.6 1884.8L1054.8 1887.2L1059.0 1889.4L1063.3 1891.5L1067.6 1893.5L1063.9 1901.2L1059.4 1899.1L1054.9 1896.9L1050.5 1894.5L1046.1 1892.1L1041.9 1889.5Z" fill="#c9c9cc" stroke="#222" stroke-width="1.2" stroke-linejoin="round"/>
<text x="1037.9" y="1921.9" font-size="13.4" text-anchor="middle" dominant-baseline="central" transform="rotate(-60.5 1037.9 1921.9)">SERF1A</text>
<path d="M1069.6 1894.4L1074.0 1896.2L1078.5 1898.0L1083.0 1899.6L1087.5 1901.1L1092.1 1902.5L1089.6 1910.6L1084.8 1909.1L1080.0 1907.6L1075.3 1905.9L1070.6 1904.0L1066.0 1902.1Z" fill="#c9c9cc" stroke="#222" stroke-width="1.2" stroke-linejoin="round"/>
<text x="1066.6" y="1935.4" font-size="13.4" text-anchor="middle" dominant-baseline="central" transform="rotate(-68.9 1066.6 1935.4)">B4GALT5</text>
<path d="M1094.2 1903.1L1098.9 1904.3L1103.5 1905.4L1108.2 1906.4L1112.9 1907.3L1117.7 1908.0L1116.4 1916.4L1111.4 1915.6L1106.5 1914.7L1101.5 1913.7L1096.7 1912.5L1091.8 1911.2Z" fill="#c9c9cc" stroke="#222" stroke-width="1.2" stroke-linejoin="round"/>
<text x="1097.9" y="1941.3" font-size="13.4" text-anchor="middle" dominant-baseline="central" transform="rotate(-77.3 1097.9 1941.3)">APTX</text>
<path d="M1119.9 1908.3L1124.6 1908.9L1129.4 1909.4L1134.2 1909.7L1139.0 1909.9L1143.8 1910.0L1143.7 1918.4L1138.7 1918.3L1133.7 1918.1L1128.7 1917.8L1123.7 1917.3L1118.7 1916.7Z" fill="#c9c9cc" stroke="#222" stroke-width="1.2" stroke-linejoin="round"/>
<text x="1129.1" y="1945.7" font-size="13.4" text-anchor="middle" dominant-baseline="central" transform="rotate(-85.8 1129.1 1945.7)">MCL1</text>
<text x="1352.6" y="1564.1" font-size="26.4">Category</text>
<rect x="1352.0" y="1584.4" width="22.8" height="22.8" fill="#f0f0f0"/>
<rect x="1355.8" y="1588.2" width="15.2" height="15.2" fill="#6a4fb5" stroke="#333" stroke-width="1.2"/>
<text x="1386.5" y="1603.3" font-size="26.5">regulation of ERK1 and ERK2 cascade</text>
<rect x="1352.0" y="1618.0" width="22.8" height="22.8" fill="#f0f0f0"/>
<rect x="1355.8" y="1621.8" width="15.2" height="15.2" fill="#4d84b8" stroke="#333" stroke-width="1.2"/>
<text x="1386.5" y="1636.9" font-size="26.5">regulation of tissue remodeling</text>
<rect x="1352.0" y="1651.6" width="22.8" height="22.8" fill="#f0f0f0"/>
<rect x="1355.8" y="1655.4" width="15.2" height="15.2" fill="#7ccbb5" stroke="#333" stroke-width="1.2"/>
<text x="1386.5" y="1670.5" font-size="26.5">response to extracellular stimulus</text>
<rect x="1352.0" y="1685.2" width="22.8" height="22.8" fill="#f0f0f0"/>
<rect x="1355.8" y="1689.0" width="15.2" height="15.2" fill="#adf5b6" stroke="#333" stroke-width="1.2"/>
<text x="1386.5" y="1704.1" font-size="26.5">cellular response to lipid</text>
<rect x="1352.0" y="1718.8" width="22.8" height="22.8" fill="#f0f0f0"/>
<rect x="1355.8" y="1722.6" width="15.2" height="15.2" fill="#dbe29a" stroke="#333" stroke-width="1.2"/>
<text x="1386.5" y="1737.7" font-size="26.5">response to nutrient</text>
<rect x="1352.0" y="1752.4" width="22.8" height="22.8" fill="#f0f0f0"/>
<rect x="1355.8" y="1756.2" width="15.2" height="15.2" fill="#f2ca80" stroke="#333" stroke-width="1.2"/>
<text x="1386.5" y="1771.2" font-size="26.5">regulation of MAPK cascade</text>
<rect x="1352.0" y="1786.0" width="22.8" height="22.8" fill="#f0f0f0"/>
<rect x="1355.8" y="1789.8" width="15.2" height="15.2" fill="#ee9b60" stroke="#333" stroke-width="1.2"/>
<text x="1386.5" y="1804.8" font-size="26.5">myeloid cell differentiation</text>
<rect x="1352.0" y="1819.6" width="22.8" height="22.8" fill="#f0f0f0"/>
<rect x="1355.8" y="1823.4" width="15.2" height="15.2" fill="#e5654d" stroke="#333" stroke-width="1.2"/>
<text x="1386.5" y="1838.4" font-size="26.5">inflammatory response</text>
<rect x="1352.0" y="1853.2" width="22.8" height="22.8" fill="#f0f0f0"/>
<rect x="1355.8" y="1857.0" width="15.2" height="15.2" fill="#c53b55" stroke="#333" stroke-width="1.2"/>
<text x="1386.5" y="1872.0" font-size="26.5">regulation of protein stability</text>
<rect x="1352.0" y="1886.8" width="22.8" height="22.8" fill="#f0f0f0"/>
<rect x="1355.8" y="1890.6" width="15.2" height="15.2" fill="#8c2548" stroke="#333" stroke-width="1.2"/>
<text x="1386.5" y="1905.6" font-size="26.5">negative regulation of catabolic process</text>
</g>
<g id="panelFG">
<defs><filter id="bl1" x="-20%" y="-50%" width="140%" height="200%"><feGaussianBlur stdDeviation="1.3"/></filter><filter id="bl2" x="-20%" y="-50%" width="140%" height="200%"><feGaussianBlur stdDeviation="2.2"/></filter></defs>
<rect x="207.5" y="2178.9" width="207.3" height="32.7" fill="#bcbcbc"/>
<rect x="207.5" y="2217.0" width="207.3" height="33.7" fill="#f4f4f4"/>
<rect x="207.5" y="2256.3" width="207.3" height="31.2" fill="#b6b6b6"/>
<rect x="207.5" y="2291.5" width="207.3" height="34.2" fill="#ababab"/>
<rect x="215.0" y="2191.9" width="25.8" height="8.4" rx="3.8" fill="#0c0c0c" opacity="1" filter="url(#bl1)"/>
<rect x="248.6" y="2192.1" width="24.6" height="7.9" rx="3.6" fill="#0c0c0c" opacity="0.95" filter="url(#bl1)"/>
<rect x="283.3" y="2191.9" width="24.6" height="8.4" rx="3.8" fill="#0c0c0c" opacity="1" filter="url(#bl1)"/>
<rect x="315.7" y="2192.6" width="22.1" height="4.9" rx="2.3" fill="#555" opacity="0.55" filter="url(#bl1)"/>
<rect x="351.4" y="2192.6" width="22.1" height="4.9" rx="2.3" fill="#555" opacity="0.45" filter="url(#bl1)"/>
<rect x="386.3" y="2192.6" width="22.1" height="4.9" rx="2.3" fill="#555" opacity="0.5" filter="url(#bl1)"/>
<rect x="210.2" y="2229.8" width="29.0" height="11.3" rx="5.2" fill="#070707" opacity="1" filter="url(#bl1)"/>
<rect x="244.4" y="2227.8" width="29.5" height="11.3" rx="5.2" fill="#070707" opacity="1" filter="url(#bl1)"/>
<rect x="279.1" y="2226.8" width="29.0" height="11.3" rx="5.2" fill="#070707" opacity="1" filter="url(#bl1)"/>
<rect x="313.0" y="2227.3" width="27.5" height="11.3" rx="5.2" fill="#070707" opacity="1" filter="url(#bl1)"/>
<rect x="347.9" y="2226.1" width="29.0" height="11.3" rx="5.2" fill="#070707" opacity="1" filter="url(#bl1)"/>
<rect x="381.1" y="2226.6" width="31.5" height="11.3" rx="5.2" fill="#070707" opacity="1" filter="url(#bl1)"/>
<rect x="212.9" y="2266.6" width="24.6" height="6.4" rx="2.9" fill="#0d0d0d" opacity="1" filter="url(#bl1)"/>
<rect x="248.7" y="2265.4" width="23.4" height="6.4" rx="2.9" fill="#0d0d0d" opacity="1" filter="url(#bl1)"/>
<rect x="281.8" y="2265.9" width="24.6" height="6.4" rx="2.9" fill="#0d0d0d" opacity="1" filter="url(#bl1)"/>
<rect x="315.7" y="2267.1" width="24.6" height="6.4" rx="2.9" fill="#0d0d0d" opacity="1" filter="url(#bl1)" transform="rotate(3 328.0 2270.3)"/>
<rect x="350.8" y="2268.4" width="23.4" height="6.4" rx="2.9" fill="#0d0d0d" opacity="1" filter="url(#bl1)" transform="rotate(5 362.5 2271.6)"/>
<rect x="386.4" y="2269.6" width="23.4" height="6.4" rx="2.9" fill="#0d0d0d" opacity="1" filter="url(#bl1)" transform="rotate(-12 398.1 2272.8)"/>
<rect x="216.8" y="2304.5" width="25.8" height="8.4" rx="3.8" fill="#0a0a0a" opacity="1" filter="url(#bl1)"/>
<rect x="248.7" y="2303.8" width="25.8" height="7.4" rx="3.4" fill="#0a0a0a" opacity="1" filter="url(#bl1)"/>
<rect x="281.9" y="2303.8" width="25.8" height="7.4" rx="3.4" fill="#0a0a0a" opacity="1" filter="url(#bl1)"/>
<rect x="315.1" y="2303.0" width="25.8" height="7.4" rx="3.4" fill="#0a0a0a" opacity="1" filter="url(#bl1)"/>
<rect x="348.7" y="2302.8" width="26.6" height="7.9" rx="3.6" fill="#0a0a0a" opacity="1" filter="url(#bl1)"/>
<rect x="384.0" y="2300.8" width="23.4" height="9.3" rx="4.3" fill="#0a0a0a" opacity="1" filter="url(#bl1)"/>
<text x="197.2" y="2162.9" font-size="32" text-anchor="end">LPS</text>
<text x="197.2" y="2203.0" font-size="32" text-anchor="end">DPEP2</text>
<text x="197.2" y="2241.6" font-size="32" text-anchor="end">DPEP1</text>
<text x="197.2" y="2280.4" font-size="32" text-anchor="end">DPEP3</text>
<text x="197.2" y="2318.5" font-size="32" text-anchor="end">GAPDH</text>
<text x="227.9" y="2163.5" font-size="32" text-anchor="middle">-</text>
<text x="260.4" y="2163.5" font-size="32" text-anchor="middle">-</text>
<text x="291.1" y="2163.5" font-size="32" text-anchor="middle">-</text>
<text x="326.8" y="2164.5" font-size="30" text-anchor="middle">+</text>
<text x="361.2" y="2164.5" font-size="30" text-anchor="middle">+</text>
<text x="393.9" y="2164.5" font-size="30" text-anchor="middle">+</text>
<line x1="414.5" y1="2202.7" x2="426.6" y2="2202.7" stroke="#000" stroke-width="2.2"/>
<text x="428.0" y="2207.1" font-size="19">45</text>
<line x1="414.5" y1="2234.2" x2="426.6" y2="2234.2" stroke="#000" stroke-width="2.2"/>
<text x="428.0" y="2237.9" font-size="19">45</text>
<line x1="414.5" y1="2278.2" x2="426.6" y2="2278.2" stroke="#000" stroke-width="2.2"/>
<text x="428.0" y="2286.0" font-size="19">75</text>
<line x1="414.5" y1="2305.0" x2="426.6" y2="2305.0" stroke="#000" stroke-width="2.2"/>
<text x="428.0" y="2313.6" font-size="19">35</text>
<text x="305.0" y="2356.6" font-size="29.2" text-anchor="middle">BMDMs</text>
<rect x="639.1" y="2177.0" width="153.9" height="42.2" fill="#f1f1f1"/>
<rect x="639.1" y="2225.5" width="153.9" height="33.1" fill="#ececec"/>
<rect x="639.1" y="2262.2" width="153.9" height="34.4" fill="#efefef"/>
<rect x="639.1" y="2301.8" width="153.9" height="33.7" fill="#f0f0f0"/>
<rect x="647.0" y="2196.4" width="26.3" height="11.8" rx="5.4" fill="#080808" opacity="1" filter="url(#bl1)"/>
<rect x="682.1" y="2195.8" width="32.0" height="13.1" rx="6.0" fill="#060606" opacity="1" filter="url(#bl1)"/>
<rect x="726.4" y="2193.3" width="23.6" height="10.5" rx="4.8" fill="#444" opacity="0.75" filter="url(#bl2)"/>
<rect x="762.4" y="2196.0" width="23.2" height="9.3" rx="4.3" fill="#888" opacity="0.55" filter="url(#bl2)"/>
<rect x="728.7" y="2178.5" width="19.0" height="10.5" rx="4.8" fill="#aaa" opacity="0.35" filter="url(#bl2)"/>
<rect x="643.1" y="2238.8" width="27.8" height="5.9" rx="2.7" fill="#151515" opacity="1" filter="url(#bl1)"/>
<rect x="680.6" y="2239.2" width="28.7" height="6.3" rx="2.9" fill="#151515" opacity="1" filter="url(#bl1)"/>
<rect x="718.2" y="2240.3" width="27.4" height="6.3" rx="2.9" fill="#151515" opacity="1" filter="url(#bl1)"/>
<rect x="756.1" y="2240.2" width="29.5" height="5.3" rx="2.4" fill="#151515" opacity="1" filter="url(#bl1)"/>
<rect x="641.8" y="2272.7" width="34.8" height="9.7" rx="4.5" fill="#080808" opacity="1" filter="url(#bl1)"/>
<rect x="680.8" y="2274.2" width="32.7" height="8.9" rx="4.1" fill="#080808" opacity="1" filter="url(#bl1)"/>
<rect x="715.5" y="2274.2" width="32.7" height="8.9" rx="4.1" fill="#080808" opacity="1" filter="url(#bl1)"/>
<rect x="751.1" y="2272.9" width="35.4" height="10.1" rx="4.7" fill="#080808" opacity="1" filter="url(#bl1)"/>
<rect x="642.7" y="2313.2" width="26.6" height="8.9" rx="4.1" fill="#080808" opacity="1" filter="url(#bl1)"/>
<rect x="680.6" y="2314.3" width="26.6" height="8.9" rx="4.1" fill="#080808" opacity="1" filter="url(#bl1)"/>
<rect x="719.2" y="2315.5" width="25.3" height="8.4" rx="3.9" fill="#080808" opacity="1" filter="url(#bl1)"/>
<rect x="754.8" y="2310.0" width="29.9" height="13.1" rx="6.0" fill="#080808" opacity="1" filter="url(#bl1)"/>
<text x="634.5" y="2169.0" font-size="32.2" text-anchor="end">LPS</text>
<text x="634.5" y="2212.2" font-size="32.2" text-anchor="end">DPEP2</text>
<text x="634.5" y="2250.8" font-size="32.2" text-anchor="end">DPEP1</text>
<text x="634.5" y="2290.9" font-size="32.2" text-anchor="end">DPEP3</text>
<text x="634.5" y="2328.2" font-size="32.2" text-anchor="end">GAPDH</text>
<text x="659.1" y="2169.5" font-size="32" text-anchor="middle">-</text>
<text x="697.5" y="2169.5" font-size="32" text-anchor="middle">-</text>
<text x="736.5" y="2170.5" font-size="30" text-anchor="middle">+</text>
<text x="772.6" y="2170.5" font-size="30" text-anchor="middle">+</text>
<line x1="793.4" y1="2206.5" x2="805.9" y2="2206.5" stroke="#000" stroke-width="2.2"/>
<text x="806.7" y="2210.8" font-size="19">45</text>
<line x1="793.4" y1="2243.9" x2="805.9" y2="2243.9" stroke="#000" stroke-width="2.2"/>
<text x="806.7" y="2248.0" font-size="19">45</text>
<line x1="793.4" y1="2282.9" x2="805.9" y2="2282.9" stroke="#000" stroke-width="2.2"/>
<text x="806.7" y="2289.6" font-size="19">75</text>
<line x1="793.4" y1="2322.9" x2="805.9" y2="2322.9" stroke="#000" stroke-width="2.2"/>
<text x="806.7" y="2330.3" font-size="19">35</text>
<text x="687.6" y="2363.0" font-size="29.8" text-anchor="middle">human macrophages</text>
</g>
<g id="panelHI">
<text x="1201.8" y="2036.8" font-size="29.2" text-anchor="middle">BMDMs</text>
<path d="M1084.7 2387.7 V2307.6 H1109.7 V2387.7" fill="none" stroke="#3c50b4" stroke-width="2.5"/>
<path d="M1121.3 2387.7 V2258.7 H1146.5 V2387.7" fill="none" stroke="#e43223" stroke-width="2.5"/>
<path d="M1187.0 2387.7 V2320.5 H1212.2 V2387.7" fill="none" stroke="#3c50b4" stroke-width="2.5"/>
<path d="M1223.8 2387.7 V2345.5 H1249.3 V2387.7" fill="none" stroke="#e43223" stroke-width="2.5"/>
<path d="M1289.0 2387.7 V2285.7 H1314.5 V2387.7" fill="none" stroke="#3c50b4" stroke-width="2.5"/>
<path d="M1326.1 2387.7 V2202.5 H1351.3 V2387.7" fill="none" stroke="#e43223" stroke-width="2.5"/>
<line x1="1097.3" y1="2276.9" x2="1097.3" y2="2334.9" stroke="#3c50b4" stroke-width="2.5"/>
<line x1="1089.6" y1="2276.9" x2="1105.0" y2="2276.9" stroke="#3c50b4" stroke-width="2.5"/>
<line x1="1089.6" y1="2334.9" x2="1105.0" y2="2334.9" stroke="#3c50b4" stroke-width="2.5"/>
<line x1="1133.9" y1="2234.9" x2="1133.9" y2="2280.8" stroke="#e43223" stroke-width="2.5"/>
<line x1="1126.2" y1="2234.9" x2="1141.6" y2="2234.9" stroke="#e43223" stroke-width="2.5"/>
<line x1="1126.2" y1="2280.8" x2="1141.6" y2="2280.8" stroke="#e43223" stroke-width="2.5"/>
<line x1="1199.6" y1="2313.0" x2="1199.6" y2="2326.7" stroke="#3c50b4" stroke-width="2.5"/>
<line x1="1236.4" y1="2312.2" x2="1236.4" y2="2373.5" stroke="#e43223" stroke-width="2.5"/>
<line x1="1228.7" y1="2312.2" x2="1244.1" y2="2312.2" stroke="#e43223" stroke-width="2.5"/>
<line x1="1228.7" y1="2373.5" x2="1244.1" y2="2373.5" stroke="#e43223" stroke-width="2.5"/>
<line x1="1301.9" y1="2219.0" x2="1301.9" y2="2349.1" stroke="#3c50b4" stroke-width="2.5"/>
<line x1="1294.2" y1="2219.0" x2="1309.6" y2="2219.0" stroke="#3c50b4" stroke-width="2.5"/>
<line x1="1294.2" y1="2349.1" x2="1309.6" y2="2349.1" stroke="#3c50b4" stroke-width="2.5"/>
<line x1="1338.7" y1="2122.4" x2="1338.7" y2="2280.8" stroke="#e43223" stroke-width="2.5"/>
<line x1="1331.0" y1="2122.4" x2="1346.4" y2="2122.4" stroke="#e43223" stroke-width="2.5"/>
<line x1="1331.0" y1="2280.8" x2="1346.4" y2="2280.8" stroke="#e43223" stroke-width="2.5"/>
<circle cx="1097.3" cy="2276.9" r="7.6" fill="#3c50b4"/>
<circle cx="1097.8" cy="2311.7" r="7.6" fill="#3c50b4"/>
<circle cx="1097.3" cy="2332.3" r="7.6" fill="#3c50b4"/>
<circle cx="1141.6" cy="2239.6" r="7.6" fill="#e43223"/>
<circle cx="1133.9" cy="2250.4" r="7.6" fill="#e43223"/>
<circle cx="1133.9" cy="2281.3" r="7.6" fill="#e43223"/>
<circle cx="1199.6" cy="2314.3" r="7.6" fill="#3c50b4"/>
<circle cx="1208.6" cy="2314.3" r="7.6" fill="#3c50b4"/>
<circle cx="1199.6" cy="2328.5" r="7.6" fill="#3c50b4"/>
<circle cx="1236.4" cy="2311.7" r="7.6" fill="#e43223"/>
<circle cx="1236.4" cy="2352.9" r="7.6" fill="#e43223"/>
<circle cx="1236.4" cy="2365.8" r="7.6" fill="#e43223"/>
<circle cx="1301.9" cy="2209.2" r="7.6" fill="#3c50b4"/>
<circle cx="1293.6" cy="2321.5" r="7.6" fill="#3c50b4"/>
<circle cx="1309.8" cy="2320.7" r="7.6" fill="#3c50b4"/>
<circle cx="1338.7" cy="2121.6" r="7.6" fill="#e43223"/>
<circle cx="1338.7" cy="2199.6" r="7.6" fill="#e43223"/>
<circle cx="1338.7" cy="2280.8" r="7.6" fill="#e43223"/>
<line x1="1069.5" y1="2087.6" x2="1069.5" y2="2389.0" stroke="#000" stroke-width="2.9"/>
<line x1="1054.0" y1="2387.7" x2="1369.6" y2="2387.7" stroke="#000" stroke-width="2.9"/>
<line x1="1054.8" y1="2387.7" x2="1069.5" y2="2387.7" stroke="#000" stroke-width="2.9"/>
<text x="1050.2" y="2397.7" font-size="28.5" text-anchor="end">0</text>
<line x1="1054.8" y1="2327.9" x2="1069.5" y2="2327.9" stroke="#000" stroke-width="2.9"/>
<text x="1050.2" y="2337.9" font-size="28.5" text-anchor="end">1</text>
<line x1="1054.8" y1="2268.2" x2="1069.5" y2="2268.2" stroke="#000" stroke-width="2.9"/>
<text x="1050.2" y="2278.2" font-size="28.5" text-anchor="end">2</text>
<line x1="1054.8" y1="2208.4" x2="1069.5" y2="2208.4" stroke="#000" stroke-width="2.9"/>
<text x="1050.2" y="2218.4" font-size="28.5" text-anchor="end">3</text>
<line x1="1054.8" y1="2148.6" x2="1069.5" y2="2148.6" stroke="#000" stroke-width="2.9"/>
<text x="1050.2" y="2158.6" font-size="28.5" text-anchor="end">4</text>
<line x1="1054.8" y1="2088.8" x2="1069.5" y2="2088.8" stroke="#000" stroke-width="2.9"/>
<text x="1050.2" y="2098.8" font-size="28.5" text-anchor="end">5</text>
<line x1="1115.3" y1="2387.7" x2="1115.3" y2="2401.9" stroke="#000" stroke-width="2.9"/>
<line x1="1218.1" y1="2387.7" x2="1218.1" y2="2401.9" stroke="#000" stroke-width="2.9"/>
<line x1="1320.1" y1="2387.7" x2="1320.1" y2="2401.9" stroke="#000" stroke-width="2.9"/>
<text x="1019.5" y="2233.7" font-size="29.7" text-anchor="middle" transform="rotate(-90 1019.5 2233.7)">Relative expression</text>
<text x="1106.8" y="2200.4" font-size="29.8" text-anchor="middle">ns</text>
<line x1="1082.4" y1="2205.3" x2="1128.7" y2="2205.3" stroke="#111" stroke-width="2.9"/>
<text x="1215.0" y="2276.2" font-size="29.8" text-anchor="middle">ns</text>
<line x1="1190.6" y1="2281.3" x2="1237.7" y2="2281.3" stroke="#111" stroke-width="2.9"/>
<text x="1315.0" y="2097.4" font-size="29.8" text-anchor="middle">ns</text>
<line x1="1290.5" y1="2102.3" x2="1336.6" y2="2102.3" stroke="#111" stroke-width="2.9"/>
<text x="1129.8" y="2416.8" font-size="28.6" text-anchor="end" transform="rotate(-60 1129.8 2416.8)">DPEP2</text>
<text x="1232.6" y="2416.8" font-size="28.6" text-anchor="end" transform="rotate(-60 1232.6 2416.8)">DPEP1</text>
<text x="1334.6" y="2416.8" font-size="28.6" text-anchor="end" transform="rotate(-60 1334.6 2416.8)">DPEP3</text>
<text x="1692.6" y="2036.0" font-size="29.8" text-anchor="middle">human macrophages</text>
<path d="M1629.5 2395.7 V2228.6 H1673.2 V2395.7" fill="none" stroke="#3c50b4" stroke-width="2.5"/>
<path d="M1700.5 2395.7 V2205.0 H1743.6 V2395.7" fill="none" stroke="#e43223" stroke-width="2.5"/>
<line x1="1650.9" y1="2176.9" x2="1650.9" y2="2275.4" stroke="#3c50b4" stroke-width="2.5"/>
<line x1="1638.2" y1="2176.9" x2="1663.6" y2="2176.9" stroke="#3c50b4" stroke-width="2.5"/>
<line x1="1638.2" y1="2275.4" x2="1663.6" y2="2275.4" stroke="#3c50b4" stroke-width="2.5"/>
<line x1="1722.2" y1="2147.6" x2="1722.2" y2="2257.1" stroke="#e43223" stroke-width="2.5"/>
<line x1="1709.5" y1="2147.6" x2="1734.9" y2="2147.6" stroke="#e43223" stroke-width="2.5"/>
<line x1="1709.5" y1="2257.1" x2="1734.9" y2="2257.1" stroke="#e43223" stroke-width="2.5"/>
<circle cx="1650.9" cy="2179.4" r="5.6" fill="#3c50b4"/>
<circle cx="1650.9" cy="2222.5" r="5.6" fill="#3c50b4"/>
<circle cx="1650.9" cy="2278.8" r="5.6" fill="#3c50b4"/>
<rect x="1717.2" y="2137.2" width="10.0" height="10.0" fill="#e43223"/>
<rect x="1717.2" y="2211.8" width="10.0" height="10.0" fill="#e43223"/>
<rect x="1717.2" y="2244.2" width="10.0" height="10.0" fill="#e43223"/>
<line x1="1603.9" y1="2097.2" x2="1603.9" y2="2397.0" stroke="#000" stroke-width="2.9"/>
<line x1="1598.3" y1="2395.7" x2="1771.5" y2="2395.7" stroke="#000" stroke-width="2.9"/>
<line x1="1597.7" y1="2395.7" x2="1603.9" y2="2395.7" stroke="#000" stroke-width="2.9"/>
<text x="1593.2" y="2405.7" font-size="28.5" text-anchor="end">0.0</text>
<line x1="1597.7" y1="2336.4" x2="1603.9" y2="2336.4" stroke="#000" stroke-width="2.9"/>
<text x="1593.2" y="2346.4" font-size="28.5" text-anchor="end">0.5</text>
<line x1="1597.7" y1="2277.1" x2="1603.9" y2="2277.1" stroke="#000" stroke-width="2.9"/>
<text x="1593.2" y="2287.1" font-size="28.5" text-anchor="end">1.0</text>
<line x1="1597.7" y1="2217.7" x2="1603.9" y2="2217.7" stroke="#000" stroke-width="2.9"/>
<text x="1593.2" y="2227.7" font-size="28.5" text-anchor="end">1.5</text>
<line x1="1597.7" y1="2158.4" x2="1603.9" y2="2158.4" stroke="#000" stroke-width="2.9"/>
<text x="1593.2" y="2168.4" font-size="28.5" text-anchor="end">2.0</text>
<line x1="1597.7" y1="2099.1" x2="1603.9" y2="2099.1" stroke="#000" stroke-width="2.9"/>
<text x="1593.2" y="2109.1" font-size="28.5" text-anchor="end">2.5</text>
<line x1="1650.4" y1="2395.7" x2="1650.4" y2="2402.7" stroke="#000" stroke-width="2.9"/>
<line x1="1721.6" y1="2395.7" x2="1721.6" y2="2402.7" stroke="#000" stroke-width="2.9"/>
<text x="1540.5" y="2257.6" font-size="29.7" text-anchor="middle" transform="rotate(-90 1540.5 2257.6)">Relative expression</text>
<text x="1680.5" y="2107.0" font-size="29.8" text-anchor="middle">ns</text>
<line x1="1656.0" y1="2111.8" x2="1702.5" y2="2111.8" stroke="#111" stroke-width="2.9"/>
<text x="1681.7" y="2443.5" font-size="28.9" text-anchor="middle">DPEP2</text>
<circle cx="1824.1" cy="2075.5" r="9.9" fill="#3c50b4"/>
<text x="1841.3" y="2084.5" font-size="28.7">LPS-</text>
<circle cx="1824.1" cy="2140.2" r="9.9" fill="#e43223"/>
<text x="1841.3" y="2149.3" font-size="28.7">LPS+</text>
</g>
<g id="panelA">
<path d="M487.6 89.4L485.3 93.1L483.6 96.6L483.4 100.3L483.4 104.2L482.1 107.7L479.2 110.4L476.0 112.7L473.6 115.2L471.7 118.3L469.6 121.4L467.1 124.1L464.6 127.1L462.0 130.6L458.9 133.7L455.0 135.0L450.7 134.2L446.6 132.9L442.8 132.7L438.9 133.7L434.9 134.3L431.0 133.4L427.5 131.5L424.1 129.6L420.4 128.1L416.9 126.4L413.8 124.0L410.9 121.3L407.4 119.1L403.7 116.8L401.1 113.5L400.6 109.1L401.8 104.3L402.7 100.1L402.2 96.6L401.0 93.1L400.4 89.4L400.9 85.7L401.6 82.1L402.0 78.5L402.6 74.8L404.2 71.4L406.4 68.4L408.1 65.1L409.2 61.2L410.6 57.2L413.5 54.5L417.8 53.7L422.1 53.5L425.6 52.5L428.6 50.3L431.7 47.9L435.2 46.3L438.9 45.1L442.8 43.8L446.9 42.8L451.0 43.0L454.8 44.8L458.3 46.9L462.1 48.0L466.4 48.5L470.3 50.1L472.9 53.5L474.2 58.0L475.5 62.0L477.5 65.1L479.9 68.0L482.0 71.1L483.8 74.5L485.6 77.9L487.6 81.5L488.6 85.4Z" fill="#f4cdd1" stroke="#e0969e" stroke-width="1.2" stroke-linejoin="round"/>
<circle cx="468.3" cy="91.4" r="1.9" fill="#fbe4e6" fill-opacity="0.85"/><circle cx="432.3" cy="65.7" r="1.5" fill="#fbe4e6" fill-opacity="0.85"/><circle cx="446.8" cy="123.8" r="1.5" fill="#fbe4e6" fill-opacity="0.85"/><circle cx="440.8" cy="56.2" r="1.5" fill="#fbe4e6" fill-opacity="0.85"/><circle cx="413.3" cy="82.7" r="1.9" fill="#fbe4e6" fill-opacity="0.85"/><circle cx="468.1" cy="88.7" r="1.3" fill="#fbe4e6" fill-opacity="0.85"/><circle cx="470.3" cy="78.4" r="1.6" fill="#fbe4e6" fill-opacity="0.85"/><circle cx="428.8" cy="114.9" r="2.7" fill="#fbe4e6" fill-opacity="0.85"/><circle cx="449.5" cy="115.6" r="0.8" fill="#eab0b6" fill-opacity="0.6"/><circle cx="415.5" cy="73.3" r="0.8" fill="#eab0b6" fill-opacity="0.6"/><circle cx="477.0" cy="79.1" r="0.8" fill="#eab0b6" fill-opacity="0.6"/><circle cx="426.3" cy="110.6" r="0.8" fill="#eab0b6" fill-opacity="0.6"/><circle cx="462.3" cy="56.9" r="0.8" fill="#eab0b6" fill-opacity="0.6"/><circle cx="476.5" cy="95.9" r="0.8" fill="#eab0b6" fill-opacity="0.6"/><circle cx="465.2" cy="65.0" r="0.8" fill="#eab0b6" fill-opacity="0.6"/><circle cx="449.8" cy="123.9" r="0.8" fill="#eab0b6" fill-opacity="0.6"/><circle cx="439.4" cy="62.9" r="0.8" fill="#eab0b6" fill-opacity="0.6"/><circle cx="425.6" cy="68.5" r="0.8" fill="#eab0b6" fill-opacity="0.6"/><circle cx="470.5" cy="96.8" r="0.8" fill="#eab0b6" fill-opacity="0.6"/><circle cx="427.9" cy="114.9" r="0.8" fill="#eab0b6" fill-opacity="0.6"/>
<circle cx="449.3" cy="95.5" r="19.4" fill="#d6979f" stroke="#c8848c" stroke-width="1"/>
<path d="M382.6 115.0L383.5 118.1L385.0 121.5L385.4 125.0L384.4 128.3L383.0 131.4L381.8 134.7L380.3 138.0L378.0 140.9L375.0 143.3L372.2 145.8L369.6 148.7L366.6 151.2L362.4 152.2L357.8 151.5L353.5 150.6L349.8 150.8L346.2 152.3L342.5 153.5L338.6 153.8L334.7 153.3L330.9 152.7L327.1 151.9L323.6 150.2L320.9 147.6L318.3 145.0L315.3 143.2L311.7 141.8L308.9 139.5L307.8 136.2L307.7 132.5L307.0 129.4L304.9 126.9L302.2 124.4L300.0 121.5L298.7 118.3L297.6 115.0L296.6 111.5L296.8 108.0L298.7 104.8L301.4 102.0L303.3 99.1L304.0 95.7L304.8 92.1L307.1 89.2L310.8 87.4L314.5 86.0L317.5 84.0L320.2 81.4L323.2 79.0L326.7 77.2L330.4 75.7L334.2 74.3L338.3 73.5L342.5 74.4L346.3 76.8L349.8 79.2L353.2 80.2L357.0 80.3L360.8 80.8L364.0 82.7L366.4 85.3L369.0 87.6L372.0 89.3L375.0 91.3L377.5 93.7L379.8 96.3L382.3 98.8L384.9 101.6L386.2 104.8L385.4 108.4L383.5 111.9Z" fill="#f4cdd1" stroke="#e0969e" stroke-width="1.2" stroke-linejoin="round"/>
<circle cx="343.8" cy="146.0" r="1.5" fill="#fbe4e6" fill-opacity="0.85"/><circle cx="354.7" cy="89.4" r="2.1" fill="#fbe4e6" fill-opacity="0.85"/><circle cx="369.3" cy="101.5" r="2.8" fill="#fbe4e6" fill-opacity="0.85"/><circle cx="338.8" cy="83.7" r="2.2" fill="#fbe4e6" fill-opacity="0.85"/><circle cx="317.1" cy="99.8" r="2.8" fill="#fbe4e6" fill-opacity="0.85"/><circle cx="313.0" cy="135.4" r="2.6" fill="#fbe4e6" fill-opacity="0.85"/><circle cx="370.6" cy="120.1" r="2.0" fill="#fbe4e6" fill-opacity="0.85"/><circle cx="353.4" cy="89.5" r="2.2" fill="#fbe4e6" fill-opacity="0.85"/><circle cx="319.8" cy="140.1" r="0.8" fill="#eab0b6" fill-opacity="0.6"/><circle cx="372.5" cy="99.9" r="0.8" fill="#eab0b6" fill-opacity="0.6"/><circle cx="354.2" cy="146.5" r="0.8" fill="#eab0b6" fill-opacity="0.6"/><circle cx="310.7" cy="128.1" r="0.8" fill="#eab0b6" fill-opacity="0.6"/><circle cx="308.1" cy="121.6" r="0.8" fill="#eab0b6" fill-opacity="0.6"/><circle cx="376.6" cy="111.9" r="0.8" fill="#eab0b6" fill-opacity="0.6"/><circle cx="358.1" cy="84.6" r="0.8" fill="#eab0b6" fill-opacity="0.6"/><circle cx="319.2" cy="99.9" r="0.8" fill="#eab0b6" fill-opacity="0.6"/><circle cx="373.0" cy="112.3" r="0.8" fill="#eab0b6" fill-opacity="0.6"/><circle cx="372.7" cy="118.1" r="0.8" fill="#eab0b6" fill-opacity="0.6"/><circle cx="318.4" cy="129.3" r="0.8" fill="#eab0b6" fill-opacity="0.6"/><circle cx="368.8" cy="108.2" r="0.8" fill="#eab0b6" fill-opacity="0.6"/>
<circle cx="349.6" cy="125.1" r="19.4" fill="#d6979f" stroke="#c8848c" stroke-width="1"/>
<path d="M311.4 201.8Q309.2 199.2 297.5 201.5Q308.5 196.8 308.9 193.5A39.0 39.0 0 0 1 308.3 188.3Q307.1 184.7 295.7 182.4Q307.3 181.8 309.0 178.4A39.0 39.0 0 0 1 311.2 171.3Q311.4 168.0 305.8 163.6Q312.5 165.9 315.2 163.9A39.0 39.0 0 0 1 318.6 159.6Q320.0 156.6 317.3 151.6Q321.9 155.0 325.1 154.1A39.0 39.0 0 0 1 329.9 151.3Q332.3 148.9 329.9 138.4Q334.7 148.0 338.2 148.3A39.0 39.0 0 0 1 344.6 147.3Q347.3 146.0 348.6 140.0Q349.5 146.1 352.1 147.5A39.0 39.0 0 0 1 356.4 148.3Q359.7 148.0 363.4 141.6Q362.0 148.9 364.4 151.2A39.0 39.0 0 0 1 369.2 154.0Q372.5 155.0 378.6 149.9Q374.5 156.7 375.9 159.8A39.0 39.0 0 0 1 379.5 164.3Q382.3 166.7 388.1 165.2Q383.5 169.1 383.8 172.8A39.0 39.0 0 0 1 385.7 180.0Q387.2 182.5 397.2 182.8Q387.3 184.5 386.2 187.1A39.0 39.0 0 0 1 385.8 191.5Q386.5 194.6 395.7 198.0Q386.0 196.8 384.0 199.1A39.0 39.0 0 0 1 381.8 204.3Q381.5 207.1 392.4 215.4Q380.4 208.8 377.9 210.2A39.0 39.0 0 0 1 375.6 212.9Q373.9 216.2 379.6 225.2Q371.8 218.0 368.3 219.0A39.0 39.0 0 0 1 362.5 222.1Q359.7 224.4 361.7 236.0Q357.2 225.1 353.7 224.7A39.0 39.0 0 0 1 346.5 225.2Q343.9 226.2 341.7 236.4Q341.9 226.0 339.6 224.4A39.0 39.0 0 0 1 336.6 223.7Q332.7 223.7 326.7 234.1Q330.0 222.5 327.3 219.7A39.0 39.0 0 0 1 321.8 215.8Q318.3 214.1 309.9 219.6Q316.3 211.9 315.0 208.3A39.0 39.0 0 0 1 311.4 201.8Z" fill="#bdbde9" stroke="#8c8fd6" stroke-width="1.6" stroke-linejoin="round"/>
<circle cx="355.2" cy="160.9" r="1.7" fill="#dcdcf5" fill-opacity="0.85"/><circle cx="357.8" cy="164.4" r="2.0" fill="#dcdcf5" fill-opacity="0.85"/><circle cx="319.4" cy="175.7" r="1.5" fill="#dcdcf5" fill-opacity="0.85"/><circle cx="327.7" cy="165.4" r="2.6" fill="#dcdcf5" fill-opacity="0.85"/><circle cx="380.2" cy="192.1" r="1.6" fill="#dcdcf5" fill-opacity="0.85"/><circle cx="358.2" cy="159.8" r="2.6" fill="#dcdcf5" fill-opacity="0.85"/><circle cx="358.1" cy="210.4" r="1.4" fill="#dcdcf5" fill-opacity="0.85"/><circle cx="352.3" cy="157.8" r="1.6" fill="#dcdcf5" fill-opacity="0.85"/><circle cx="355.8" cy="208.5" r="1.6" fill="#dcdcf5" fill-opacity="0.85"/><circle cx="321.3" cy="176.0" r="0.8" fill="#a9a3e0" fill-opacity="0.6"/><circle cx="340.4" cy="163.4" r="0.8" fill="#a9a3e0" fill-opacity="0.6"/><circle cx="365.1" cy="157.6" r="0.8" fill="#a9a3e0" fill-opacity="0.6"/><circle cx="345.1" cy="155.1" r="0.8" fill="#a9a3e0" fill-opacity="0.6"/><circle cx="361.2" cy="166.7" r="0.8" fill="#a9a3e0" fill-opacity="0.6"/><circle cx="324.0" cy="192.0" r="0.8" fill="#a9a3e0" fill-opacity="0.6"/><circle cx="352.8" cy="157.8" r="0.8" fill="#a9a3e0" fill-opacity="0.6"/><circle cx="369.1" cy="203.5" r="0.8" fill="#a9a3e0" fill-opacity="0.6"/><circle cx="352.0" cy="157.5" r="0.8" fill="#a9a3e0" fill-opacity="0.6"/><circle cx="371.3" cy="209.2" r="0.8" fill="#a9a3e0" fill-opacity="0.6"/><circle cx="377.5" cy="197.4" r="0.8" fill="#a9a3e0" fill-opacity="0.6"/><circle cx="378.0" cy="181.0" r="0.8" fill="#a9a3e0" fill-opacity="0.6"/><circle cx="374.4" cy="176.5" r="0.8" fill="#a9a3e0" fill-opacity="0.6"/>
<circle cx="347.2" cy="186.2" r="19.3" fill="#9a98d3" stroke="#7e7cc2" stroke-width="1"/>
<path d="M381.4 169.7Q379.6 166.8 373.6 166.5Q379.2 164.3 380.0 161.0A37.0 37.0 0 0 1 380.3 155.1Q379.7 151.8 368.8 147.8Q380.3 149.3 382.3 146.5A37.0 37.0 0 0 1 385.3 140.4Q385.8 137.7 379.7 131.9Q387.0 136.0 389.5 134.7A37.0 37.0 0 0 1 393.1 131.3Q394.3 128.9 389.9 121.0Q395.9 127.8 398.5 127.4A37.0 37.0 0 0 1 402.0 125.7Q404.2 123.6 401.3 110.9Q406.4 122.9 409.5 123.3A37.0 37.0 0 0 1 414.8 122.6Q417.6 121.4 418.9 116.1Q419.7 121.5 422.4 122.9A37.0 37.0 0 0 1 426.4 123.7Q430.0 123.7 433.4 118.8Q432.5 124.7 435.1 127.2A37.0 37.0 0 0 1 440.4 130.8Q443.5 132.2 454.3 123.6Q445.3 134.0 446.6 137.2A37.0 37.0 0 0 1 449.8 142.4Q452.2 144.8 461.9 142.4Q453.0 147.1 452.9 150.5A37.0 37.0 0 0 1 453.9 156.2Q455.1 159.3 461.1 160.6Q455.0 161.7 453.6 164.7A37.0 37.0 0 0 1 452.5 170.0Q452.5 173.5 465.1 180.3Q451.4 175.8 449.0 178.1A37.0 37.0 0 0 1 445.0 183.6Q444.1 186.3 453.0 197.1Q442.6 187.7 439.9 188.6A37.0 37.0 0 0 1 436.4 191.0Q434.4 193.4 436.0 199.6Q432.3 194.4 429.1 194.5A37.0 37.0 0 0 1 423.4 195.9Q421.0 197.4 420.7 206.6Q418.9 197.6 416.3 196.5A37.0 37.0 0 0 1 412.7 196.3Q409.1 196.8 406.2 202.7Q406.4 196.1 403.4 193.9A37.0 37.0 0 0 1 396.5 190.3Q393.8 189.7 387.9 195.4Q392.2 188.5 391.2 186.0A37.0 37.0 0 0 1 388.9 183.6Q385.9 181.6 376.0 186.4Q384.4 179.3 383.8 175.8A37.0 37.0 0 0 1 381.4 169.7Z" fill="#bdbde9" stroke="#8c8fd6" stroke-width="1.6" stroke-linejoin="round"/>
<circle cx="413.1" cy="126.7" r="1.4" fill="#dcdcf5" fill-opacity="0.85"/><circle cx="450.9" cy="160.4" r="1.8" fill="#dcdcf5" fill-opacity="0.85"/><circle cx="426.4" cy="186.4" r="2.1" fill="#dcdcf5" fill-opacity="0.85"/><circle cx="414.9" cy="129.9" r="2.1" fill="#dcdcf5" fill-opacity="0.85"/><circle cx="417.9" cy="133.6" r="2.0" fill="#dcdcf5" fill-opacity="0.85"/><circle cx="440.9" cy="139.8" r="2.2" fill="#dcdcf5" fill-opacity="0.85"/><circle cx="440.5" cy="183.2" r="1.4" fill="#dcdcf5" fill-opacity="0.85"/><circle cx="426.1" cy="136.6" r="2.0" fill="#dcdcf5" fill-opacity="0.85"/><circle cx="405.8" cy="132.9" r="1.3" fill="#dcdcf5" fill-opacity="0.85"/><circle cx="425.2" cy="185.9" r="0.8" fill="#a9a3e0" fill-opacity="0.6"/><circle cx="410.6" cy="182.9" r="0.8" fill="#a9a3e0" fill-opacity="0.6"/><circle cx="439.5" cy="180.9" r="0.8" fill="#a9a3e0" fill-opacity="0.6"/><circle cx="389.9" cy="151.8" r="0.8" fill="#a9a3e0" fill-opacity="0.6"/><circle cx="447.9" cy="165.3" r="0.8" fill="#a9a3e0" fill-opacity="0.6"/><circle cx="447.9" cy="157.4" r="0.8" fill="#a9a3e0" fill-opacity="0.6"/><circle cx="386.4" cy="163.2" r="0.8" fill="#a9a3e0" fill-opacity="0.6"/><circle cx="400.1" cy="141.8" r="0.8" fill="#a9a3e0" fill-opacity="0.6"/><circle cx="388.6" cy="150.6" r="0.8" fill="#a9a3e0" fill-opacity="0.6"/><circle cx="426.6" cy="183.6" r="0.8" fill="#a9a3e0" fill-opacity="0.6"/><circle cx="405.7" cy="184.1" r="0.8" fill="#a9a3e0" fill-opacity="0.6"/><circle cx="405.0" cy="190.8" r="0.8" fill="#a9a3e0" fill-opacity="0.6"/><circle cx="438.1" cy="140.5" r="0.8" fill="#a9a3e0" fill-opacity="0.6"/>
<circle cx="417.0" cy="159.5" r="19.3" fill="#9a98d3" stroke="#7e7cc2" stroke-width="1"/>
<path d="M386.2 106.8Q382.8 108.0 381.1 114.7Q380.1 107.9 376.9 106.3A38.0 38.0 0 0 1 370.9 104.7Q367.3 104.4 359.9 116.0Q364.9 103.2 362.5 100.5A38.0 38.0 0 0 1 357.9 96.8Q354.5 95.0 343.6 102.2Q352.7 92.8 351.5 89.2A38.0 38.0 0 0 1 348.1 82.2Q346.1 79.9 333.3 82.2Q345.6 77.8 346.2 74.8A38.0 38.0 0 0 1 345.7 69.9Q344.6 67.0 331.5 64.9Q344.8 64.8 346.3 62.1A38.0 38.0 0 0 1 347.6 57.0Q347.5 54.0 336.6 48.0Q348.4 52.0 350.7 50.1A38.0 38.0 0 0 1 353.3 46.1Q354.2 43.1 344.5 32.6Q355.7 41.5 358.6 40.4A38.0 38.0 0 0 1 362.0 37.7Q364.3 34.9 359.5 22.9Q366.7 33.6 370.4 33.3A38.0 38.0 0 0 1 377.5 31.4Q380.1 29.9 380.6 22.1Q382.2 29.8 384.9 30.9A38.0 38.0 0 0 1 389.2 31.3Q392.5 30.8 397.2 18.1Q395.0 31.4 397.7 33.6A38.0 38.0 0 0 1 403.4 36.4Q406.4 37.0 413.3 29.8Q408.2 38.4 409.6 41.1A38.0 38.0 0 0 1 413.0 44.7Q415.7 46.3 426.8 40.4Q417.0 48.3 417.4 51.4A38.0 38.0 0 0 1 419.5 56.0Q421.5 58.7 432.2 57.4Q422.0 61.0 421.4 64.3A38.0 38.0 0 0 1 421.7 69.2Q422.6 72.9 431.8 75.6Q422.2 75.7 420.3 79.0A38.0 38.0 0 0 1 417.9 85.5Q417.3 89.0 424.0 94.8Q415.9 91.2 413.0 93.1A38.0 38.0 0 0 1 407.9 98.2Q406.6 100.6 411.1 109.0Q404.9 101.8 402.2 102.1A38.0 38.0 0 0 1 398.4 104.0Q396.0 106.0 397.3 114.3Q393.8 106.7 390.8 106.2A38.0 38.0 0 0 1 386.2 106.8Z" fill="#bdbde9" stroke="#8c8fd6" stroke-width="1.6" stroke-linejoin="round"/>
<circle cx="405.2" cy="81.4" r="2.3" fill="#dcdcf5" fill-opacity="0.85"/><circle cx="401.4" cy="97.3" r="2.6" fill="#dcdcf5" fill-opacity="0.85"/><circle cx="382.3" cy="40.8" r="2.5" fill="#dcdcf5" fill-opacity="0.85"/><circle cx="384.9" cy="98.5" r="1.9" fill="#dcdcf5" fill-opacity="0.85"/><circle cx="350.2" cy="71.0" r="1.6" fill="#dcdcf5" fill-opacity="0.85"/><circle cx="384.6" cy="37.5" r="1.4" fill="#dcdcf5" fill-opacity="0.85"/><circle cx="411.6" cy="67.5" r="2.1" fill="#dcdcf5" fill-opacity="0.85"/><circle cx="374.4" cy="96.5" r="2.7" fill="#dcdcf5" fill-opacity="0.85"/><circle cx="365.6" cy="94.2" r="2.5" fill="#dcdcf5" fill-opacity="0.85"/><circle cx="404.4" cy="46.3" r="0.8" fill="#a9a3e0" fill-opacity="0.6"/><circle cx="359.4" cy="80.0" r="0.8" fill="#a9a3e0" fill-opacity="0.6"/><circle cx="363.5" cy="86.9" r="0.8" fill="#a9a3e0" fill-opacity="0.6"/><circle cx="407.9" cy="47.8" r="0.8" fill="#a9a3e0" fill-opacity="0.6"/><circle cx="389.5" cy="94.2" r="0.8" fill="#a9a3e0" fill-opacity="0.6"/><circle cx="415.7" cy="78.0" r="0.8" fill="#a9a3e0" fill-opacity="0.6"/><circle cx="409.1" cy="78.8" r="0.8" fill="#a9a3e0" fill-opacity="0.6"/><circle cx="393.9" cy="91.9" r="0.8" fill="#a9a3e0" fill-opacity="0.6"/><circle cx="409.6" cy="58.8" r="0.8" fill="#a9a3e0" fill-opacity="0.6"/><circle cx="362.2" cy="45.0" r="0.8" fill="#a9a3e0" fill-opacity="0.6"/><circle cx="352.0" cy="64.2" r="0.8" fill="#a9a3e0" fill-opacity="0.6"/><circle cx="387.5" cy="39.5" r="0.8" fill="#a9a3e0" fill-opacity="0.6"/><circle cx="353.5" cy="56.2" r="0.8" fill="#a9a3e0" fill-opacity="0.6"/>
<circle cx="383.7" cy="68.9" r="19.3" fill="#9a98d3" stroke="#7e7cc2" stroke-width="1"/>
<text x="481.7" y="153.3" font-size="26">BMDMs</text>
<path d="M380.7 221.5V281 Q380.7 284.6 376 284.6 L273 284.6 Q267.2 284.6 267.2 290.5 V328" fill="none" stroke="#231f20" stroke-width="5.2" stroke-linejoin="round"/>
<path d="M380.7 281 Q380.7 284.6 385.4 284.6 L488.4 284.6 Q494.2 284.6 494.2 290.5 V328" fill="none" stroke="#231f20" stroke-width="5.2" stroke-linejoin="round"/>
<path d="M260.2 327H274.2L267.2 341Z" fill="#231f20"/>
<path d="M487.2 327H501.2L494.2 341Z" fill="#231f20"/>
<text x="399.6" y="250.3" font-size="26.4">with or without</text>
<text x="399.6" y="275.2" font-size="26.4">LPS-V treatment</text>
<text x="89.6" y="372.2" font-size="26.3">Cell extracts</text>
<text x="571.3" y="372.2" font-size="26.3">Cell lysis</text>
<g transform="translate(291.7 351.3) rotate(36.8) scale(1 0.975)"><path d="M-14.6 3 L-14.6 50 C-14.2 62 -6 88 -2.8 98.5 C-1.8 102 1.8 102 2.8 98.5 C6 88 14.2 62 14.6 50 L14.6 3 Z" fill="#e9eff1" stroke="#8a949c" stroke-width="1.1" stroke-linejoin="round"/><path d="M-13.2 36 L-13.2 50 C-12.8 62 -5.2 87 -2 97 C-1.3 99.8 1.3 99.8 2 97 C5.2 87 12.8 62 13.2 50 L13.2 36 Z" fill="#e6d7f8" stroke="#b58be0" stroke-width="0.9"/><path d="M9.5 36 L13.2 36 L13.2 50 C12.8 62 5.2 87 2 97 C1.3 99 0.5 99.5 0 99.6 C3 88 9.2 62 9.5 50 Z" fill="#d9bdf2"/><line x1="8.0" y1="60.0" x2="13.0" y2="60.0" stroke="#6d5a6d" stroke-width="0.8"/><line x1="9.0" y1="22.0" x2="13.5" y2="22.0" stroke="#8a949c" stroke-width="0.8"/><line x1="10.0" y1="24.5" x2="13.5" y2="24.5" stroke="#8a949c" stroke-width="0.6"/><rect x="-12" y="4" width="24" height="6.5" rx="2.5" fill="#c5cbd0" stroke="#8a949c" stroke-width="0.8"/><rect x="-16.5" y="0.8" width="33" height="3.6" rx="1.2" fill="#e3e8ea" stroke="#8a949c" stroke-width="0.9"/><rect x="-19.5" y="-2.6" width="39" height="3.7" rx="1.8" fill="#f4f7f8" stroke="#8a949c" stroke-width="1"/><rect x="-23.5" y="-2.2" width="5.5" height="4.4" rx="2" fill="#dfe4e6" stroke="#8a949c" stroke-width="0.9"/></g>
<g transform="translate(529.0 351.3) rotate(36.8) scale(1 0.975)"><path d="M-14.6 3 L-14.6 50 C-14.2 62 -6 88 -2.8 98.5 C-1.8 102 1.8 102 2.8 98.5 C6 88 14.2 62 14.6 50 L14.6 3 Z" fill="#e9eff1" stroke="#8a949c" stroke-width="1.1" stroke-linejoin="round"/><path d="M-13.2 36 L-13.2 50 C-12.8 62 -5.2 87 -2 97 C-1.3 99.8 1.3 99.8 2 97 C5.2 87 12.8 62 13.2 50 L13.2 36 Z" fill="#e9ddd2" stroke="#b98f78" stroke-width="0.9"/><path d="M9.5 36 L13.2 36 L13.2 50 C12.8 62 5.2 87 2 97 C1.3 99 0.5 99.5 0 99.6 C3 88 9.2 62 9.5 50 Z" fill="#dccbbb"/><line x1="8.0" y1="60.0" x2="13.0" y2="60.0" stroke="#6d5a6d" stroke-width="0.8"/><line x1="9.0" y1="22.0" x2="13.5" y2="22.0" stroke="#8a949c" stroke-width="0.8"/><line x1="10.0" y1="24.5" x2="13.5" y2="24.5" stroke="#8a949c" stroke-width="0.6"/><rect x="-12" y="4" width="24" height="6.5" rx="2.5" fill="#c5cbd0" stroke="#8a949c" stroke-width="0.8"/><rect x="-16.5" y="0.8" width="33" height="3.6" rx="1.2" fill="#e3e8ea" stroke="#8a949c" stroke-width="0.9"/><rect x="-19.5" y="-2.6" width="39" height="3.7" rx="1.8" fill="#f4f7f8" stroke="#8a949c" stroke-width="1"/><rect x="-23.5" y="-2.2" width="5.5" height="4.4" rx="2" fill="#dfe4e6" stroke="#8a949c" stroke-width="0.9"/></g>
<path d="M268.6 444.4H273.8V488.1H278.1L271.2 501.2L264.3 488.1H268.6Z" fill="#231f20"/>
<path d="M496.6 444.4H501.8V487.8H506.1L499.2 500.9L492.3 487.8H496.6Z" fill="#231f20"/>
<path d="M266.9 602.5H272.1V646.0H276.4L269.5 659.1L262.6 646.0H266.9Z" fill="#231f20"/>
<path d="M500.9 602.9H506.1V646.6H510.4L503.5 659.7L496.6 646.6H500.9Z" fill="#231f20"/>
<path d="M265.9 739.0H271.1V781.2H275.4L268.5 794.3L261.6 781.2H265.9Z" fill="#231f20"/>
<path d="M500.4 739.4H505.6V781.2H509.9L503.0 794.3L496.1 781.2H500.4Z" fill="#231f20"/>
<text x="53.2" y="548.4" font-size="26.6">RNA samples</text>
<text x="600.7" y="548.4" font-size="26.4">Protein mixture</text>
<text x="1.5" y="697.0" font-size="26.45">RNA Fragmentation</text>
<text x="613.6" y="697.0" font-size="26.2">Peptide</text>
<text x="613.6" y="722.2" font-size="26.2">fragmentation</text>
<text x="213.0" y="811.7" font-size="26.45">NGS sequencing</text>
<text x="456.9" y="811.7" font-size="26.45">Mass spectrometry</text>
<path d="M280.2 1039.5V1062.1H517.6V1039.5M398.1 1062.1V1083.5" fill="none" stroke="#231f20" stroke-width="5.2"/>
<text x="293.6" y="1117.8" font-size="26.55">Bioinformatics analysis</text>
<path d="M215.3 498.6L215.7 498.7L216.2 498.9L216.8 499.1L217.4 499.3L218.1 499.5L218.8 499.8L219.6 500.1L220.4 500.3L221.3 500.6L222.1 500.9L223.0 501.2L223.9 501.5L224.8 501.8L225.8 502.1L226.7 502.3L227.6 502.6L228.5 502.9L229.3 503.1L230.2 503.3L231.0 503.5L231.8 503.7L232.6 503.9L233.4 504.0L234.3 504.2L235.1 504.4L236.0 504.5L236.8 504.7L237.7 504.8L238.5 505.0L239.3 505.1L240.2 505.2L241.0 505.3L241.8 505.4L242.6 505.5L243.4 505.6L244.2 505.7L245.0 505.8L245.8 505.8L246.5 505.9L247.2 505.9L247.9 505.9L248.6 505.9L249.2 505.9L249.8 505.9L250.4 505.9L251.1 505.8L251.6 505.8L252.2 505.7L252.8 505.6L253.3 505.5L253.9 505.5L254.5 505.4L255.0 505.3L255.6 505.2L256.1 505.1L256.7 505.0L257.3 504.8L257.8 504.7L258.4 504.6L259.0 504.5L259.6 504.4L260.2 504.3L260.8 504.1L261.4 504.0L262.0 503.9L262.6 503.7L263.2 503.6L263.8 503.4L264.4 503.3L265.0 503.1L265.6 502.9L266.3 502.8L266.9 502.6L267.5 502.4L268.1 502.3L268.7 502.1L269.3 501.9L270.0 501.7L270.6 501.5L271.2 501.3L271.8 501.1L272.5 500.9L273.1 500.6L273.7 500.4L274.4 500.1L275.0 499.9L275.6 499.6L276.3 499.4L276.9 499.1L277.6 498.8L278.2 498.6L278.9 498.3L279.5 498.0L280.2 497.8L280.8 497.5L281.4 497.3L282.1 497.1L282.7 496.9L283.4 496.7L284.0 496.5L284.6 496.3L285.2 496.2L285.9 496.0L286.5 495.9L287.1 495.7L287.7 495.6L288.3 495.5L288.9 495.4L289.5 495.3L290.1 495.1L290.7 495.1L291.3 495.0L291.9 494.9L292.5 494.8L293.2 494.8L293.8 494.7L294.5 494.7L295.1 494.6L295.8 494.6L296.5 494.6L297.2 494.6L297.9 494.6L298.7 494.6L299.4 494.6L300.1 494.7L300.9 494.7L301.7 494.8L302.4 494.8L303.2 494.9L304.0 495.0L304.8 495.0L305.6 495.1L306.4 495.2L307.2 495.4L308.0 495.5L308.8 495.6L309.6 495.7L310.4 495.9L311.2 496.0L312.0 496.2L312.8 496.4L313.7 496.6L314.6 496.8L315.5 497.1L316.4 497.3L317.4 497.6L318.4 497.9L319.3 498.2L320.3 498.5L321.2 498.8L322.1 499.2L323.0 499.5L323.9 499.8L324.7 500.0L325.5 500.3L326.2 500.6L326.9 500.8L327.5 501.0L328.0 501.2L328.5 501.3" fill="none" stroke="#4a98cf" stroke-width="1.25" stroke-linecap="round"/><path d="M215.8 498.8L215.5 502.1M218.0 499.5L217.7 502.9M220.1 500.2L219.9 503.6M222.3 501.0L222.1 504.4M224.5 501.7L224.3 505.1M226.7 502.3L226.6 505.7M228.9 503.0L228.8 506.4M231.1 503.5L231.2 506.9M233.4 504.0L233.5 507.4M235.6 504.5L235.8 507.9M237.9 504.9L238.2 508.3M240.2 505.2L240.5 508.6M242.5 505.5L242.9 508.9M244.8 505.7L245.3 509.1M247.0 505.9L247.7 509.2M249.3 505.9L250.3 509.2M251.6 505.8L252.8 509.0M253.9 505.5L255.3 508.6M256.2 505.1L257.6 508.1M258.4 504.6L259.9 507.7M260.7 504.2L262.2 507.2M262.9 503.6L264.5 506.7M265.2 503.1L266.8 506.1M267.4 502.5L269.1 505.4M269.6 501.8L271.3 504.7M271.8 501.1L273.6 504.0M273.9 500.3L275.9 503.1M276.1 499.4L278.1 502.2M278.2 498.6L280.2 501.3M280.3 497.7L282.3 500.5M282.5 496.9L284.3 499.8M284.7 496.3L286.3 499.3M286.9 495.8L288.5 498.8M289.2 495.3L290.6 498.4M291.5 494.9L292.7 498.1M293.8 494.7L294.8 497.9M296.1 494.6L296.9 497.9M298.4 494.6L299.1 497.9M300.7 494.7L301.3 498.0M302.9 494.9L303.5 498.2M305.2 495.1L305.7 498.5M307.5 495.4L307.8 498.8M309.8 495.8L310.0 499.2M312.0 496.2L312.1 499.6M314.3 496.7L314.2 500.1M316.5 497.4L316.3 500.8M318.7 498.0L318.5 501.4M320.9 498.7L320.6 502.1M323.1 499.5L322.8 502.9M325.2 500.2L325.0 503.6M327.4 500.9L327.1 504.3" fill="none" stroke="#4a98cf" stroke-width="0.95"/>
<path d="M239.9 530.6L240.3 530.5L240.7 530.3L241.2 530.1L241.8 529.9L242.4 529.7L243.0 529.5L243.7 529.2L244.4 529.0L245.2 528.7L246.0 528.4L246.7 528.1L247.6 527.9L248.4 527.6L249.2 527.3L250.0 527.1L250.8 526.8L251.7 526.6L252.5 526.4L253.2 526.2L254.0 526.0L254.8 525.8L255.5 525.7L256.3 525.6L257.1 525.4L257.9 525.3L258.7 525.2L259.5 525.1L260.4 524.9L261.2 524.8L262.0 524.8L262.8 524.7L263.7 524.6L264.5 524.5L265.3 524.5L266.1 524.4L266.9 524.4L267.6 524.3L268.4 524.3L269.2 524.3L269.9 524.3L270.6 524.3L271.3 524.3L272.0 524.3L272.7 524.4L273.4 524.4L274.0 524.5L274.7 524.5L275.3 524.6L276.0 524.7L276.6 524.8L277.2 524.8L277.9 524.9L278.5 525.1L279.1 525.2L279.8 525.3L280.4 525.4L281.0 525.6L281.7 525.7L282.3 525.8L283.0 526.0L283.7 526.2L284.3 526.3L285.0 526.5L285.7 526.8L286.4 527.0L287.1 527.2L287.8 527.4L288.5 527.7L289.2 527.9L289.9 528.2L290.6 528.5L291.3 528.7L292.0 529.0L292.7 529.2L293.3 529.5L294.0 529.7L294.6 529.9L295.3 530.2L295.9 530.4L296.5 530.6L297.1 530.8L297.7 531.0L298.2 531.2L298.8 531.4L299.3 531.6L299.9 531.8L300.4 531.9L300.9 532.1L301.4 532.3L301.9 532.5L302.4 532.6L302.9 532.8L303.4 533.0L303.9 533.1L304.4 533.3L304.9 533.4L305.4 533.6L305.9 533.7L306.5 533.9L307.0 534.0L307.5 534.1L308.1 534.3L308.6 534.4L309.2 534.5L309.7 534.6L310.2 534.8L310.8 534.9L311.3 535.0L311.9 535.1L312.4 535.2L313.0 535.3L313.5 535.4L314.1 535.5L314.6 535.6L315.2 535.7L315.7 535.8L316.3 535.8L316.9 535.9L317.4 536.0L318.0 536.0L318.6 536.0L319.2 536.1L319.7 536.1L320.3 536.1L320.9 536.1L321.5 536.1L322.1 536.1L322.7 536.1L323.3 536.1L323.9 536.1L324.5 536.1L325.1 536.1L325.7 536.0L326.3 536.0L326.9 536.0L327.5 536.0L328.1 535.9L328.8 535.9L329.4 535.8L330.0 535.8L330.6 535.8L331.3 535.7L332.0 535.6L332.7 535.6L333.4 535.5L334.2 535.4L334.9 535.3L335.7 535.3L336.4 535.2L337.1 535.1L337.9 535.0L338.6 534.9L339.2 534.8L339.9 534.8L340.5 534.7L341.0 534.6L341.6 534.5L342.0 534.5L342.4 534.4L342.8 534.4" fill="none" stroke="#4a98cf" stroke-width="1.25" stroke-linecap="round"/><path d="M240.4 530.4L242.2 533.3M242.5 529.7L244.5 532.5M244.7 528.9L246.6 531.7M246.9 528.1L248.7 530.9M249.0 527.4L250.8 530.2M251.2 526.7L252.9 529.6M253.5 526.1L255.0 529.2M255.7 525.7L257.1 528.8M258.0 525.3L259.3 528.4M260.3 525.0L261.5 528.1M262.6 524.7L263.7 527.9M264.8 524.5L265.9 527.7M267.1 524.4L268.1 527.6M269.4 524.3L270.3 527.6M271.7 524.3L272.5 527.7M274.0 524.5L274.6 527.8M276.3 524.7L276.7 528.1M278.6 525.1L278.8 528.5M280.9 525.5L281.0 528.9M283.1 526.0L283.1 529.4M285.3 526.6L285.1 530.0M287.5 527.3L287.2 530.7M289.7 528.1L289.3 531.5M291.8 528.9L291.4 532.3M294.0 529.7L293.6 533.1M296.1 530.5L295.9 533.9M298.3 531.2L298.0 534.6M300.5 532.0L300.2 535.4M302.7 532.7L302.4 536.1M304.9 533.4L304.7 536.8M307.1 534.0L307.1 537.4M309.3 534.6L309.4 538.0M311.6 535.1L311.7 538.5M313.8 535.5L314.1 538.9M316.1 535.8L316.5 539.2M318.4 536.0L319.0 539.4M320.7 536.1L321.4 539.4M323.0 536.1L323.9 539.4M325.3 536.1L326.3 539.3M327.6 535.9L328.6 539.2M329.9 535.8L330.9 539.0M332.2 535.6L333.3 538.8M334.5 535.4L335.6 538.6M336.7 535.1L338.0 538.3M339.0 534.9L340.3 538.0M341.3 534.6L342.5 537.8" fill="none" stroke="#4a98cf" stroke-width="0.95"/>
<path d="M215.3 557.9L215.7 558.0L216.2 558.2L216.8 558.4L217.4 558.5L218.1 558.8L218.8 559.0L219.6 559.2L220.4 559.5L221.2 559.7L222.1 560.0L222.9 560.3L223.8 560.5L224.7 560.8L225.7 561.1L226.6 561.3L227.5 561.6L228.4 561.8L229.3 562.1L230.2 562.3L231.0 562.5L231.8 562.7L232.7 562.9L233.6 563.1L234.5 563.3L235.4 563.5L236.3 563.7L237.2 563.9L238.2 564.1L239.1 564.3L240.0 564.5L240.9 564.7L241.8 564.8L242.7 565.0L243.6 565.2L244.5 565.3L245.4 565.5L246.2 565.6L247.0 565.7L247.8 565.8L248.6 565.9L249.3 566.0L250.1 566.0L250.8 566.1L251.4 566.1L252.1 566.1L252.7 566.2L253.4 566.2L254.0 566.2L254.6 566.1L255.2 566.1L255.8 566.1L256.4 566.1L256.9 566.0L257.5 566.0L258.1 566.0L258.7 565.9L259.2 565.9L259.8 565.9L260.4 565.8L261.0 565.8L261.6 565.8L262.2 565.7L262.8 565.7L263.3 565.7L263.9 565.6L264.5 565.6L265.1 565.5L265.6 565.5L266.2 565.5L266.7 565.4L267.3 565.4L267.9 565.3L268.4 565.2L269.0 565.2L269.6 565.1L270.2 565.1L270.7 565.0L271.3 564.9L271.9 564.9L272.5 564.8L273.1 564.7L273.7 564.6L274.3 564.6L274.9 564.5L275.5 564.4L276.2 564.3L276.8 564.2L277.4 564.1L278.0 564.0L278.7 563.9L279.3 563.8L279.9 563.7L280.5 563.6L281.2 563.5L281.8 563.4L282.5 563.3L283.1 563.2L283.7 563.1L284.4 563.1L285.0 563.0L285.6 562.9L286.3 562.9L286.9 562.8L287.5 562.7L288.2 562.7L288.8 562.6L289.4 562.5L290.1 562.5L290.7 562.4L291.3 562.3L292.0 562.3L292.6 562.2L293.3 562.2L293.9 562.2L294.6 562.2L295.3 562.1L295.9 562.1L296.6 562.1L297.3 562.2L298.0 562.2L298.7 562.2L299.4 562.3L300.1 562.4L300.9 562.4L301.6 562.5L302.3 562.6L303.1 562.7L303.8 562.8L304.6 562.9L305.3 563.0L306.1 563.1L306.8 563.2L307.6 563.4L308.4 563.5L309.1 563.7L309.9 563.8L310.7 564.0L311.4 564.1L312.2 564.3L313.0 564.5L313.8 564.7L314.6 564.9L315.5 565.2L316.4 565.4L317.3 565.7L318.3 566.0L319.2 566.3L320.1 566.6L321.1 566.9L322.0 567.2L322.9 567.5L323.8 567.8L324.6 568.1L325.4 568.4L326.2 568.6L326.9 568.9L327.5 569.1L328.1 569.3L328.7 569.5L329.1 569.6" fill="none" stroke="#4a98cf" stroke-width="1.25" stroke-linecap="round"/><path d="M215.8 558.0L215.6 561.4M218.0 558.7L217.8 562.1M220.2 559.4L220.0 562.8M222.4 560.1L222.2 563.5M224.6 560.7L224.4 564.1M226.8 561.4L226.7 564.8M229.0 562.0L228.9 565.4M231.2 562.6L231.3 566.0M233.5 563.1L233.5 566.5M235.7 563.6L235.8 567.0M238.0 564.1L238.1 567.5M240.2 564.5L240.4 567.9M242.5 565.0L242.7 568.4M244.7 565.4L245.0 568.7M247.0 565.7L247.4 569.1M249.3 566.0L249.8 569.3M251.6 566.1L252.3 569.5M253.9 566.2L254.7 569.4M256.2 566.1L257.2 569.3M258.5 565.9L259.5 569.2M260.8 565.8L261.8 569.1M263.1 565.7L264.1 568.9M265.4 565.5L266.5 568.7M267.7 565.3L268.8 568.5M270.0 565.1L271.1 568.3M272.2 564.8L273.4 568.0M274.5 564.5L275.8 567.7M276.8 564.2L278.1 567.3M279.1 563.8L280.4 566.9M281.3 563.5L282.6 566.6M283.6 563.2L284.8 566.3M285.9 562.9L287.1 566.1M288.2 562.7L289.4 565.8M290.5 562.4L291.6 565.6M292.8 562.2L293.8 565.5M295.1 562.1L296.0 565.4M297.4 562.2L298.0 565.5M299.7 562.3L300.2 565.7M302.0 562.5L302.4 565.9M304.2 562.8L304.6 566.2M306.5 563.2L306.8 566.6M308.8 563.6L309.0 567.0M311.0 564.0L311.1 567.4M313.3 564.6L313.3 568.0M315.5 565.2L315.4 568.6M317.7 565.8L317.5 569.2M319.9 566.5L319.7 569.9M322.1 567.2L321.8 570.6M324.2 568.0L324.0 571.3M326.4 568.7L326.1 572.1M328.6 569.4L328.3 572.8" fill="none" stroke="#4a98cf" stroke-width="0.95"/>
<path d="M202.6 673.0L202.7 672.9L202.9 672.8L203.1 672.7L203.3 672.6L203.5 672.4L203.8 672.3L204.0 672.1L204.3 671.9L204.6 671.8L204.9 671.6L205.2 671.4L205.5 671.2L205.8 671.1L206.1 670.9L206.4 670.7L206.8 670.5L207.1 670.4L207.4 670.2L207.7 670.1L208.0 670.0L208.3 669.9L208.6 669.8L208.9 669.7L209.2 669.6L209.5 669.4L209.9 669.3L210.2 669.2L210.5 669.1L210.8 669.0L211.2 669.0L211.5 668.9L211.8 668.8L212.2 668.7L212.5 668.7L212.9 668.6L213.2 668.6L213.6 668.6L213.9 668.6L214.3 668.6L214.6 668.6L215.0 668.6L215.3 668.7L215.7 668.7L216.0 668.8L216.4 668.9L216.7 669.0L217.1 669.1L217.5 669.2L217.8 669.3L218.2 669.4L218.6 669.6L219.0 669.7L219.3 669.8L219.7 670.0L220.1 670.1L220.5 670.3L220.9 670.5L221.2 670.6L221.6 670.8L222.0 671.0L222.4 671.2L222.8 671.4L223.1 671.6L223.5 671.8L223.9 672.1L224.3 672.3L224.7 672.6L225.1 672.9L225.5 673.1L225.8 673.4L226.2 673.7L226.6 673.9L227.0 674.2L227.4 674.4L227.8 674.7L228.2 674.9L228.6 675.1L229.1 675.3L229.5 675.5L229.9 675.7L230.3 675.9L230.8 676.0L231.2 676.1L231.6 676.3L232.1 676.4L232.5 676.5L233.0 676.6L233.4 676.7L233.9 676.8L234.3 676.9L234.8 676.9L235.2 677.0L235.7 677.0L236.2 677.1L236.6 677.1L237.1 677.2L237.6 677.2L238.0 677.3L238.5 677.3L239.0 677.3L239.5 677.3L240.0 677.3L240.6 677.3L241.1 677.3L241.7 677.2L242.3 677.2L242.9 677.1L243.5 677.1L244.1 677.0L244.7 676.9L245.2 676.9L245.8 676.8L246.3 676.7L246.9 676.7L247.3 676.6L247.8 676.6L248.2 676.5L248.6 676.5L248.9 676.4L249.2 676.4" fill="none" stroke="#4a98cf" stroke-width="1.6" stroke-linecap="round"/><path d="M203.0 672.7L206.4 676.1M206.0 670.9L209.3 674.4M209.2 669.6L211.8 673.5M212.6 668.7L214.4 673.1M216.1 668.8L216.2 673.6M219.4 669.9L218.8 674.6M222.6 671.3L221.5 675.9M225.6 673.2L223.9 677.6M228.5 675.1L227.4 679.7M231.8 676.3L231.7 681.0M235.2 677.0L235.7 681.7M238.7 677.3L239.7 681.9M242.2 677.2L243.7 681.7M245.7 676.8L247.4 681.3M249.2 676.4L250.7 680.9" fill="none" stroke="#4a98cf" stroke-width="1.15"/>
<path d="M298.5 669.7L298.7 669.8L298.8 669.9L299.0 670.0L299.2 670.1L299.5 670.2L299.7 670.4L300.0 670.5L300.3 670.7L300.6 670.9L300.9 671.0L301.2 671.2L301.5 671.4L301.8 671.5L302.2 671.7L302.5 671.8L302.8 672.0L303.1 672.1L303.4 672.3L303.7 672.4L304.0 672.5L304.3 672.6L304.6 672.7L304.8 672.8L305.1 672.9L305.4 673.0L305.7 673.1L306.0 673.1L306.3 673.2L306.6 673.3L306.9 673.4L307.1 673.4L307.4 673.5L307.7 673.5L308.0 673.6L308.3 673.6L308.6 673.6L308.9 673.7L309.2 673.7L309.5 673.7L309.8 673.7L310.1 673.7L310.4 673.7L310.7 673.7L311.0 673.6L311.3 673.6L311.6 673.5L311.9 673.5L312.2 673.4L312.5 673.4L312.8 673.3L313.1 673.2L313.4 673.1L313.7 673.1L314.1 673.0L314.4 672.9L314.7 672.8L315.0 672.7L315.3 672.7L315.7 672.6L316.0 672.5L316.3 672.4L316.7 672.3L317.0 672.3L317.3 672.2L317.7 672.1L318.0 672.0L318.3 671.9L318.7 671.8L319.0 671.7L319.4 671.6L319.7 671.5L320.1 671.4L320.4 671.3L320.8 671.2L321.2 671.2L321.6 671.1L321.9 671.0L322.3 670.9L322.7 670.9L323.1 670.8L323.5 670.7L323.9 670.7L324.3 670.7L324.7 670.6L325.2 670.6L325.6 670.5L326.0 670.5L326.5 670.5L326.9 670.5L327.3 670.4L327.8 670.4L328.2 670.4L328.7 670.4L329.2 670.4L329.6 670.4L330.1 670.3L330.6 670.3L331.0 670.3L331.5 670.3L332.0 670.3L332.5 670.3L333.0 670.3L333.6 670.3L334.2 670.3L334.7 670.3L335.3 670.3L335.9 670.3L336.6 670.3L337.2 670.3L337.8 670.3L338.3 670.3L338.9 670.3L339.5 670.3L340.0 670.4L340.5 670.4L341.0 670.4L341.4 670.4L341.8 670.4L342.1 670.4L342.4 670.4" fill="none" stroke="#4a98cf" stroke-width="1.6" stroke-linecap="round"/><path d="M298.9 669.9L297.7 674.5M302.0 671.6L301.0 676.2M305.3 672.9L305.0 677.7M308.7 673.6L309.4 678.3M312.1 673.4L314.2 677.7M315.6 672.6L317.7 676.8M318.9 671.7L321.3 675.9M322.3 670.9L324.2 675.3M325.8 670.5L327.3 675.0M329.3 670.4L330.6 674.9M332.8 670.3L334.0 674.9M336.3 670.3L337.4 674.9M339.8 670.4L340.9 675.0" fill="none" stroke="#4a98cf" stroke-width="1.15"/>
<path d="M249.6 698.7L249.8 698.7L249.9 698.6L250.2 698.5L250.4 698.4L250.6 698.4L250.9 698.3L251.2 698.2L251.5 698.1L251.8 698.0L252.2 697.9L252.5 697.8L252.8 697.7L253.2 697.6L253.5 697.5L253.9 697.4L254.2 697.3L254.5 697.2L254.9 697.1L255.2 697.1L255.5 697.0L255.8 697.0L256.1 696.9L256.4 696.9L256.7 696.8L257.0 696.8L257.3 696.7L257.6 696.7L257.9 696.7L258.2 696.6L258.5 696.6L258.8 696.6L259.1 696.6L259.4 696.6L259.8 696.6L260.1 696.6L260.4 696.6L260.8 696.6L261.1 696.6L261.5 696.7L261.9 696.7L262.3 696.7L262.7 696.8L263.1 696.9L263.5 696.9L263.9 697.0L264.4 697.1L264.8 697.2L265.3 697.3L265.7 697.4L266.2 697.5L266.6 697.6L267.1 697.7L267.6 697.9L268.1 698.0L268.5 698.1L269.0 698.3L269.5 698.4L270.0 698.5L270.5 698.7L271.0 698.8L271.5 698.9L272.0 699.1L272.6 699.3L273.1 699.5L273.7 699.6L274.3 699.8L274.9 700.0L275.5 700.2L276.0 700.4L276.6 700.6L277.2 700.8L277.8 701.0L278.4 701.2L278.9 701.4L279.5 701.6L280.0 701.8L280.5 701.9L281.0 702.1L281.5 702.2L281.9 702.3L282.3 702.4L282.7 702.5L283.1 702.6L283.4 702.6L283.8 702.7L284.1 702.7L284.4 702.8L284.7 702.8L285.0 702.8L285.3 702.9L285.5 702.9L285.8 702.9L286.1 702.9L286.3 702.9L286.6 702.9L286.9 702.9L287.1 703.0L287.4 703.0L287.7 703.0L288.0 703.0L288.3 703.0L288.6 703.0L288.9 703.0L289.3 703.0L289.6 703.0L289.9 703.1L290.3 703.1L290.6 703.1L291.0 703.0L291.3 703.0L291.6 703.0L291.9 703.0L292.2 703.0L292.5 703.0L292.8 703.0L293.0 703.0L293.2 703.0L293.5 703.0L293.6 703.0L293.8 703.0" fill="none" stroke="#4a98cf" stroke-width="1.6" stroke-linecap="round"/><path d="M250.1 698.6L252.6 702.6M253.4 697.5L255.8 701.6M256.8 696.8L258.6 701.2M260.3 696.6L261.3 701.2M263.8 697.0L264.1 701.7M267.2 697.8L267.2 702.5M270.6 698.7L270.5 703.4M273.9 699.7L273.6 704.4M277.2 700.8L276.9 705.6M280.6 701.9L280.4 706.7M284.0 702.7L284.4 707.4M287.5 703.0L288.4 707.6M291.0 703.0L292.2 707.6" fill="none" stroke="#4a98cf" stroke-width="1.15"/>
<path d="M212.0 753.6L212.3 753.5L212.7 753.5L213.1 753.4L213.6 753.3L214.1 753.2L214.7 753.2L215.3 753.1L215.9 753.0L216.5 752.9L217.2 752.8L217.9 752.6L218.6 752.5L219.3 752.4L220.0 752.3L220.7 752.2L221.4 752.0L222.1 751.9L222.7 751.8L223.4 751.6L224.0 751.5L224.6 751.4L225.3 751.2L225.9 751.0L226.5 750.9L227.2 750.7L227.8 750.5L228.5 750.3L229.2 750.1L229.8 750.0L230.5 749.8L231.1 749.6L231.8 749.4L232.4 749.2L233.0 749.1L233.7 748.9L234.3 748.8L234.9 748.6L235.5 748.5L236.0 748.4L236.6 748.3L237.1 748.2L237.7 748.2L238.2 748.1L238.7 748.1L239.2 748.0L239.6 748.0L240.1 748.0L240.6 748.0L241.0 748.0L241.5 748.0L241.9 748.0L242.4 748.1L242.8 748.1L243.2 748.1L243.7 748.1L244.1 748.2L244.6 748.2L245.1 748.2L245.5 748.3L246.0 748.3L246.5 748.3L247.0 748.4L247.6 748.4L248.1 748.5L248.7 748.6L249.2 748.6L249.8 748.7L250.4 748.8L251.0 748.9L251.5 748.9L252.1 749.0L252.6 749.1L253.1 749.2L253.6 749.3L254.1 749.3L254.5 749.4L254.9 749.5L255.3 749.5L255.6 749.6L255.9 749.6" fill="none" stroke="#4a98cf" stroke-width="1.6" stroke-linecap="round"/><path d="M212.5 753.5L214.4 757.9M215.9 753.0L217.8 757.3M219.4 752.4L221.3 756.7M222.8 751.7L224.9 756.0M226.3 751.0L228.5 755.1M229.6 750.0L232.0 754.1M233.0 749.1L235.3 753.2M236.4 748.3L238.3 752.7M239.9 748.0L241.2 752.6M243.4 748.1L244.2 752.8M246.9 748.4L247.6 753.1M250.4 748.8L250.9 753.5M253.8 749.3L254.3 754.0" fill="none" stroke="#4a98cf" stroke-width="1.15"/>
<path d="M302.5 736.9L302.6 736.9L302.8 736.8L302.9 736.8L303.1 736.7L303.3 736.7L303.5 736.6L303.7 736.5L303.9 736.5L304.2 736.4L304.4 736.3L304.7 736.2L304.9 736.2L305.2 736.1L305.4 736.0L305.7 736.0L306.0 735.9L306.2 735.8L306.5 735.8L306.7 735.7L307.0 735.7L307.2 735.7L307.5 735.6L307.7 735.6L308.0 735.6L308.2 735.5L308.5 735.5L308.7 735.4L309.0 735.4L309.2 735.4L309.5 735.4L309.8 735.3L310.0 735.3L310.3 735.3L310.6 735.3L310.9 735.4L311.2 735.4L311.5 735.4L311.8 735.5L312.2 735.5L312.5 735.6L312.9 735.7L313.2 735.8L313.6 735.9L314.0 736.0L314.4 736.2L314.8 736.3L315.2 736.5L315.6 736.6L316.0 736.8L316.5 737.0L316.9 737.1L317.3 737.3L317.8 737.5L318.2 737.7L318.7 737.9L319.1 738.1L319.6 738.4L320.1 738.6L320.5 738.8L321.0 739.0L321.5 739.2L322.0 739.5L322.4 739.7L323.0 740.0L323.5 740.3L324.0 740.5L324.5 740.8L325.0 741.1L325.6 741.4L326.1 741.7L326.6 742.0L327.1 742.3L327.7 742.6L328.2 742.9L328.7 743.1L329.2 743.4L329.7 743.6L330.2 743.9L330.6 744.1L331.1 744.3L331.5 744.5L332.0 744.7L332.4 744.8L332.8 745.0L333.2 745.1L333.6 745.3L334.0 745.4L334.4 745.5L334.8 745.6L335.1 745.7L335.5 745.8L335.9 745.9L336.3 746.0L336.6 746.1L337.0 746.2L337.4 746.3L337.8 746.4L338.2 746.4L338.6 746.5L339.0 746.6L339.4 746.7L339.9 746.8L340.4 746.8L340.8 746.9L341.3 747.0L341.9 747.0L342.4 747.1L342.9 747.1L343.4 747.2L343.9 747.2L344.4 747.3L344.9 747.3L345.3 747.4L345.8 747.4L346.2 747.5L346.6 747.5L346.9 747.5L347.3 747.5L347.6 747.6L347.8 747.6" fill="none" stroke="#4a98cf" stroke-width="1.6" stroke-linecap="round"/><path d="M303.0 736.8L305.5 740.8M306.3 735.8L308.4 740.1M309.8 735.3L311.1 739.9M313.3 735.8L313.0 740.5M316.6 737.0L315.8 741.7M319.8 738.4L318.9 743.1M322.9 740.0L321.8 744.6M326.0 741.6L324.7 746.2M329.0 743.3L327.9 747.9M332.2 744.8L331.6 749.5M335.6 745.8L335.5 750.6M339.0 746.6L339.2 751.3M342.4 747.1L343.1 751.8M345.9 747.4L346.7 752.1" fill="none" stroke="#4a98cf" stroke-width="1.15"/>
<g transform="translate(479.1 543.3) rotate(45)"><circle cx="-19.0" cy="0.0" r="8.5" fill="#9a3252"/><circle cx="-13.0" cy="-3.0" r="9.5" fill="#9a3252"/><circle cx="-6.0" cy="1.0" r="10.5" fill="#9a3252"/><circle cx="0.0" cy="-1.0" r="10.5" fill="#9a3252"/><circle cx="7.0" cy="1.0" r="10.5" fill="#9a3252"/><circle cx="13.0" cy="2.0" r="9.5" fill="#9a3252"/><circle cx="19.0" cy="0.0" r="8.5" fill="#9a3252"/><circle cx="-16.0" cy="4.0" r="7.0" fill="#9a3252"/><circle cx="16.0" cy="-4.0" r="7.0" fill="#9a3252"/><circle cx="4.0" cy="5.0" r="8.0" fill="#9a3252"/><circle cx="-8.0" cy="-5.0" r="8.0" fill="#9a3252"/><circle cx="-16.2" cy="-1.0" r="4.7" fill="#ab4867" fill-opacity="0.55"/><circle cx="-5.8" cy="-0.2" r="5.8" fill="#ab4867" fill-opacity="0.55"/><circle cx="4.6" cy="-0.2" r="5.8" fill="#ab4867" fill-opacity="0.55"/><circle cx="14.2" cy="-1.0" r="4.7" fill="#ab4867" fill-opacity="0.55"/><circle cx="11.8" cy="-4.2" r="3.9" fill="#ab4867" fill-opacity="0.55"/><circle cx="-7.4" cy="-5.0" r="4.4" fill="#ab4867" fill-opacity="0.55"/></g>
<g transform="translate(511.9 525.3) rotate(0)"><circle cx="0.0" cy="0.0" r="13.0" fill="#3a4d72"/><circle cx="-10.0" cy="-3.0" r="8.0" fill="#3a4d72"/><circle cx="-14.0" cy="4.0" r="6.0" fill="#3a4d72"/><circle cx="8.0" cy="-8.0" r="9.0" fill="#3a4d72"/><circle cx="12.0" cy="0.0" r="9.0" fill="#3a4d72"/><circle cx="10.0" cy="9.0" r="8.0" fill="#3a4d72"/><circle cx="2.0" cy="10.0" r="8.0" fill="#3a4d72"/><circle cx="-5.0" cy="8.0" r="8.0" fill="#3a4d72"/><circle cx="-2.0" cy="-11.0" r="8.0" fill="#3a4d72"/><circle cx="14.0" cy="-10.0" r="5.0" fill="#3a4d72"/><circle cx="-15.0" cy="-2.0" r="5.0" fill="#3a4d72"/><circle cx="13.0" cy="13.0" r="5.0" fill="#3a4d72"/><circle cx="-1.0" cy="-1.0" r="7.2" fill="#475c84" fill-opacity="0.55"/><circle cx="-12.2" cy="2.2" r="3.3" fill="#475c84" fill-opacity="0.55"/><circle cx="8.6" cy="-1.0" r="5.0" fill="#475c84" fill-opacity="0.55"/><circle cx="0.6" cy="7.0" r="4.4" fill="#475c84" fill-opacity="0.55"/><circle cx="-2.6" cy="-9.8" r="4.4" fill="#475c84" fill-opacity="0.55"/><circle cx="-13.0" cy="-2.6" r="2.8" fill="#475c84" fill-opacity="0.55"/></g>
<g transform="translate(551.1 543.3) rotate(0)"><circle cx="0.0" cy="0.0" r="17.0" fill="#326b66"/><circle cx="-10.0" cy="-8.0" r="8.0" fill="#326b66"/><circle cx="8.0" cy="-11.0" r="8.0" fill="#326b66"/><circle cx="13.0" cy="2.0" r="8.0" fill="#326b66"/><circle cx="8.0" cy="12.0" r="8.0" fill="#326b66"/><circle cx="-6.0" cy="13.0" r="8.0" fill="#326b66"/><circle cx="-14.0" cy="3.0" r="7.0" fill="#326b66"/><circle cx="0.0" cy="-14.0" r="6.0" fill="#326b66"/><circle cx="15.0" cy="-6.0" r="6.0" fill="#326b66"/><circle cx="-12.0" cy="10.0" r="6.0" fill="#326b66"/><circle cx="-1.0" cy="-1.0" r="9.4" fill="#3d7c76" fill-opacity="0.55"/><circle cx="5.4" cy="-9.8" r="4.4" fill="#3d7c76" fill-opacity="0.55"/><circle cx="5.4" cy="8.6" r="4.4" fill="#3d7c76" fill-opacity="0.55"/><circle cx="-12.2" cy="1.4" r="3.9" fill="#3d7c76" fill-opacity="0.55"/><circle cx="11.0" cy="-5.8" r="3.3" fill="#3d7c76" fill-opacity="0.55"/></g>
<g transform="translate(515.1 577.4) rotate(0)"><circle cx="0.0" cy="0.0" r="13.0" fill="#9b6dc4"/><circle cx="-8.0" cy="-8.0" r="7.0" fill="#9b6dc4"/><circle cx="4.0" cy="-12.0" r="7.0" fill="#9b6dc4"/><circle cx="10.0" cy="-8.0" r="7.0" fill="#9b6dc4"/><circle cx="12.0" cy="0.0" r="6.0" fill="#9b6dc4"/><circle cx="6.0" cy="10.0" r="8.0" fill="#9b6dc4"/><circle cx="-4.0" cy="12.0" r="8.0" fill="#9b6dc4"/><circle cx="-12.0" cy="8.0" r="6.0" fill="#9b6dc4"/><circle cx="-12.0" cy="0.0" r="6.0" fill="#9b6dc4"/><circle cx="14.0" cy="-12.0" r="4.0" fill="#9b6dc4"/><circle cx="-2.0" cy="-18.0" r="3.5" fill="#9b6dc4"/><circle cx="-15.0" cy="10.0" r="4.0" fill="#9b6dc4"/><circle cx="0.0" cy="17.0" r="5.0" fill="#9b6dc4"/><circle cx="-1.0" cy="-1.0" r="7.2" fill="#ab80d2" fill-opacity="0.55"/><circle cx="2.2" cy="-10.6" r="3.9" fill="#ab80d2" fill-opacity="0.55"/><circle cx="8.6" cy="-1.0" r="3.3" fill="#ab80d2" fill-opacity="0.55"/><circle cx="-4.2" cy="8.6" r="4.4" fill="#ab80d2" fill-opacity="0.55"/><circle cx="-10.6" cy="-1.0" r="3.3" fill="#ab80d2" fill-opacity="0.55"/><circle cx="-2.6" cy="-15.4" r="1.9" fill="#ab80d2" fill-opacity="0.55"/><circle cx="-1.0" cy="12.6" r="2.8" fill="#ab80d2" fill-opacity="0.55"/></g>
<path d="M458.6 670.6 Q467.6 662.9 474.6 668.7M483.0 672.5 Q490.1 680.2 481.7 691.2 Q474.6 702.1 480.4 711.1 Q484.3 716.2 479.8 721.4M504.2 672.5 L491.3 687.9M450.8 678.3 Q455.3 680.2 456.0 684.1M526.7 671.2 Q528.0 676.4 529.3 680.2M539.5 675.1 Q537.6 666.1 544.7 665.8 Q549.8 666.3 549.8 671.2M556.9 675.7 Q565.9 675.1 563.3 684.1M572.3 685.4 L577.5 680.2M583.9 689.2 Q591.6 695.7 587.1 704.0M447.6 696.9 Q444.4 688.6 454.7 691.2M510.0 693.1 Q513.2 682.2 522.8 691.2M515.8 697.6 Q514.5 694.4 517.7 693.1M538.3 694.4 Q549.8 690.5 562.7 691.8M547.2 685.4 Q548.5 693.1 550.5 698.9M539.5 685.4 Q543.4 688.6 547.2 686.7M529.3 696.9 L535.0 700.2M462.4 693.1 Q460.9 705.9 465.0 716.2M456.0 714.9 Q459.8 708.5 468.8 704.0M442.1 705.9 Q433.5 707.2 437.4 713.7 Q440.6 717.8 447.2 714.9M495.8 696.9 Q505.1 698.0 504.3 705.9 Q503.5 710.1 501.0 712.4M480.4 695.7 Q484.3 691.2 486.8 696.3 Q488.1 702.3 482.3 702.1 Q478.5 700.8 480.4 695.7M533.1 708.5 Q547.2 714.3 555.0 707.9 Q561.4 704.0 567.8 709.8 Q574.2 716.5 582.6 713.0M551.1 711.1 Q549.2 714.9 553.0 716.2 Q556.9 714.9 555.0 710.4M566.5 721.4 L582.6 733.6M441.2 726.5 Q446.3 726.8 450.8 724.6M467.6 724.2 L471.0 719.8M488.1 729.7 Q502.3 728.0 511.9 722.0M525.4 718.1 Q525.1 734.2 533.1 741.9M542.1 730.4 Q549.8 735.8 555.0 730.6 Q557.5 727.8 557.5 725.2M462.4 732.3 Q452.8 734.2 455.3 741.9 Q458.8 748.6 467.6 739.4" fill="none" stroke="#2f5478" stroke-width="4.0" stroke-linecap="round" stroke-linejoin="round"/>
<path d="M187.6 891.6 Q187.6 888.6 190.9 886.7 L210.6 876.3 Q212.4 875.0 215.5 875.0 L249.9 875.7 L256.1 926.1 L261.6 1009.1 L224.7 1012.1 Q222.3 1012.4 219.8 1010.3 L189.7 990.6 Q187.6 989.4 187.6 986.9 Z" fill="#dde0e4" stroke="#55585c" stroke-width="1" stroke-linejoin="round"/>
<path d="M187.6 891.6 Q187.6 888.6 190.9 886.7 L202.6 880.3 Q206.3 878.4 206.4 882.4 L211.2 997.4 Q211.4 1002.3 208.1 1002.1 L189.7 990.6 Q187.6 989.4 187.6 986.9 Z" fill="#b8babd"/>
<path d="M190.3 892.9 L202.6 891.6M190.3 895.3 L202.6 894.1M190.3 897.8 L202.6 896.6M190.3 900.2 L202.6 899.0M190.3 902.7 L202.6 901.5M190.3 905.2 L202.6 903.9M190.3 907.6 L202.6 906.4M190.3 910.1 L202.6 908.9M190.3 912.5 L202.6 911.3M190.3 962.3 L209.1 968.5M190.3 964.8 L209.1 970.9M190.3 967.3 L209.1 973.4M190.3 969.7 L209.1 975.9M190.3 972.2 L209.1 978.3M190.3 974.6 L209.1 980.8M190.3 977.1 L209.1 983.2M190.3 979.6 L209.1 985.7M190.3 982.0 L209.1 988.2M190.3 984.5 L209.1 990.6M190.3 986.9 L209.1 993.1M190.3 989.4 L209.1 995.5M190.3 991.9 L209.1 998.0" stroke="#8d9093" stroke-width="0.9" fill="none"/>
<path d="M237.4 875.0 L254.8 863.1 L256.1 876.9 L249.9 875.9 Z" fill="#3c3a3c"/>
<path d="M250.5 868.3 Q250.2 863.4 256.1 863.0 L326.2 865.2 Q332.9 865.6 333.5 871.4 L337.8 921.4 L255.1 921.4 Z" fill="#4b484a" stroke="#55585c" stroke-width="0.8" stroke-linejoin="round"/>
<path d="M263.4 869.5 L320.3 872.0 L324.7 915.0 L267.1 915.0 Z" fill="#e6f2f6" stroke="#f7fbfc" stroke-width="1" stroke-linejoin="round"/>
<path d="M280.7 915.0 L311.4 871.4 L320.3 872.0 L324.7 915.0 Z" fill="#dceef3"/>
<path d="M255.1 920.5 L337.8 920.5 L338.1 922.7 L255.3 922.7 Z" fill="#9fe0dc"/>
<path d="M216.1 930.4 Q215.7 924.6 221.6 924.2 L358.7 923.9 L359.4 1001.1 L316.9 1005.0 L233.9 1005.7 Q227.8 1005.7 224.1 1001.1 Q221.6 998.6 221.0 992.5 Z" fill="#3b393b"/>
<path d="M228.8 931.6 Q228.8 924.8 235.2 924.6 L358.7 924.1 L359.4 1001.1 L316.9 1005.0 L234.6 1005.7 Q230.2 1005.7 230.0 1001.1 Z" fill="#4b484a" stroke="#55585c" stroke-width="0.8" stroke-linejoin="round"/>
<path d="M315.1 924.6 L358.7 924.1 L359.4 1001.1 L316.9 1005.0 L270.8 1005.5 Z" fill="#555254"/>
<path d="M229.3 934.1 L358.9 931.6 M316.9 933.4 L316.9 1005.0" stroke="#3a383a" stroke-width="0.9" fill="none"/>
<circle cx="236.8" cy="929.5" r="2.3" fill="none" stroke="#5fb5ad" stroke-width="0.9"/>
<path d="M221.0 1011.9 L232.7 1011.6 L232.5 1014.4 Q226.6 1015.6 221.4 1014.4 Z" fill="#2e2c2e"/>
<path d="M322.5 1005.4 L333.8 1004.5 L333.5 1007.2 Q328.0 1008.4 322.7 1007.5 Z" fill="#2e2c2e"/>
<path d="M198.0 995.9 L200.7 997.6 L200.5 999.2 L198.0 998.0 Z" fill="#2e2c2e"/>
<path d="M525.3 847.9 L530.2 843.0 L530.2 1031.7 L525.3 1030.5 Z" fill="#c6c6c8"/>
<path d="M530.2 843.0 L620.0 843.0 Q620.8 843.0 620.8 843.9 L620.8 1031.7 L530.2 1031.7 Z" fill="#dadadb" stroke="#a9a9ab" stroke-width="0.8" stroke-linejoin="round"/>
<path d="M596.6 849.5 Q596.6 848.5 597.6 848.5 L613.2 848.5 Q614.2 848.5 614.2 849.5 L614.2 856.1 Q614.2 857.1 613.2 857.1 L597.6 857.1 Q596.6 857.1 596.6 856.1 Z" fill="#bebec1" stroke="#9c9c9f" stroke-width="0.8" stroke-linejoin="round"/>
<path d="M549.9 864.5 L600.7 864.5 Q605.2 864.8 605.2 869.1 Q605.2 873.5 600.7 873.7 L549.9 873.7 Q545.3 873.5 545.3 869.1 Q545.3 864.8 549.9 864.5 Z" fill="#c2c2c4" stroke="#a2a2a5" stroke-width="0.8" stroke-linejoin="round"/>
<path d="M560.9 867.2 L565.3 867.2 M569.6 867.2 L572.0 867.2 M575.7 867.2 L578.2 867.2 M581.9 867.2 L584.3 867.2 M588.0 867.2 L590.5 867.2" stroke="#8e8e91" stroke-width="1.2" fill="none"/>
<path d="M539.4 898.0 Q539.4 896.5 540.9 896.5 L621.8 897.1 L621.8 1033.9 Q621.8 1035.4 620.3 1035.4 L543.7 1035.7 L539.4 1031.7 Z" fill="#e6e6e7" stroke="#a9a9ab" stroke-width="0.8" stroke-linejoin="round"/>
<path d="M539.4 898.0 Q539.4 896.5 540.9 896.5 L542.9 896.5 L542.9 1034.8 L539.4 1031.7 Z" fill="#cdcdcf"/>
<path d="M610.7 897.1 L621.8 897.1 L621.8 1033.9 Q621.8 1035.2 620.3 1035.2 L597.0 1035.2 Q607.1 982.5 610.7 897.1 Z" fill="#9db9e3"/>
<path d="M441.7 891.8 Q441.7 889.7 446.0 889.1 L525.9 889.1 L529.0 892.2 L529.0 1031.7 L517.9 1029.9 L517.9 896.5 L441.7 896.5 Z" fill="#d6d6d8" stroke="#a9a9ab" stroke-width="0.8" stroke-linejoin="round"/>
<path d="M441.7 891.8 Q441.7 889.7 446.0 889.1 L525.9 889.1 L528.4 891.8 L528.4 895.9 L441.7 895.9 Z" fill="#ececed"/>
<path d="M440.5 896.2 L517.9 895.9 L517.9 1029.9 L441.7 1029.9 Q440.5 1029.9 440.5 1028.7 Z" fill="#e5e5e6" stroke="#a9a9ab" stroke-width="0.8" stroke-linejoin="round"/>
<path d="M440.5 896.5 L452.5 896.5 Q454.0 970.3 463.0 1029.9 L441.7 1029.9 Q440.5 1029.9 440.5 1028.7 Z" fill="#9db9e3"/>
<path d="M464.4 937.1 Q464.4 933.4 468.1 933.4 L508.7 933.4 Q512.4 933.4 512.4 937.1 Q512.6 958.0 506.2 980.1 C500.7 998.5 494.6 1008.6 488.4 1008.9 C482.3 1008.6 476.1 998.5 470.6 980.1 Q464.2 958.0 464.4 937.1 Z" fill="#8f8f92" stroke="#555558" stroke-width="1" stroke-linejoin="round"/>
<path d="M471.2 981.3 L505.6 981.3 C500.3 998.5 494.3 1008.1 488.4 1008.2 C482.5 1008.1 476.5 998.5 471.2 981.3 Z" fill="#b4b4b6"/>
<path d="M472.4 950.6 Q472.4 946.3 476.7 946.3 L500.7 946.3 Q505.0 946.3 505.0 950.6 L505.0 967.8 Q505.0 972.7 498.9 974.6 Q488.8 977.0 478.6 974.6 Q472.4 972.7 472.4 967.8 Z" fill="#a9a9ab" stroke="#6e6e71" stroke-width="0.8" stroke-linejoin="round"/>
<path d="M479.2 954.9 Q479.2 953.0 481.0 953.0 L496.4 953.0 Q498.2 953.0 498.2 954.9 L498.2 962.9 Q498.2 965.1 495.8 965.3 L481.6 965.3 Q479.2 965.1 479.2 962.9 Z" fill="#78787b"/>
<circle cx="488.8" cy="959.2" r="6.3" fill="#8b8b8e" stroke="#f2f2f2" stroke-width="1"/>
<circle cx="488.8" cy="959.2" r="3.8" fill="#b9b9bb"/><circle cx="488.8" cy="959.2" r="1.2" fill="#fff"/>
<path d="M466.9 941.4 L475.5 941.4 L475.5 943.8 L466.9 943.8 Z" fill="#4a4a4d"/>
<path d="M484.7 935.2 L493.3 935.2 L491.5 946.3 L486.6 946.3 Z" fill="#6a6a6d" stroke="#444" stroke-width="0.6" stroke-linejoin="round"/>
<ellipse cx="475.2" cy="950.0" rx="1.2" ry="1.8" fill="#333"/>
<ellipse cx="502.3" cy="950.0" rx="1.2" ry="1.8" fill="#333"/>
<ellipse cx="472.4" cy="923.5" rx="9.2" ry="10.8" fill="none" stroke="#5a5a5d" stroke-width="0.9" transform="rotate(0 472.4 923.5)"/>
<ellipse cx="481.6" cy="929.1" rx="7.6" ry="12.3" fill="none" stroke="#5a5a5d" stroke-width="0.9" transform="rotate(0 481.6 929.1)"/>
<ellipse cx="487.5" cy="924.1" rx="6.4" ry="13.8" fill="none" stroke="#5a5a5d" stroke-width="0.9" transform="rotate(0 487.5 924.1)"/>
<ellipse cx="494.9" cy="917.6" rx="7.6" ry="14.5" fill="none" stroke="#5a5a5d" stroke-width="0.9" transform="rotate(12 494.9 917.6)"/>
<circle cx="488.8" cy="932.7" r="1.3" fill="#9b2c2c"/>
<circle cx="492.7" cy="930.9" r="1.3" fill="#3c8c4c"/>
<circle cx="485.1" cy="931.2" r="1.3" fill="#3c8c8c"/>
<path d="M494.9 928.4 L497.6 929.1 L497.0 932.7 L494.3 932.1 Z" fill="#444"/>
<rect x="265.1" y="1172.2" width="21.3" height="13.9" fill="#e56a45"/>
<rect x="287.4" y="1172.2" width="21.3" height="13.9" fill="#eba04b"/>
<rect x="309.7" y="1172.2" width="21.3" height="13.9" fill="#ebcd55"/>
<rect x="331.9" y="1172.2" width="21.3" height="13.9" fill="#e56a45"/>
<rect x="354.2" y="1172.2" width="21.3" height="13.9" fill="#c5ea50"/>
<text x="380.8" y="1180.2" font-size="5.5" fill="#222">Label A</text>
<rect x="265.1" y="1187.1" width="21.3" height="13.9" fill="#e38a48"/>
<rect x="287.4" y="1187.1" width="21.3" height="13.9" fill="#dcee58"/>
<rect x="309.7" y="1187.1" width="21.3" height="13.9" fill="#e8de58"/>
<rect x="331.9" y="1187.1" width="21.3" height="13.9" fill="#ebcd55"/>
<rect x="354.2" y="1187.1" width="21.3" height="13.9" fill="#dcee58"/>
<text x="380.8" y="1195.1" font-size="5.5" fill="#222">Label B</text>
<rect x="265.1" y="1202.1" width="21.3" height="13.9" fill="#de463c"/>
<rect x="287.4" y="1202.1" width="21.3" height="13.9" fill="#e56a45"/>
<rect x="309.7" y="1202.1" width="21.3" height="13.9" fill="#eba04b"/>
<rect x="331.9" y="1202.1" width="21.3" height="13.9" fill="#e38a48"/>
<rect x="354.2" y="1202.1" width="21.3" height="13.9" fill="#67a835"/>
<text x="380.8" y="1210.1" font-size="5.5" fill="#222">Label C</text>
<rect x="265.1" y="1217.0" width="21.3" height="13.9" fill="#de463c"/>
<rect x="287.4" y="1217.0" width="21.3" height="13.9" fill="#de463c"/>
<rect x="309.7" y="1217.0" width="21.3" height="13.9" fill="#ebcd55"/>
<rect x="331.9" y="1217.0" width="21.3" height="13.9" fill="#e38a48"/>
<rect x="354.2" y="1217.0" width="21.3" height="13.9" fill="#c5ea50"/>
<text x="380.8" y="1225.0" font-size="5.5" fill="#222">Label D</text>
<rect x="265.1" y="1232.0" width="21.3" height="13.9" fill="#de463c"/>
<rect x="287.4" y="1232.0" width="21.3" height="13.9" fill="#de463c"/>
<rect x="309.7" y="1232.0" width="21.3" height="13.9" fill="#ebcd55"/>
<rect x="331.9" y="1232.0" width="21.3" height="13.9" fill="#ebcd55"/>
<rect x="354.2" y="1232.0" width="21.3" height="13.9" fill="#e8de58"/>
<text x="380.8" y="1239.9" font-size="5.5" fill="#222">Label E</text>
<rect x="265.1" y="1246.9" width="21.3" height="13.9" fill="#ebcd55"/>
<rect x="287.4" y="1246.9" width="21.3" height="13.9" fill="#e56a45"/>
<rect x="309.7" y="1246.9" width="21.3" height="13.9" fill="#9ce033"/>
<rect x="331.9" y="1246.9" width="21.3" height="13.9" fill="#e8de58"/>
<rect x="354.2" y="1246.9" width="21.3" height="13.9" fill="#e38a48"/>
<text x="380.8" y="1254.9" font-size="5.5" fill="#222">Label F</text>
<rect x="265.1" y="1261.8" width="21.3" height="13.9" fill="#67a835"/>
<rect x="287.4" y="1261.8" width="21.3" height="13.9" fill="#e8de58"/>
<rect x="309.7" y="1261.8" width="21.3" height="13.9" fill="#c5ea50"/>
<rect x="331.9" y="1261.8" width="21.3" height="13.9" fill="#e8de58"/>
<rect x="354.2" y="1261.8" width="21.3" height="13.9" fill="#eba04b"/>
<text x="380.8" y="1269.8" font-size="5.5" fill="#222">Label G</text>
<rect x="265.1" y="1276.8" width="21.3" height="13.9" fill="#67a835"/>
<rect x="287.4" y="1276.8" width="21.3" height="13.9" fill="#9ce033"/>
<rect x="309.7" y="1276.8" width="21.3" height="13.9" fill="#67a835"/>
<rect x="331.9" y="1276.8" width="21.3" height="13.9" fill="#e8de58"/>
<rect x="354.2" y="1276.8" width="21.3" height="13.9" fill="#e38a48"/>
<text x="380.8" y="1284.8" font-size="5.5" fill="#222">Label H</text>
<rect x="265.1" y="1291.7" width="21.3" height="13.9" fill="#4a8a38"/>
<rect x="287.4" y="1291.7" width="21.3" height="13.9" fill="#67a835"/>
<rect x="309.7" y="1291.7" width="21.3" height="13.9" fill="#de463c"/>
<rect x="331.9" y="1291.7" width="21.3" height="13.9" fill="#ebcd55"/>
<rect x="354.2" y="1291.7" width="21.3" height="13.9" fill="#e56a45"/>
<text x="380.8" y="1299.7" font-size="5.5" fill="#222">Label I</text>
<rect x="265.1" y="1306.7" width="21.3" height="13.9" fill="#3f7035"/>
<rect x="287.4" y="1306.7" width="21.3" height="13.9" fill="#47803a"/>
<rect x="309.7" y="1306.7" width="21.3" height="13.9" fill="#3f7035"/>
<rect x="331.9" y="1306.7" width="21.3" height="13.9" fill="#47803a"/>
<rect x="354.2" y="1306.7" width="21.3" height="13.9" fill="#9ce033"/>
<text x="380.8" y="1314.6" font-size="5.5" fill="#222">Label J</text>
<text x="277.6" y="1323.3" font-size="5.5" text-anchor="end" fill="#222" transform="rotate(-90 277.6 1323.3)">Label 1</text>
<text x="299.9" y="1323.3" font-size="5.5" text-anchor="end" fill="#222" transform="rotate(-90 299.9 1323.3)">Label 2</text>
<text x="322.2" y="1323.3" font-size="5.5" text-anchor="end" fill="#222" transform="rotate(-90 322.2 1323.3)">Label 3</text>
<text x="344.5" y="1323.3" font-size="5.5" text-anchor="end" fill="#222" transform="rotate(-90 344.5 1323.3)">Label 4</text>
<text x="366.8" y="1323.3" font-size="5.5" text-anchor="end" fill="#222" transform="rotate(-90 366.8 1323.3)">Label 5</text>
<path d="M293.0 1171.1L293.0 1163.1L328.0 1163.1L328.0 1171.1" fill="none" stroke="#222" stroke-width="1.1"/>
<path d="M309.4 1163.1L309.4 1155.0L344.7 1155.0L344.7 1171.8" fill="none" stroke="#222" stroke-width="1.1"/>
<path d="M264.4 1190.6L260.1 1190.6L260.1 1244.5L264.4 1244.5" fill="none" stroke="#444" stroke-width="0.6"/>
<path d="M264.4 1265.1L259.5 1265.1L259.5 1318.5L264.4 1318.5" fill="none" stroke="#444" stroke-width="0.6"/>
<path d="M260.1 1219.4L244.7 1219.4L244.7 1290.6L259.5 1290.6" fill="none" stroke="#222" stroke-width="1.1"/>
<defs><linearGradient id="cr" x1="0" y1="0" x2="1" y2="0"><stop offset="0" stop-color="#58aa3c"/><stop offset="0.3" stop-color="#a8aa3c"/><stop offset="0.5" stop-color="#e8a33f"/><stop offset="0.75" stop-color="#dd5a38"/><stop offset="1" stop-color="#cf2f2f"/></linearGradient></defs>
<rect x="382.9" y="1153.4" width="64.0" height="7.0" fill="url(#cr)"/>
<text x="414.4" y="1146.0" font-size="6.2" text-anchor="middle" fill="#111">Color range</text>
<path d="M486.4 1160 V1314.4 H664" fill="none" stroke="#231f20" stroke-width="4.9" stroke-linejoin="miter"/>
<path d="M480.6 1162 L486.4 1152.1 L492.2 1162Z" fill="#231f20"/>
<path d="M662 1308.9 L672 1314.4 L662 1319.9Z" fill="#231f20"/>
<circle cx="499.3" cy="1165.7" r="4.9" fill="#cc3530"/>
<circle cx="526.6" cy="1162.8" r="4.9" fill="#cc3530"/>
<circle cx="499.3" cy="1186.6" r="4.9" fill="#cc3530"/>
<circle cx="526.6" cy="1197.5" r="4.9" fill="#cc3530"/>
<circle cx="556.1" cy="1181.1" r="4.9" fill="#cc3530"/>
<circle cx="556.1" cy="1206.7" r="4.9" fill="#cc3530"/>
<circle cx="577.0" cy="1196.4" r="4.9" fill="#cc3530"/>
<circle cx="573.3" cy="1230.8" r="4.9" fill="#cc3530"/>
<circle cx="595.4" cy="1245.2" r="4.9" fill="#cc3530"/>
<circle cx="586.7" cy="1267.4" r="4.9" fill="#cc3530"/>
<circle cx="611.0" cy="1260.7" r="4.9" fill="#cc3530"/>
<circle cx="611.0" cy="1286.6" r="4.9" fill="#cc3530"/>
<circle cx="627.7" cy="1273.4" r="4.9" fill="#cc3530"/>
<circle cx="627.4" cy="1289.8" r="4.9" fill="#cc3530"/>
<circle cx="643.6" cy="1274.8" r="4.9" fill="#cc3530"/>
<circle cx="642.5" cy="1297.5" r="4.9" fill="#cc3530"/>
<path d="M486.4 1181.6 C522.0 1181.1 554.8 1187.4 569.5 1207.0 C582.6 1230.0 590.8 1262.8 610.5 1275.1 C623.6 1281.6 636.7 1284.1 653.1 1285.1" fill="none" stroke="#231f20" stroke-width="4.8" stroke-dasharray="8.2 7.6"/>
<text x="468.7" y="1240.2" font-size="21.5" text-anchor="middle" transform="rotate(-90 468.7 1240.2)">log2 intensity</text>
<text x="483.9" y="1343.6" font-size="26.3">Concentration [ng]</text>
</g>
</svg>
</body></html>
